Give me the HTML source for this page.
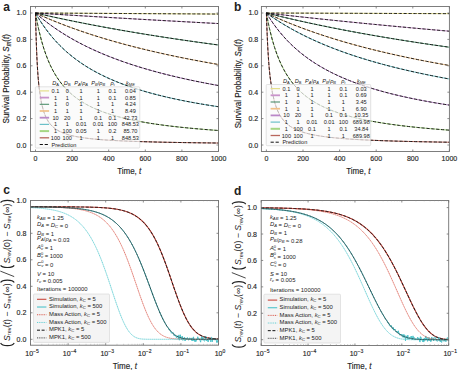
<!DOCTYPE html>
<html><head><meta charset="utf-8"><style>
html,body{margin:0;padding:0;background:#fff;width:458px;height:370px;overflow:hidden}
svg{display:block}
text.s{stroke:#2a2a2a;stroke-width:0.14px}
</style></head><body>
<svg width="458" height="370" viewBox="0 0 458 370" font-family="'Liberation Sans', sans-serif" fill="#222">
<rect width="458" height="370" fill="#fff"/>
<text x="3.2" y="10.6" font-size="12" font-weight="bold">a</text>
<path d="M35.5,13 L35.65,13 L35.8,13 L35.96,13 L36.11,13 L36.26,13 L36.41,13.01 L36.57,13.01 L36.72,13.01 L36.87,13.01 L37.02,13.01 L37.18,13.01 L37.33,13.01 L37.48,13.01 L37.63,13.01 L37.79,13.01 L37.94,13.01 L38.09,13.01 L38.24,13.02 L38.4,13.02 L38.55,13.02 L38.7,13.02 L38.86,13.02 L39.01,13.02 L39.16,13.02 L41.43,13.03 L43.7,13.05 L45.97,13.06 L48.24,13.07 L50.51,13.09 L52.78,13.1 L55.05,13.11 L57.32,13.13 L59.59,13.14 L61.86,13.15 L64.13,13.17 L66.4,13.18 L68.67,13.19 L70.94,13.2 L73.21,13.22 L75.48,13.23 L77.75,13.24 L80.02,13.26 L82.29,13.27 L84.56,13.28 L86.83,13.3 L89.1,13.31 L91.37,13.32 L93.64,13.33 L95.91,13.35 L98.18,13.36 L100.45,13.37 L102.72,13.39 L104.99,13.4 L107.26,13.41 L109.53,13.43 L111.8,13.44 L114.07,13.45 L116.34,13.46 L118.61,13.48 L120.88,13.49 L123.15,13.5 L125.42,13.52 L127.69,13.53 L129.97,13.54 L132.24,13.56 L134.51,13.57 L136.78,13.58 L139.05,13.59 L141.32,13.61 L143.59,13.62 L145.86,13.63 L148.13,13.65 L150.4,13.66 L152.67,13.67 L154.94,13.69 L157.21,13.7 L159.48,13.71 L161.75,13.72 L164.02,13.74 L166.29,13.75 L168.56,13.76 L170.83,13.78 L173.1,13.79 L175.37,13.8 L177.64,13.82 L179.91,13.83 L182.18,13.84 L184.45,13.85 L186.72,13.87 L188.99,13.88 L191.26,13.89 L193.53,13.91 L195.8,13.92 L198.07,13.93 L200.34,13.94 L202.61,13.96 L204.88,13.97 L207.15,13.98 L209.42,14 L211.69,14.01 L213.96,14.02 L216.23,14.03 L218.5,14.05" fill="none" stroke="#e4de8a" stroke-width="1.0"/>
<path d="M35.5,13 L35.65,13.01 L35.8,13.02 L35.96,13.03 L36.11,13.04 L36.26,13.05 L36.41,13.06 L36.57,13.07 L36.72,13.08 L36.87,13.09 L37.02,13.1 L37.18,13.11 L37.33,13.11 L37.48,13.12 L37.63,13.13 L37.79,13.14 L37.94,13.15 L38.09,13.16 L38.24,13.17 L38.4,13.18 L38.55,13.19 L38.7,13.2 L38.86,13.21 L39.01,13.22 L39.16,13.23 L41.43,13.37 L43.7,13.51 L45.97,13.65 L48.24,13.79 L50.51,13.94 L52.78,14.08 L55.05,14.22 L57.32,14.36 L59.59,14.49 L61.86,14.63 L64.13,14.77 L66.4,14.91 L68.67,15.05 L70.94,15.19 L73.21,15.32 L75.48,15.46 L77.75,15.6 L80.02,15.74 L82.29,15.87 L84.56,16.01 L86.83,16.14 L89.1,16.28 L91.37,16.42 L93.64,16.55 L95.91,16.69 L98.18,16.82 L100.45,16.95 L102.72,17.09 L104.99,17.22 L107.26,17.35 L109.53,17.49 L111.8,17.62 L114.07,17.75 L116.34,17.89 L118.61,18.02 L120.88,18.15 L123.15,18.28 L125.42,18.41 L127.69,18.54 L129.97,18.67 L132.24,18.8 L134.51,18.93 L136.78,19.06 L139.05,19.19 L141.32,19.32 L143.59,19.45 L145.86,19.58 L148.13,19.71 L150.4,19.84 L152.67,19.96 L154.94,20.09 L157.21,20.22 L159.48,20.35 L161.75,20.47 L164.02,20.6 L166.29,20.73 L168.56,20.85 L170.83,20.98 L173.1,21.1 L175.37,21.23 L177.64,21.36 L179.91,21.48 L182.18,21.6 L184.45,21.73 L186.72,21.85 L188.99,21.98 L191.26,22.1 L193.53,22.22 L195.8,22.35 L198.07,22.47 L200.34,22.59 L202.61,22.71 L204.88,22.84 L207.15,22.96 L209.42,23.08 L211.69,23.2 L213.96,23.32 L216.23,23.44 L218.5,23.56" fill="none" stroke="#c994cb" stroke-width="1.0"/>
<path d="M35.5,13 L35.65,13.04 L35.8,13.07 L35.96,13.11 L36.11,13.14 L36.26,13.18 L36.41,13.21 L36.57,13.25 L36.72,13.28 L36.87,13.32 L37.02,13.35 L37.18,13.39 L37.33,13.42 L37.48,13.46 L37.63,13.49 L37.79,13.53 L37.94,13.56 L38.09,13.6 L38.24,13.63 L38.4,13.67 L38.55,13.7 L38.7,13.74 L38.86,13.77 L39.01,13.8 L39.16,13.84 L41.43,14.35 L43.7,14.87 L45.97,15.37 L48.24,15.88 L50.51,16.38 L52.78,16.87 L55.05,17.36 L57.32,17.85 L59.59,18.34 L61.86,18.82 L64.13,19.29 L66.4,19.77 L68.67,20.24 L70.94,20.7 L73.21,21.17 L75.48,21.63 L77.75,22.08 L80.02,22.53 L82.29,22.98 L84.56,23.43 L86.83,23.87 L89.1,24.31 L91.37,24.75 L93.64,25.18 L95.91,25.61 L98.18,26.04 L100.45,26.46 L102.72,26.88 L104.99,27.3 L107.26,27.72 L109.53,28.13 L111.8,28.54 L114.07,28.95 L116.34,29.35 L118.61,29.75 L120.88,30.15 L123.15,30.54 L125.42,30.94 L127.69,31.33 L129.97,31.71 L132.24,32.1 L134.51,32.48 L136.78,32.86 L139.05,33.24 L141.32,33.61 L143.59,33.98 L145.86,34.35 L148.13,34.72 L150.4,35.08 L152.67,35.45 L154.94,35.81 L157.21,36.16 L159.48,36.52 L161.75,36.87 L164.02,37.22 L166.29,37.57 L168.56,37.92 L170.83,38.26 L173.1,38.6 L175.37,38.94 L177.64,39.28 L179.91,39.61 L182.18,39.95 L184.45,40.28 L186.72,40.6 L188.99,40.93 L191.26,41.26 L193.53,41.58 L195.8,41.9 L198.07,42.22 L200.34,42.53 L202.61,42.85 L204.88,43.16 L207.15,43.47 L209.42,43.78 L211.69,44.09 L213.96,44.39 L216.23,44.7 L218.5,45" fill="none" stroke="#4f8f6c" stroke-width="1.0"/>
<path d="M35.5,13 L35.65,13.07 L35.8,13.14 L35.96,13.21 L36.11,13.28 L36.26,13.35 L36.41,13.42 L36.57,13.49 L36.72,13.56 L36.87,13.63 L37.02,13.7 L37.18,13.77 L37.33,13.84 L37.48,13.91 L37.63,13.98 L37.79,14.05 L37.94,14.12 L38.09,14.19 L38.24,14.26 L38.4,14.32 L38.55,14.39 L38.7,14.46 L38.86,14.53 L39.01,14.6 L39.16,14.67 L41.43,15.68 L43.7,16.68 L45.97,17.66 L48.24,18.63 L50.51,19.58 L52.78,20.52 L55.05,21.45 L57.32,22.36 L59.59,23.26 L61.86,24.14 L64.13,25.01 L66.4,25.87 L68.67,26.72 L70.94,27.56 L73.21,28.38 L75.48,29.19 L77.75,29.99 L80.02,30.78 L82.29,31.56 L84.56,32.33 L86.83,33.09 L89.1,33.84 L91.37,34.58 L93.64,35.31 L95.91,36.02 L98.18,36.73 L100.45,37.43 L102.72,38.13 L104.99,38.81 L107.26,39.48 L109.53,40.15 L111.8,40.81 L114.07,41.45 L116.34,42.09 L118.61,42.73 L120.88,43.35 L123.15,43.97 L125.42,44.58 L127.69,45.18 L129.97,45.78 L132.24,46.37 L134.51,46.95 L136.78,47.52 L139.05,48.09 L141.32,48.65 L143.59,49.21 L145.86,49.76 L148.13,50.3 L150.4,50.84 L152.67,51.37 L154.94,51.89 L157.21,52.41 L159.48,52.92 L161.75,53.43 L164.02,53.93 L166.29,54.43 L168.56,54.92 L170.83,55.4 L173.1,55.88 L175.37,56.36 L177.64,56.83 L179.91,57.29 L182.18,57.75 L184.45,58.21 L186.72,58.66 L188.99,59.11 L191.26,59.55 L193.53,59.99 L195.8,60.42 L198.07,60.85 L200.34,61.27 L202.61,61.69 L204.88,62.1 L207.15,62.52 L209.42,62.92 L211.69,63.33 L213.96,63.73 L216.23,64.12 L218.5,64.51" fill="none" stroke="#f0c088" stroke-width="1.0"/>
<path d="M35.5,13 L35.65,13.13 L35.8,13.27 L35.96,13.4 L36.11,13.53 L36.26,13.67 L36.41,13.8 L36.57,13.93 L36.72,14.06 L36.87,14.2 L37.02,14.33 L37.18,14.46 L37.33,14.59 L37.48,14.72 L37.63,14.85 L37.79,14.98 L37.94,15.11 L38.09,15.24 L38.24,15.37 L38.4,15.5 L38.55,15.63 L38.7,15.76 L38.86,15.89 L39.01,16.02 L39.16,16.14 L41.43,18.02 L43.7,19.84 L45.97,21.61 L48.24,23.33 L50.51,25.01 L52.78,26.64 L55.05,28.22 L57.32,29.76 L59.59,31.27 L61.86,32.73 L64.13,34.16 L66.4,35.55 L68.67,36.9 L70.94,38.23 L73.21,39.52 L75.48,40.78 L77.75,42.01 L80.02,43.21 L82.29,44.39 L84.56,45.53 L86.83,46.66 L89.1,47.75 L91.37,48.82 L93.64,49.87 L95.91,50.9 L98.18,51.9 L100.45,52.89 L102.72,53.85 L104.99,54.79 L107.26,55.72 L109.53,56.62 L111.8,57.51 L114.07,58.38 L116.34,59.23 L118.61,60.06 L120.88,60.88 L123.15,61.69 L125.42,62.47 L127.69,63.25 L129.97,64.01 L132.24,64.75 L134.51,65.48 L136.78,66.2 L139.05,66.91 L141.32,67.6 L143.59,68.28 L145.86,68.95 L148.13,69.61 L150.4,70.25 L152.67,70.89 L154.94,71.51 L157.21,72.13 L159.48,72.73 L161.75,73.32 L164.02,73.91 L166.29,74.48 L168.56,75.05 L170.83,75.61 L173.1,76.15 L175.37,76.69 L177.64,77.22 L179.91,77.75 L182.18,78.26 L184.45,78.77 L186.72,79.27 L188.99,79.76 L191.26,80.24 L193.53,80.72 L195.8,81.19 L198.07,81.65 L200.34,82.11 L202.61,82.56 L204.88,83 L207.15,83.44 L209.42,83.87 L211.69,84.3 L213.96,84.72 L216.23,85.13 L218.5,85.54" fill="none" stroke="#bb88c8" stroke-width="1.0"/>
<path d="M35.5,13 L35.65,13.27 L35.8,13.54 L35.96,13.8 L36.11,14.07 L36.26,14.33 L36.41,14.6 L36.57,14.86 L36.72,15.12 L36.87,15.38 L37.02,15.64 L37.18,15.9 L37.33,16.16 L37.48,16.41 L37.63,16.67 L37.79,16.92 L37.94,17.18 L38.09,17.43 L38.24,17.68 L38.4,17.93 L38.55,18.18 L38.7,18.43 L38.86,18.67 L39.01,18.92 L39.16,19.17 L41.43,22.71 L43.7,26.06 L45.97,29.23 L48.24,32.23 L50.51,35.09 L52.78,37.8 L55.05,40.38 L57.32,42.84 L59.59,45.19 L61.86,47.43 L64.13,49.58 L66.4,51.63 L68.67,53.59 L70.94,55.48 L73.21,57.29 L75.48,59.02 L77.75,60.69 L80.02,62.3 L82.29,63.84 L84.56,65.33 L86.83,66.77 L89.1,68.15 L91.37,69.49 L93.64,70.78 L95.91,72.02 L98.18,73.23 L100.45,74.4 L102.72,75.53 L104.99,76.62 L107.26,77.68 L109.53,78.71 L111.8,79.7 L114.07,80.67 L116.34,81.61 L118.61,82.52 L120.88,83.41 L123.15,84.27 L125.42,85.11 L127.69,85.92 L129.97,86.71 L132.24,87.49 L134.51,88.24 L136.78,88.97 L139.05,89.68 L141.32,90.38 L143.59,91.06 L145.86,91.72 L148.13,92.36 L150.4,93 L152.67,93.61 L154.94,94.21 L157.21,94.8 L159.48,95.37 L161.75,95.93 L164.02,96.48 L166.29,97.02 L168.56,97.54 L170.83,98.05 L173.1,98.56 L175.37,99.05 L177.64,99.53 L179.91,100 L182.18,100.46 L184.45,100.91 L186.72,101.36 L188.99,101.79 L191.26,102.22 L193.53,102.63 L195.8,103.04 L198.07,103.44 L200.34,103.84 L202.61,104.22 L204.88,104.6 L207.15,104.98 L209.42,105.34 L211.69,105.7 L213.96,106.05 L216.23,106.4 L218.5,106.74" fill="none" stroke="#6cc0c8" stroke-width="1.0"/>
<path d="M35.5,13 L35.65,13.89 L35.8,14.76 L35.96,15.62 L36.11,16.47 L36.26,17.31 L36.41,18.14 L36.57,18.96 L36.72,19.76 L36.87,20.56 L37.02,21.35 L37.18,22.12 L37.33,22.89 L37.48,23.65 L37.63,24.4 L37.79,25.14 L37.94,25.87 L38.09,26.59 L38.24,27.3 L38.4,28 L38.55,28.7 L38.7,29.39 L38.86,30.07 L39.01,30.74 L39.16,31.4 L41.43,40.44 L43.7,48.15 L45.97,54.8 L48.24,60.6 L50.51,65.69 L52.78,70.21 L55.05,74.24 L57.32,77.85 L59.59,81.12 L61.86,84.08 L64.13,86.78 L66.4,89.25 L68.67,91.52 L70.94,93.61 L73.21,95.55 L75.48,97.34 L77.75,99.01 L80.02,100.57 L82.29,102.02 L84.56,103.38 L86.83,104.66 L89.1,105.86 L91.37,106.99 L93.64,108.06 L95.91,109.07 L98.18,110.03 L100.45,110.94 L102.72,111.8 L104.99,112.61 L107.26,113.39 L109.53,114.14 L111.8,114.85 L114.07,115.52 L116.34,116.17 L118.61,116.79 L120.88,117.38 L123.15,117.95 L125.42,118.5 L127.69,119.02 L129.97,119.52 L132.24,120.01 L134.51,120.47 L136.78,120.92 L139.05,121.36 L141.32,121.78 L143.59,122.18 L145.86,122.57 L148.13,122.95 L150.4,123.31 L152.67,123.66 L154.94,124 L157.21,124.33 L159.48,124.65 L161.75,124.96 L164.02,125.26 L166.29,125.56 L168.56,125.84 L170.83,126.12 L173.1,126.38 L175.37,126.64 L177.64,126.9 L179.91,127.14 L182.18,127.38 L184.45,127.62 L186.72,127.84 L188.99,128.06 L191.26,128.28 L193.53,128.49 L195.8,128.69 L198.07,128.89 L200.34,129.09 L202.61,129.28 L204.88,129.47 L207.15,129.65 L209.42,129.82 L211.69,130 L213.96,130.17 L216.23,130.33 L218.5,130.49" fill="none" stroke="#a6d684" stroke-width="1.0"/>
<path d="M35.5,13 L35.65,19.88 L35.8,26.08 L35.96,31.7 L36.11,36.8 L36.26,41.47 L36.41,45.75 L36.57,49.69 L36.72,53.33 L36.87,56.71 L37.02,59.84 L37.18,62.76 L37.33,65.48 L37.48,68.03 L37.63,70.42 L37.79,72.67 L37.94,74.79 L38.09,76.78 L38.24,78.67 L38.4,80.45 L38.55,82.14 L38.7,83.75 L38.86,85.27 L39.01,86.72 L39.16,88.1 L41.43,102.94 L43.7,111.65 L45.97,117.36 L48.24,121.41 L50.51,124.42 L52.78,126.75 L55.05,128.6 L57.32,130.12 L59.59,131.38 L61.86,132.44 L64.13,133.35 L66.4,134.13 L68.67,134.82 L70.94,135.42 L73.21,135.96 L75.48,136.44 L77.75,136.87 L80.02,137.26 L82.29,137.62 L84.56,137.94 L86.83,138.24 L89.1,138.51 L91.37,138.76 L93.64,138.99 L95.91,139.21 L98.18,139.41 L100.45,139.6 L102.72,139.77 L104.99,139.94 L107.26,140.09 L109.53,140.23 L111.8,140.37 L114.07,140.5 L116.34,140.62 L118.61,140.74 L120.88,140.85 L123.15,140.95 L125.42,141.05 L127.69,141.15 L129.97,141.24 L132.24,141.32 L134.51,141.4 L136.78,141.48 L139.05,141.56 L141.32,141.63 L143.59,141.7 L145.86,141.76 L148.13,141.83 L150.4,141.89 L152.67,141.95 L154.94,142.01 L157.21,142.06 L159.48,142.11 L161.75,142.16 L164.02,142.21 L166.29,142.26 L168.56,142.31 L170.83,142.35 L173.1,142.39 L175.37,142.43 L177.64,142.47 L179.91,142.51 L182.18,142.55 L184.45,142.59 L186.72,142.62 L188.99,142.66 L191.26,142.69 L193.53,142.72 L195.8,142.76 L198.07,142.79 L200.34,142.82 L202.61,142.85 L204.88,142.87 L207.15,142.9 L209.42,142.93 L211.69,142.95 L213.96,142.98 L216.23,143.01 L218.5,143.03" fill="none" stroke="#b8665c" stroke-width="1.0"/>
<path d="M35.5,13 L35.65,13 L35.8,13 L35.96,13 L36.11,13 L36.26,13 L36.41,13.01 L36.57,13.01 L36.72,13.01 L36.87,13.01 L37.02,13.01 L37.18,13.01 L37.33,13.01 L37.48,13.01 L37.63,13.01 L37.79,13.01 L37.94,13.01 L38.09,13.01 L38.24,13.02 L38.4,13.02 L38.55,13.02 L38.7,13.02 L38.86,13.02 L39.01,13.02 L39.16,13.02 L41.43,13.03 L43.7,13.05 L45.97,13.06 L48.24,13.07 L50.51,13.09 L52.78,13.1 L55.05,13.11 L57.32,13.13 L59.59,13.14 L61.86,13.15 L64.13,13.17 L66.4,13.18 L68.67,13.19 L70.94,13.2 L73.21,13.22 L75.48,13.23 L77.75,13.24 L80.02,13.26 L82.29,13.27 L84.56,13.28 L86.83,13.3 L89.1,13.31 L91.37,13.32 L93.64,13.33 L95.91,13.35 L98.18,13.36 L100.45,13.37 L102.72,13.39 L104.99,13.4 L107.26,13.41 L109.53,13.43 L111.8,13.44 L114.07,13.45 L116.34,13.46 L118.61,13.48 L120.88,13.49 L123.15,13.5 L125.42,13.52 L127.69,13.53 L129.97,13.54 L132.24,13.56 L134.51,13.57 L136.78,13.58 L139.05,13.59 L141.32,13.61 L143.59,13.62 L145.86,13.63 L148.13,13.65 L150.4,13.66 L152.67,13.67 L154.94,13.69 L157.21,13.7 L159.48,13.71 L161.75,13.72 L164.02,13.74 L166.29,13.75 L168.56,13.76 L170.83,13.78 L173.1,13.79 L175.37,13.8 L177.64,13.82 L179.91,13.83 L182.18,13.84 L184.45,13.85 L186.72,13.87 L188.99,13.88 L191.26,13.89 L193.53,13.91 L195.8,13.92 L198.07,13.93 L200.34,13.94 L202.61,13.96 L204.88,13.97 L207.15,13.98 L209.42,14 L211.69,14.01 L213.96,14.02 L216.23,14.03 L218.5,14.05" fill="none" stroke="#111" stroke-width="0.9" stroke-dasharray="3.2,1.7"/>
<path d="M35.5,13 L35.65,13.01 L35.8,13.02 L35.96,13.03 L36.11,13.04 L36.26,13.05 L36.41,13.06 L36.57,13.07 L36.72,13.08 L36.87,13.09 L37.02,13.1 L37.18,13.11 L37.33,13.11 L37.48,13.12 L37.63,13.13 L37.79,13.14 L37.94,13.15 L38.09,13.16 L38.24,13.17 L38.4,13.18 L38.55,13.19 L38.7,13.2 L38.86,13.21 L39.01,13.22 L39.16,13.23 L41.43,13.37 L43.7,13.51 L45.97,13.65 L48.24,13.79 L50.51,13.94 L52.78,14.08 L55.05,14.22 L57.32,14.36 L59.59,14.49 L61.86,14.63 L64.13,14.77 L66.4,14.91 L68.67,15.05 L70.94,15.19 L73.21,15.32 L75.48,15.46 L77.75,15.6 L80.02,15.74 L82.29,15.87 L84.56,16.01 L86.83,16.14 L89.1,16.28 L91.37,16.42 L93.64,16.55 L95.91,16.69 L98.18,16.82 L100.45,16.95 L102.72,17.09 L104.99,17.22 L107.26,17.35 L109.53,17.49 L111.8,17.62 L114.07,17.75 L116.34,17.89 L118.61,18.02 L120.88,18.15 L123.15,18.28 L125.42,18.41 L127.69,18.54 L129.97,18.67 L132.24,18.8 L134.51,18.93 L136.78,19.06 L139.05,19.19 L141.32,19.32 L143.59,19.45 L145.86,19.58 L148.13,19.71 L150.4,19.84 L152.67,19.96 L154.94,20.09 L157.21,20.22 L159.48,20.35 L161.75,20.47 L164.02,20.6 L166.29,20.73 L168.56,20.85 L170.83,20.98 L173.1,21.1 L175.37,21.23 L177.64,21.36 L179.91,21.48 L182.18,21.6 L184.45,21.73 L186.72,21.85 L188.99,21.98 L191.26,22.1 L193.53,22.22 L195.8,22.35 L198.07,22.47 L200.34,22.59 L202.61,22.71 L204.88,22.84 L207.15,22.96 L209.42,23.08 L211.69,23.2 L213.96,23.32 L216.23,23.44 L218.5,23.56" fill="none" stroke="#111" stroke-width="0.9" stroke-dasharray="3.2,1.7"/>
<path d="M35.5,13 L35.65,13.04 L35.8,13.07 L35.96,13.11 L36.11,13.14 L36.26,13.18 L36.41,13.21 L36.57,13.25 L36.72,13.28 L36.87,13.32 L37.02,13.35 L37.18,13.39 L37.33,13.42 L37.48,13.46 L37.63,13.49 L37.79,13.53 L37.94,13.56 L38.09,13.6 L38.24,13.63 L38.4,13.67 L38.55,13.7 L38.7,13.74 L38.86,13.77 L39.01,13.8 L39.16,13.84 L41.43,14.35 L43.7,14.87 L45.97,15.37 L48.24,15.88 L50.51,16.38 L52.78,16.87 L55.05,17.36 L57.32,17.85 L59.59,18.34 L61.86,18.82 L64.13,19.29 L66.4,19.77 L68.67,20.24 L70.94,20.7 L73.21,21.17 L75.48,21.63 L77.75,22.08 L80.02,22.53 L82.29,22.98 L84.56,23.43 L86.83,23.87 L89.1,24.31 L91.37,24.75 L93.64,25.18 L95.91,25.61 L98.18,26.04 L100.45,26.46 L102.72,26.88 L104.99,27.3 L107.26,27.72 L109.53,28.13 L111.8,28.54 L114.07,28.95 L116.34,29.35 L118.61,29.75 L120.88,30.15 L123.15,30.54 L125.42,30.94 L127.69,31.33 L129.97,31.71 L132.24,32.1 L134.51,32.48 L136.78,32.86 L139.05,33.24 L141.32,33.61 L143.59,33.98 L145.86,34.35 L148.13,34.72 L150.4,35.08 L152.67,35.45 L154.94,35.81 L157.21,36.16 L159.48,36.52 L161.75,36.87 L164.02,37.22 L166.29,37.57 L168.56,37.92 L170.83,38.26 L173.1,38.6 L175.37,38.94 L177.64,39.28 L179.91,39.61 L182.18,39.95 L184.45,40.28 L186.72,40.6 L188.99,40.93 L191.26,41.26 L193.53,41.58 L195.8,41.9 L198.07,42.22 L200.34,42.53 L202.61,42.85 L204.88,43.16 L207.15,43.47 L209.42,43.78 L211.69,44.09 L213.96,44.39 L216.23,44.7 L218.5,45" fill="none" stroke="#111" stroke-width="0.9" stroke-dasharray="3.2,1.7"/>
<path d="M35.5,13 L35.65,13.07 L35.8,13.14 L35.96,13.21 L36.11,13.28 L36.26,13.35 L36.41,13.42 L36.57,13.49 L36.72,13.56 L36.87,13.63 L37.02,13.7 L37.18,13.77 L37.33,13.84 L37.48,13.91 L37.63,13.98 L37.79,14.05 L37.94,14.12 L38.09,14.19 L38.24,14.26 L38.4,14.32 L38.55,14.39 L38.7,14.46 L38.86,14.53 L39.01,14.6 L39.16,14.67 L41.43,15.68 L43.7,16.68 L45.97,17.66 L48.24,18.63 L50.51,19.58 L52.78,20.52 L55.05,21.45 L57.32,22.36 L59.59,23.26 L61.86,24.14 L64.13,25.01 L66.4,25.87 L68.67,26.72 L70.94,27.56 L73.21,28.38 L75.48,29.19 L77.75,29.99 L80.02,30.78 L82.29,31.56 L84.56,32.33 L86.83,33.09 L89.1,33.84 L91.37,34.58 L93.64,35.31 L95.91,36.02 L98.18,36.73 L100.45,37.43 L102.72,38.13 L104.99,38.81 L107.26,39.48 L109.53,40.15 L111.8,40.81 L114.07,41.45 L116.34,42.09 L118.61,42.73 L120.88,43.35 L123.15,43.97 L125.42,44.58 L127.69,45.18 L129.97,45.78 L132.24,46.37 L134.51,46.95 L136.78,47.52 L139.05,48.09 L141.32,48.65 L143.59,49.21 L145.86,49.76 L148.13,50.3 L150.4,50.84 L152.67,51.37 L154.94,51.89 L157.21,52.41 L159.48,52.92 L161.75,53.43 L164.02,53.93 L166.29,54.43 L168.56,54.92 L170.83,55.4 L173.1,55.88 L175.37,56.36 L177.64,56.83 L179.91,57.29 L182.18,57.75 L184.45,58.21 L186.72,58.66 L188.99,59.11 L191.26,59.55 L193.53,59.99 L195.8,60.42 L198.07,60.85 L200.34,61.27 L202.61,61.69 L204.88,62.1 L207.15,62.52 L209.42,62.92 L211.69,63.33 L213.96,63.73 L216.23,64.12 L218.5,64.51" fill="none" stroke="#111" stroke-width="0.9" stroke-dasharray="3.2,1.7"/>
<path d="M35.5,13 L35.65,13.13 L35.8,13.27 L35.96,13.4 L36.11,13.53 L36.26,13.67 L36.41,13.8 L36.57,13.93 L36.72,14.06 L36.87,14.2 L37.02,14.33 L37.18,14.46 L37.33,14.59 L37.48,14.72 L37.63,14.85 L37.79,14.98 L37.94,15.11 L38.09,15.24 L38.24,15.37 L38.4,15.5 L38.55,15.63 L38.7,15.76 L38.86,15.89 L39.01,16.02 L39.16,16.14 L41.43,18.02 L43.7,19.84 L45.97,21.61 L48.24,23.33 L50.51,25.01 L52.78,26.64 L55.05,28.22 L57.32,29.76 L59.59,31.27 L61.86,32.73 L64.13,34.16 L66.4,35.55 L68.67,36.9 L70.94,38.23 L73.21,39.52 L75.48,40.78 L77.75,42.01 L80.02,43.21 L82.29,44.39 L84.56,45.53 L86.83,46.66 L89.1,47.75 L91.37,48.82 L93.64,49.87 L95.91,50.9 L98.18,51.9 L100.45,52.89 L102.72,53.85 L104.99,54.79 L107.26,55.72 L109.53,56.62 L111.8,57.51 L114.07,58.38 L116.34,59.23 L118.61,60.06 L120.88,60.88 L123.15,61.69 L125.42,62.47 L127.69,63.25 L129.97,64.01 L132.24,64.75 L134.51,65.48 L136.78,66.2 L139.05,66.91 L141.32,67.6 L143.59,68.28 L145.86,68.95 L148.13,69.61 L150.4,70.25 L152.67,70.89 L154.94,71.51 L157.21,72.13 L159.48,72.73 L161.75,73.32 L164.02,73.91 L166.29,74.48 L168.56,75.05 L170.83,75.61 L173.1,76.15 L175.37,76.69 L177.64,77.22 L179.91,77.75 L182.18,78.26 L184.45,78.77 L186.72,79.27 L188.99,79.76 L191.26,80.24 L193.53,80.72 L195.8,81.19 L198.07,81.65 L200.34,82.11 L202.61,82.56 L204.88,83 L207.15,83.44 L209.42,83.87 L211.69,84.3 L213.96,84.72 L216.23,85.13 L218.5,85.54" fill="none" stroke="#111" stroke-width="0.9" stroke-dasharray="3.2,1.7"/>
<path d="M35.5,13 L35.65,13.27 L35.8,13.54 L35.96,13.8 L36.11,14.07 L36.26,14.33 L36.41,14.6 L36.57,14.86 L36.72,15.12 L36.87,15.38 L37.02,15.64 L37.18,15.9 L37.33,16.16 L37.48,16.41 L37.63,16.67 L37.79,16.92 L37.94,17.18 L38.09,17.43 L38.24,17.68 L38.4,17.93 L38.55,18.18 L38.7,18.43 L38.86,18.67 L39.01,18.92 L39.16,19.17 L41.43,22.71 L43.7,26.06 L45.97,29.23 L48.24,32.23 L50.51,35.09 L52.78,37.8 L55.05,40.38 L57.32,42.84 L59.59,45.19 L61.86,47.43 L64.13,49.58 L66.4,51.63 L68.67,53.59 L70.94,55.48 L73.21,57.29 L75.48,59.02 L77.75,60.69 L80.02,62.3 L82.29,63.84 L84.56,65.33 L86.83,66.77 L89.1,68.15 L91.37,69.49 L93.64,70.78 L95.91,72.02 L98.18,73.23 L100.45,74.4 L102.72,75.53 L104.99,76.62 L107.26,77.68 L109.53,78.71 L111.8,79.7 L114.07,80.67 L116.34,81.61 L118.61,82.52 L120.88,83.41 L123.15,84.27 L125.42,85.11 L127.69,85.92 L129.97,86.71 L132.24,87.49 L134.51,88.24 L136.78,88.97 L139.05,89.68 L141.32,90.38 L143.59,91.06 L145.86,91.72 L148.13,92.36 L150.4,93 L152.67,93.61 L154.94,94.21 L157.21,94.8 L159.48,95.37 L161.75,95.93 L164.02,96.48 L166.29,97.02 L168.56,97.54 L170.83,98.05 L173.1,98.56 L175.37,99.05 L177.64,99.53 L179.91,100 L182.18,100.46 L184.45,100.91 L186.72,101.36 L188.99,101.79 L191.26,102.22 L193.53,102.63 L195.8,103.04 L198.07,103.44 L200.34,103.84 L202.61,104.22 L204.88,104.6 L207.15,104.98 L209.42,105.34 L211.69,105.7 L213.96,106.05 L216.23,106.4 L218.5,106.74" fill="none" stroke="#111" stroke-width="0.9" stroke-dasharray="3.2,1.7"/>
<path d="M35.5,13 L35.65,13.89 L35.8,14.76 L35.96,15.62 L36.11,16.47 L36.26,17.31 L36.41,18.14 L36.57,18.96 L36.72,19.76 L36.87,20.56 L37.02,21.35 L37.18,22.12 L37.33,22.89 L37.48,23.65 L37.63,24.4 L37.79,25.14 L37.94,25.87 L38.09,26.59 L38.24,27.3 L38.4,28 L38.55,28.7 L38.7,29.39 L38.86,30.07 L39.01,30.74 L39.16,31.4 L41.43,40.44 L43.7,48.15 L45.97,54.8 L48.24,60.6 L50.51,65.69 L52.78,70.21 L55.05,74.24 L57.32,77.85 L59.59,81.12 L61.86,84.08 L64.13,86.78 L66.4,89.25 L68.67,91.52 L70.94,93.61 L73.21,95.55 L75.48,97.34 L77.75,99.01 L80.02,100.57 L82.29,102.02 L84.56,103.38 L86.83,104.66 L89.1,105.86 L91.37,106.99 L93.64,108.06 L95.91,109.07 L98.18,110.03 L100.45,110.94 L102.72,111.8 L104.99,112.61 L107.26,113.39 L109.53,114.14 L111.8,114.85 L114.07,115.52 L116.34,116.17 L118.61,116.79 L120.88,117.38 L123.15,117.95 L125.42,118.5 L127.69,119.02 L129.97,119.52 L132.24,120.01 L134.51,120.47 L136.78,120.92 L139.05,121.36 L141.32,121.78 L143.59,122.18 L145.86,122.57 L148.13,122.95 L150.4,123.31 L152.67,123.66 L154.94,124 L157.21,124.33 L159.48,124.65 L161.75,124.96 L164.02,125.26 L166.29,125.56 L168.56,125.84 L170.83,126.12 L173.1,126.38 L175.37,126.64 L177.64,126.9 L179.91,127.14 L182.18,127.38 L184.45,127.62 L186.72,127.84 L188.99,128.06 L191.26,128.28 L193.53,128.49 L195.8,128.69 L198.07,128.89 L200.34,129.09 L202.61,129.28 L204.88,129.47 L207.15,129.65 L209.42,129.82 L211.69,130 L213.96,130.17 L216.23,130.33 L218.5,130.49" fill="none" stroke="#111" stroke-width="0.9" stroke-dasharray="3.2,1.7"/>
<path d="M35.5,13 L35.65,19.88 L35.8,26.08 L35.96,31.7 L36.11,36.8 L36.26,41.47 L36.41,45.75 L36.57,49.69 L36.72,53.33 L36.87,56.71 L37.02,59.84 L37.18,62.76 L37.33,65.48 L37.48,68.03 L37.63,70.42 L37.79,72.67 L37.94,74.79 L38.09,76.78 L38.24,78.67 L38.4,80.45 L38.55,82.14 L38.7,83.75 L38.86,85.27 L39.01,86.72 L39.16,88.1 L41.43,102.94 L43.7,111.65 L45.97,117.36 L48.24,121.41 L50.51,124.42 L52.78,126.75 L55.05,128.6 L57.32,130.12 L59.59,131.38 L61.86,132.44 L64.13,133.35 L66.4,134.13 L68.67,134.82 L70.94,135.42 L73.21,135.96 L75.48,136.44 L77.75,136.87 L80.02,137.26 L82.29,137.62 L84.56,137.94 L86.83,138.24 L89.1,138.51 L91.37,138.76 L93.64,138.99 L95.91,139.21 L98.18,139.41 L100.45,139.6 L102.72,139.77 L104.99,139.94 L107.26,140.09 L109.53,140.23 L111.8,140.37 L114.07,140.5 L116.34,140.62 L118.61,140.74 L120.88,140.85 L123.15,140.95 L125.42,141.05 L127.69,141.15 L129.97,141.24 L132.24,141.32 L134.51,141.4 L136.78,141.48 L139.05,141.56 L141.32,141.63 L143.59,141.7 L145.86,141.76 L148.13,141.83 L150.4,141.89 L152.67,141.95 L154.94,142.01 L157.21,142.06 L159.48,142.11 L161.75,142.16 L164.02,142.21 L166.29,142.26 L168.56,142.31 L170.83,142.35 L173.1,142.39 L175.37,142.43 L177.64,142.47 L179.91,142.51 L182.18,142.55 L184.45,142.59 L186.72,142.62 L188.99,142.66 L191.26,142.69 L193.53,142.72 L195.8,142.76 L198.07,142.79 L200.34,142.82 L202.61,142.85 L204.88,142.87 L207.15,142.9 L209.42,142.93 L211.69,142.95 L213.96,142.98 L216.23,143.01 L218.5,143.03" fill="none" stroke="#111" stroke-width="0.9" stroke-dasharray="3.2,1.7"/>
<rect x="30.5" y="6.5" width="188" height="145" fill="none" stroke="#707070" stroke-width="0.9"/>
<path d="M35.5,151.5 v-2 M35.5,6.5 v2" stroke="#707070" stroke-width="0.8"/>
<text class="s" x="35.5" y="161.2" font-size="7" text-anchor="middle">0</text>
<path d="M72.1,151.5 v-2 M72.1,6.5 v2" stroke="#707070" stroke-width="0.8"/>
<text class="s" x="72.1" y="161.2" font-size="7" text-anchor="middle">200</text>
<path d="M108.7,151.5 v-2 M108.7,6.5 v2" stroke="#707070" stroke-width="0.8"/>
<text class="s" x="108.7" y="161.2" font-size="7" text-anchor="middle">400</text>
<path d="M145.3,151.5 v-2 M145.3,6.5 v2" stroke="#707070" stroke-width="0.8"/>
<text class="s" x="145.3" y="161.2" font-size="7" text-anchor="middle">600</text>
<path d="M181.9,151.5 v-2 M181.9,6.5 v2" stroke="#707070" stroke-width="0.8"/>
<text class="s" x="181.9" y="161.2" font-size="7" text-anchor="middle">800</text>
<path d="M218.5,151.5 v-2 M218.5,6.5 v2" stroke="#707070" stroke-width="0.8"/>
<text class="s" x="218.5" y="161.2" font-size="7" text-anchor="middle">1000</text>
<path d="M30.5,145 h2 M218.5,145 h-2" stroke="#707070" stroke-width="0.8"/>
<text class="s" x="26.3" y="147.5" font-size="7" text-anchor="end">0.0</text>
<path d="M30.5,118.6 h2 M218.5,118.6 h-2" stroke="#707070" stroke-width="0.8"/>
<text class="s" x="26.3" y="121.1" font-size="7" text-anchor="end">0.2</text>
<path d="M30.5,92.2 h2 M218.5,92.2 h-2" stroke="#707070" stroke-width="0.8"/>
<text class="s" x="26.3" y="94.7" font-size="7" text-anchor="end">0.4</text>
<path d="M30.5,65.8 h2 M218.5,65.8 h-2" stroke="#707070" stroke-width="0.8"/>
<text class="s" x="26.3" y="68.3" font-size="7" text-anchor="end">0.6</text>
<path d="M30.5,39.4 h2 M218.5,39.4 h-2" stroke="#707070" stroke-width="0.8"/>
<text class="s" x="26.3" y="41.9" font-size="7" text-anchor="end">0.8</text>
<path d="M30.5,13 h2 M218.5,13 h-2" stroke="#707070" stroke-width="0.8"/>
<text class="s" x="26.3" y="14.7" font-size="7" text-anchor="end">1.0</text>
<text class="s" transform="translate(129.2,173.9) scale(1,1.12)" font-size="8" text-anchor="middle">Time, <tspan font-style="italic">t</tspan></text>
<text class="s" transform="translate(9.2,78.8) rotate(-90) scale(1,1.15)" font-size="8" text-anchor="middle">Survival Probability, <tspan font-style="italic">S</tspan><tspan font-size="5.5" dy="1.5" font-style="italic">m</tspan><tspan dy="-1.5">(</tspan><tspan font-style="italic">t</tspan>)</text>
<rect x="35.3" y="86.8" width="104.5" height="61.2" fill="#fafafa" fill-opacity="0.72" stroke="#d0d0d0" stroke-width="0.6" rx="1"/>
<text x="55.5" y="84.9" font-size="5.6" text-anchor="middle"><tspan font-style="italic">D</tspan><tspan font-size="4" dy="1">A</tspan></text>
<text x="67.2" y="84.9" font-size="5.6" text-anchor="middle"><tspan font-style="italic">D</tspan><tspan font-size="4" dy="1">B</tspan></text>
<text x="81.1" y="84.9" font-size="5.6" text-anchor="middle"><tspan font-style="italic">P</tspan><tspan font-size="4" dy="1" font-style="italic">A</tspan><tspan dy="-1">/</tspan><tspan font-style="italic">ρ</tspan><tspan font-size="4" dy="1" font-style="italic">A</tspan></text>
<text x="98.2" y="84.9" font-size="5.6" text-anchor="middle"><tspan font-style="italic">P</tspan><tspan font-size="4" dy="1" font-style="italic">B</tspan><tspan dy="-1">/</tspan><tspan font-style="italic">ρ</tspan><tspan font-size="4" dy="1" font-style="italic">B</tspan></text>
<text x="112.5" y="84.9" font-size="5.6" text-anchor="middle"><tspan font-style="italic">ρ</tspan><tspan font-size="4" dy="1" font-style="italic">i</tspan></text>
<text x="130.4" y="84.9" font-size="5.6" text-anchor="middle"><tspan font-style="italic">k</tspan><tspan font-size="4" dy="1" font-style="italic">ME</tspan></text>
<path d="M39.7,90.9 h9.4" stroke="#e4de8a" stroke-width="1.2"/>
<text x="55.5" y="92.9" font-size="5.6" text-anchor="middle">0.1</text>
<text x="67.2" y="92.9" font-size="5.6" text-anchor="middle">0</text>
<text x="81.1" y="92.9" font-size="5.6" text-anchor="middle">1</text>
<text x="98.2" y="92.9" font-size="5.6" text-anchor="middle">1</text>
<text x="112.5" y="92.9" font-size="5.6" text-anchor="middle">0.1</text>
<text x="130.4" y="92.9" font-size="5.6" text-anchor="middle">0.04</text>
<path d="M39.7,97.6 h9.4" stroke="#c994cb" stroke-width="1.8"/>
<text x="55.5" y="99.6" font-size="5.6" text-anchor="middle">1</text>
<text x="67.2" y="99.6" font-size="5.6" text-anchor="middle">1</text>
<text x="81.1" y="99.6" font-size="5.6" text-anchor="middle">1</text>
<text x="98.2" y="99.6" font-size="5.6" text-anchor="middle">1</text>
<text x="112.5" y="99.6" font-size="5.6" text-anchor="middle">0.1</text>
<text x="130.4" y="99.6" font-size="5.6" text-anchor="middle">0.85</text>
<path d="M39.7,104.3 h9.4" stroke="#4f8f6c" stroke-width="1.1"/>
<text x="55.5" y="106.3" font-size="5.6" text-anchor="middle">1</text>
<text x="67.2" y="106.3" font-size="5.6" text-anchor="middle">0</text>
<text x="81.1" y="106.3" font-size="5.6" text-anchor="middle">1</text>
<text x="98.2" y="106.3" font-size="5.6" text-anchor="middle">1</text>
<text x="112.5" y="106.3" font-size="5.6" text-anchor="middle">1</text>
<text x="130.4" y="106.3" font-size="5.6" text-anchor="middle">4.24</text>
<path d="M39.7,111 h9.4" stroke="#f0c088" stroke-width="1.7"/>
<text x="55.5" y="113" font-size="5.6" text-anchor="middle">1</text>
<text x="67.2" y="113" font-size="5.6" text-anchor="middle">1</text>
<text x="81.1" y="113" font-size="5.6" text-anchor="middle">1</text>
<text x="98.2" y="113" font-size="5.6" text-anchor="middle">1</text>
<text x="112.5" y="113" font-size="5.6" text-anchor="middle">1</text>
<text x="130.4" y="113" font-size="5.6" text-anchor="middle">8.49</text>
<path d="M39.7,117.7 h9.4" stroke="#bb88c8" stroke-width="1.8"/>
<text x="55.5" y="119.7" font-size="5.6" text-anchor="middle">10</text>
<text x="67.2" y="119.7" font-size="5.6" text-anchor="middle">20</text>
<text x="81.1" y="119.7" font-size="5.6" text-anchor="middle">1</text>
<text x="98.2" y="119.7" font-size="5.6" text-anchor="middle">0.1</text>
<text x="112.5" y="119.7" font-size="5.6" text-anchor="middle">0.1</text>
<text x="130.4" y="119.7" font-size="5.6" text-anchor="middle">42.73</text>
<path d="M39.7,124.4 h9.4" stroke="#6cc0c8" stroke-width="1.2"/>
<text x="55.5" y="126.4" font-size="5.6" text-anchor="middle">1</text>
<text x="67.2" y="126.4" font-size="5.6" text-anchor="middle">1</text>
<text x="81.1" y="126.4" font-size="5.6" text-anchor="middle">0.01</text>
<text x="98.2" y="126.4" font-size="5.6" text-anchor="middle">0.01</text>
<text x="112.5" y="126.4" font-size="5.6" text-anchor="middle">100</text>
<text x="130.4" y="126.4" font-size="5.6" text-anchor="middle">848.53</text>
<path d="M39.7,131.1 h9.4" stroke="#a6d684" stroke-width="2.0"/>
<text x="55.5" y="133.1" font-size="5.6" text-anchor="middle">1</text>
<text x="67.2" y="133.1" font-size="5.6" text-anchor="middle">100</text>
<text x="81.1" y="133.1" font-size="5.6" text-anchor="middle">0.05</text>
<text x="98.2" y="133.1" font-size="5.6" text-anchor="middle">1</text>
<text x="112.5" y="133.1" font-size="5.6" text-anchor="middle">0.2</text>
<text x="130.4" y="133.1" font-size="5.6" text-anchor="middle">85.70</text>
<path d="M39.7,137.8 h9.4" stroke="#b8665c" stroke-width="1.3"/>
<text x="55.5" y="139.8" font-size="5.6" text-anchor="middle">100</text>
<text x="67.2" y="139.8" font-size="5.6" text-anchor="middle">100</text>
<text x="81.1" y="139.8" font-size="5.6" text-anchor="middle">1</text>
<text x="98.2" y="139.8" font-size="5.6" text-anchor="middle">1</text>
<text x="112.5" y="139.8" font-size="5.6" text-anchor="middle">1</text>
<text x="130.4" y="139.8" font-size="5.6" text-anchor="middle">848.53</text>
<path d="M39.7,144.5 h9.4" stroke="#111" stroke-width="1" stroke-dasharray="3.2,1.8"/>
<text x="51.5" y="146.5" font-size="5.6">Prediction</text>
<text x="234.1" y="10.6" font-size="12" font-weight="bold">b</text>
<path d="M266.4,13 L266.55,13 L266.7,13 L266.86,13 L267.01,13 L267.16,13 L267.31,13 L267.47,13 L267.62,13 L267.77,13 L267.92,13.01 L268.08,13.01 L268.23,13.01 L268.38,13.01 L268.53,13.01 L268.69,13.01 L268.84,13.01 L268.99,13.01 L269.14,13.01 L269.3,13.01 L269.45,13.01 L269.6,13.01 L269.75,13.01 L269.91,13.01 L270.06,13.01 L272.33,13.02 L274.6,13.03 L276.87,13.04 L279.14,13.05 L281.41,13.05 L283.68,13.06 L285.95,13.07 L288.22,13.08 L290.49,13.09 L292.76,13.1 L295.03,13.1 L297.3,13.11 L299.57,13.12 L301.84,13.13 L304.11,13.14 L306.38,13.14 L308.65,13.15 L310.92,13.16 L313.19,13.17 L315.46,13.18 L317.73,13.18 L320,13.19 L322.27,13.2 L324.54,13.21 L326.81,13.22 L329.08,13.23 L331.35,13.23 L333.62,13.24 L335.89,13.25 L338.16,13.26 L340.43,13.27 L342.7,13.27 L344.97,13.28 L347.24,13.29 L349.51,13.3 L351.78,13.31 L354.05,13.32 L356.32,13.32 L358.59,13.33 L360.87,13.34 L363.14,13.35 L365.41,13.36 L367.68,13.36 L369.95,13.37 L372.22,13.38 L374.49,13.39 L376.76,13.4 L379.03,13.4 L381.3,13.41 L383.57,13.42 L385.84,13.43 L388.11,13.44 L390.38,13.45 L392.65,13.45 L394.92,13.46 L397.19,13.47 L399.46,13.48 L401.73,13.49 L404,13.49 L406.27,13.5 L408.54,13.51 L410.81,13.52 L413.08,13.53 L415.35,13.54 L417.62,13.54 L419.89,13.55 L422.16,13.56 L424.43,13.57 L426.7,13.58 L428.97,13.58 L431.24,13.59 L433.51,13.6 L435.78,13.61 L438.05,13.62 L440.32,13.62 L442.59,13.63 L444.86,13.64 L447.13,13.65 L449.4,13.66" fill="none" stroke="#e4de8a" stroke-width="1.0"/>
<path d="M266.4,13 L266.55,13.02 L266.7,13.04 L266.86,13.05 L267.01,13.07 L267.16,13.09 L267.31,13.11 L267.47,13.12 L267.62,13.14 L267.77,13.16 L267.92,13.18 L268.08,13.19 L268.23,13.21 L268.38,13.23 L268.53,13.25 L268.69,13.26 L268.84,13.28 L268.99,13.3 L269.14,13.32 L269.3,13.33 L269.45,13.35 L269.6,13.37 L269.75,13.39 L269.91,13.4 L270.06,13.42 L272.33,13.68 L274.6,13.94 L276.87,14.2 L279.14,14.45 L281.41,14.71 L283.68,14.96 L285.95,15.22 L288.22,15.47 L290.49,15.72 L292.76,15.97 L295.03,16.22 L297.3,16.47 L299.57,16.72 L301.84,16.97 L304.11,17.21 L306.38,17.46 L308.65,17.7 L310.92,17.95 L313.19,18.19 L315.46,18.43 L317.73,18.67 L320,18.91 L322.27,19.15 L324.54,19.39 L326.81,19.62 L329.08,19.86 L331.35,20.09 L333.62,20.33 L335.89,20.56 L338.16,20.79 L340.43,21.02 L342.7,21.26 L344.97,21.49 L347.24,21.71 L349.51,21.94 L351.78,22.17 L354.05,22.4 L356.32,22.62 L358.59,22.85 L360.87,23.07 L363.14,23.29 L365.41,23.52 L367.68,23.74 L369.95,23.96 L372.22,24.18 L374.49,24.4 L376.76,24.62 L379.03,24.83 L381.3,25.05 L383.57,25.27 L385.84,25.48 L388.11,25.7 L390.38,25.91 L392.65,26.12 L394.92,26.33 L397.19,26.55 L399.46,26.76 L401.73,26.97 L404,27.17 L406.27,27.38 L408.54,27.59 L410.81,27.8 L413.08,28 L415.35,28.21 L417.62,28.41 L419.89,28.62 L422.16,28.82 L424.43,29.02 L426.7,29.23 L428.97,29.43 L431.24,29.63 L433.51,29.83 L435.78,30.03 L438.05,30.22 L440.32,30.42 L442.59,30.62 L444.86,30.82 L447.13,31.01 L449.4,31.21" fill="none" stroke="#c994cb" stroke-width="1.0"/>
<path d="M266.4,13 L266.55,13.04 L266.7,13.08 L266.86,13.12 L267.01,13.15 L267.16,13.19 L267.31,13.23 L267.47,13.27 L267.62,13.31 L267.77,13.35 L267.92,13.38 L268.08,13.42 L268.23,13.46 L268.38,13.5 L268.53,13.54 L268.69,13.57 L268.84,13.61 L268.99,13.65 L269.14,13.69 L269.3,13.73 L269.45,13.77 L269.6,13.8 L269.75,13.84 L269.91,13.88 L270.06,13.92 L272.33,14.48 L274.6,15.04 L276.87,15.59 L279.14,16.14 L281.41,16.68 L283.68,17.22 L285.95,17.76 L288.22,18.29 L290.49,18.81 L292.76,19.34 L295.03,19.85 L297.3,20.37 L299.57,20.87 L301.84,21.38 L304.11,21.88 L306.38,22.38 L308.65,22.87 L310.92,23.36 L313.19,23.84 L315.46,24.32 L317.73,24.8 L320,25.27 L322.27,25.74 L324.54,26.21 L326.81,26.67 L329.08,27.13 L331.35,27.59 L333.62,28.04 L335.89,28.49 L338.16,28.93 L340.43,29.37 L342.7,29.81 L344.97,30.25 L347.24,30.68 L349.51,31.1 L351.78,31.53 L354.05,31.95 L356.32,32.37 L358.59,32.79 L360.87,33.2 L363.14,33.61 L365.41,34.02 L367.68,34.42 L369.95,34.82 L372.22,35.22 L374.49,35.61 L376.76,36 L379.03,36.39 L381.3,36.78 L383.57,37.16 L385.84,37.55 L388.11,37.92 L390.38,38.3 L392.65,38.67 L394.92,39.04 L397.19,39.41 L399.46,39.78 L401.73,40.14 L404,40.5 L406.27,40.86 L408.54,41.21 L410.81,41.57 L413.08,41.92 L415.35,42.27 L417.62,42.61 L419.89,42.96 L422.16,43.3 L424.43,43.64 L426.7,43.97 L428.97,44.31 L431.24,44.64 L433.51,44.97 L435.78,45.3 L438.05,45.62 L440.32,45.95 L442.59,46.27 L444.86,46.59 L447.13,46.91 L449.4,47.22" fill="none" stroke="#4f8f6c" stroke-width="1.0"/>
<path d="M266.4,13 L266.55,13.07 L266.7,13.15 L266.86,13.22 L267.01,13.29 L267.16,13.36 L267.31,13.43 L267.47,13.51 L267.62,13.58 L267.77,13.65 L267.92,13.72 L268.08,13.79 L268.23,13.87 L268.38,13.94 L268.53,14.01 L268.69,14.08 L268.84,14.15 L268.99,14.22 L269.14,14.29 L269.3,14.37 L269.45,14.44 L269.6,14.51 L269.75,14.58 L269.91,14.65 L270.06,14.72 L272.33,15.76 L274.6,16.79 L276.87,17.8 L279.14,18.8 L281.41,19.78 L283.68,20.74 L285.95,21.69 L288.22,22.63 L290.49,23.55 L292.76,24.46 L295.03,25.35 L297.3,26.24 L299.57,27.1 L301.84,27.96 L304.11,28.8 L306.38,29.64 L308.65,30.45 L310.92,31.26 L313.19,32.06 L315.46,32.85 L317.73,33.62 L320,34.38 L322.27,35.14 L324.54,35.88 L326.81,36.62 L329.08,37.34 L331.35,38.05 L333.62,38.76 L335.89,39.45 L338.16,40.14 L340.43,40.82 L342.7,41.49 L344.97,42.15 L347.24,42.8 L349.51,43.44 L351.78,44.08 L354.05,44.71 L356.32,45.33 L358.59,45.94 L360.87,46.54 L363.14,47.14 L365.41,47.73 L367.68,48.31 L369.95,48.89 L372.22,49.46 L374.49,50.02 L376.76,50.58 L379.03,51.13 L381.3,51.67 L383.57,52.21 L385.84,52.74 L388.11,53.27 L390.38,53.78 L392.65,54.3 L394.92,54.81 L397.19,55.31 L399.46,55.8 L401.73,56.29 L404,56.78 L406.27,57.26 L408.54,57.73 L410.81,58.2 L413.08,58.67 L415.35,59.13 L417.62,59.58 L419.89,60.03 L422.16,60.48 L424.43,60.92 L426.7,61.36 L428.97,61.79 L431.24,62.22 L433.51,62.64 L435.78,63.06 L438.05,63.47 L440.32,63.88 L442.59,64.29 L444.86,64.69 L447.13,65.09 L449.4,65.48" fill="none" stroke="#f0c088" stroke-width="1.0"/>
<path d="M266.4,13 L266.55,13.25 L266.7,13.51 L266.86,13.76 L267.01,14.01 L267.16,14.26 L267.31,14.51 L267.47,14.76 L267.62,15 L267.77,15.25 L267.92,15.49 L268.08,15.74 L268.23,15.98 L268.38,16.22 L268.53,16.46 L268.69,16.7 L268.84,16.94 L268.99,17.18 L269.14,17.42 L269.3,17.66 L269.45,17.89 L269.6,18.13 L269.75,18.36 L269.91,18.6 L270.06,18.83 L272.33,22.19 L274.6,25.38 L276.87,28.41 L279.14,31.29 L281.41,34.03 L283.68,36.64 L285.95,39.13 L288.22,41.51 L290.49,43.78 L292.76,45.96 L295.03,48.04 L297.3,50.04 L299.57,51.96 L301.84,53.8 L304.11,55.57 L306.38,57.27 L308.65,58.91 L310.92,60.49 L313.19,62.02 L315.46,63.48 L317.73,64.9 L320,66.27 L322.27,67.59 L324.54,68.87 L326.81,70.11 L329.08,71.31 L331.35,72.47 L333.62,73.59 L335.89,74.68 L338.16,75.74 L340.43,76.77 L342.7,77.76 L344.97,78.73 L347.24,79.67 L349.51,80.58 L351.78,81.47 L354.05,82.34 L356.32,83.18 L358.59,84 L360.87,84.79 L363.14,85.57 L365.41,86.33 L367.68,87.06 L369.95,87.78 L372.22,88.49 L374.49,89.17 L376.76,89.84 L379.03,90.49 L381.3,91.13 L383.57,91.75 L385.84,92.36 L388.11,92.96 L390.38,93.54 L392.65,94.11 L394.92,94.66 L397.19,95.21 L399.46,95.74 L401.73,96.26 L404,96.77 L406.27,97.27 L408.54,97.76 L410.81,98.24 L413.08,98.71 L415.35,99.17 L417.62,99.62 L419.89,100.06 L422.16,100.5 L424.43,100.92 L426.7,101.34 L428.97,101.75 L431.24,102.15 L433.51,102.55 L435.78,102.94 L438.05,103.32 L440.32,103.69 L442.59,104.06 L444.86,104.42 L447.13,104.77 L449.4,105.12" fill="none" stroke="#bb88c8" stroke-width="1.0"/>
<path d="M266.4,13 L266.55,13.11 L266.7,13.22 L266.86,13.33 L267.01,13.44 L267.16,13.55 L267.31,13.66 L267.47,13.77 L267.62,13.87 L267.77,13.98 L267.92,14.09 L268.08,14.2 L268.23,14.31 L268.38,14.41 L268.53,14.52 L268.69,14.63 L268.84,14.74 L268.99,14.84 L269.14,14.95 L269.3,15.06 L269.45,15.16 L269.6,15.27 L269.75,15.38 L269.91,15.48 L270.06,15.59 L272.33,17.14 L274.6,18.66 L276.87,20.14 L279.14,21.59 L281.41,23.01 L283.68,24.39 L285.95,25.74 L288.22,27.06 L290.49,28.36 L292.76,29.62 L295.03,30.86 L297.3,32.07 L299.57,33.26 L301.84,34.42 L304.11,35.55 L306.38,36.67 L308.65,37.76 L310.92,38.83 L313.19,39.88 L315.46,40.91 L317.73,41.92 L320,42.9 L322.27,43.88 L324.54,44.83 L326.81,45.76 L329.08,46.68 L331.35,47.58 L333.62,48.46 L335.89,49.33 L338.16,50.18 L340.43,51.02 L342.7,51.84 L344.97,52.65 L347.24,53.45 L349.51,54.23 L351.78,54.99 L354.05,55.75 L356.32,56.49 L358.59,57.22 L360.87,57.94 L363.14,58.65 L365.41,59.34 L367.68,60.03 L369.95,60.7 L372.22,61.36 L374.49,62.01 L376.76,62.66 L379.03,63.29 L381.3,63.91 L383.57,64.52 L385.84,65.13 L388.11,65.72 L390.38,66.31 L392.65,66.89 L394.92,67.46 L397.19,68.02 L399.46,68.57 L401.73,69.12 L404,69.65 L406.27,70.18 L408.54,70.71 L410.81,71.22 L413.08,71.73 L415.35,72.23 L417.62,72.72 L419.89,73.21 L422.16,73.69 L424.43,74.17 L426.7,74.64 L428.97,75.1 L431.24,75.55 L433.51,76 L435.78,76.45 L438.05,76.89 L440.32,77.32 L442.59,77.75 L444.86,78.17 L447.13,78.59 L449.4,79" fill="none" stroke="#6cc0c8" stroke-width="1.0"/>
<path d="M266.4,13 L266.55,13.86 L266.7,14.72 L266.86,15.56 L267.01,16.39 L267.16,17.21 L267.31,18.02 L267.47,18.82 L267.62,19.6 L267.77,20.38 L267.92,21.15 L268.08,21.91 L268.23,22.66 L268.38,23.41 L268.53,24.14 L268.69,24.86 L268.84,25.58 L268.99,26.29 L269.14,26.98 L269.3,27.68 L269.45,28.36 L269.6,29.03 L269.75,29.7 L269.91,30.36 L270.06,31.01 L272.33,39.9 L274.6,47.51 L276.87,54.09 L279.14,59.84 L281.41,64.9 L283.68,69.4 L285.95,73.42 L288.22,77.03 L290.49,80.29 L292.76,83.26 L295.03,85.97 L297.3,88.44 L299.57,90.72 L301.84,92.83 L304.11,94.77 L306.38,96.58 L308.65,98.26 L310.92,99.83 L313.19,101.29 L315.46,102.67 L317.73,103.96 L320,105.17 L322.27,106.31 L324.54,107.39 L326.81,108.41 L329.08,109.38 L331.35,110.3 L333.62,111.17 L335.89,112 L338.16,112.79 L340.43,113.54 L342.7,114.26 L344.97,114.95 L347.24,115.6 L349.51,116.23 L351.78,116.83 L354.05,117.41 L356.32,117.96 L358.59,118.49 L360.87,119.01 L363.14,119.5 L365.41,119.97 L367.68,120.43 L369.95,120.87 L372.22,121.29 L374.49,121.7 L376.76,122.1 L379.03,122.48 L381.3,122.85 L383.57,123.21 L385.84,123.56 L388.11,123.89 L390.38,124.22 L392.65,124.53 L394.92,124.84 L397.19,125.14 L399.46,125.43 L401.73,125.71 L404,125.98 L406.27,126.24 L408.54,126.5 L410.81,126.75 L413.08,127 L415.35,127.23 L417.62,127.47 L419.89,127.69 L422.16,127.91 L424.43,128.12 L426.7,128.33 L428.97,128.54 L431.24,128.74 L433.51,128.93 L435.78,129.12 L438.05,129.3 L440.32,129.49 L442.59,129.66 L444.86,129.83 L447.13,130 L449.4,130.17" fill="none" stroke="#a6d684" stroke-width="1.0"/>
<path d="M266.4,13 L266.55,17.93 L266.7,22.51 L266.86,26.77 L267.01,30.75 L267.16,34.46 L267.31,37.94 L267.47,41.21 L267.62,44.29 L267.77,47.19 L267.92,49.92 L268.08,52.51 L268.23,54.96 L268.38,57.28 L268.53,59.49 L268.69,61.59 L268.84,63.59 L268.99,65.49 L269.14,67.31 L269.3,69.04 L269.45,70.7 L269.6,72.29 L269.75,73.82 L269.91,75.28 L270.06,76.68 L272.33,92.41 L274.6,102.26 L276.87,109 L279.14,113.9 L281.41,117.63 L283.68,120.56 L285.95,122.92 L288.22,124.87 L290.49,126.5 L292.76,127.89 L295.03,129.08 L297.3,130.12 L299.57,131.03 L301.84,131.83 L304.11,132.55 L306.38,133.19 L308.65,133.77 L310.92,134.3 L313.19,134.78 L315.46,135.22 L317.73,135.62 L320,135.99 L322.27,136.33 L324.54,136.65 L326.81,136.94 L329.08,137.22 L331.35,137.47 L333.62,137.71 L335.89,137.94 L338.16,138.15 L340.43,138.35 L342.7,138.54 L344.97,138.72 L347.24,138.89 L349.51,139.04 L351.78,139.2 L354.05,139.34 L356.32,139.48 L358.59,139.61 L360.87,139.73 L363.14,139.85 L365.41,139.96 L367.68,140.07 L369.95,140.18 L372.22,140.28 L374.49,140.37 L376.76,140.46 L379.03,140.55 L381.3,140.64 L383.57,140.72 L385.84,140.8 L388.11,140.87 L390.38,140.95 L392.65,141.02 L394.92,141.09 L397.19,141.15 L399.46,141.22 L401.73,141.28 L404,141.34 L406.27,141.4 L408.54,141.45 L410.81,141.51 L413.08,141.56 L415.35,141.61 L417.62,141.66 L419.89,141.71 L422.16,141.75 L424.43,141.8 L426.7,141.84 L428.97,141.89 L431.24,141.93 L433.51,141.97 L435.78,142.01 L438.05,142.05 L440.32,142.09 L442.59,142.12 L444.86,142.16 L447.13,142.19 L449.4,142.23" fill="none" stroke="#b8665c" stroke-width="1.0"/>
<path d="M266.4,13 L266.55,13 L266.7,13 L266.86,13 L267.01,13 L267.16,13 L267.31,13 L267.47,13 L267.62,13 L267.77,13 L267.92,13.01 L268.08,13.01 L268.23,13.01 L268.38,13.01 L268.53,13.01 L268.69,13.01 L268.84,13.01 L268.99,13.01 L269.14,13.01 L269.3,13.01 L269.45,13.01 L269.6,13.01 L269.75,13.01 L269.91,13.01 L270.06,13.01 L272.33,13.02 L274.6,13.03 L276.87,13.04 L279.14,13.05 L281.41,13.05 L283.68,13.06 L285.95,13.07 L288.22,13.08 L290.49,13.09 L292.76,13.1 L295.03,13.1 L297.3,13.11 L299.57,13.12 L301.84,13.13 L304.11,13.14 L306.38,13.14 L308.65,13.15 L310.92,13.16 L313.19,13.17 L315.46,13.18 L317.73,13.18 L320,13.19 L322.27,13.2 L324.54,13.21 L326.81,13.22 L329.08,13.23 L331.35,13.23 L333.62,13.24 L335.89,13.25 L338.16,13.26 L340.43,13.27 L342.7,13.27 L344.97,13.28 L347.24,13.29 L349.51,13.3 L351.78,13.31 L354.05,13.32 L356.32,13.32 L358.59,13.33 L360.87,13.34 L363.14,13.35 L365.41,13.36 L367.68,13.36 L369.95,13.37 L372.22,13.38 L374.49,13.39 L376.76,13.4 L379.03,13.4 L381.3,13.41 L383.57,13.42 L385.84,13.43 L388.11,13.44 L390.38,13.45 L392.65,13.45 L394.92,13.46 L397.19,13.47 L399.46,13.48 L401.73,13.49 L404,13.49 L406.27,13.5 L408.54,13.51 L410.81,13.52 L413.08,13.53 L415.35,13.54 L417.62,13.54 L419.89,13.55 L422.16,13.56 L424.43,13.57 L426.7,13.58 L428.97,13.58 L431.24,13.59 L433.51,13.6 L435.78,13.61 L438.05,13.62 L440.32,13.62 L442.59,13.63 L444.86,13.64 L447.13,13.65 L449.4,13.66" fill="none" stroke="#111" stroke-width="0.9" stroke-dasharray="3.2,1.7"/>
<path d="M266.4,13 L266.55,13.02 L266.7,13.04 L266.86,13.05 L267.01,13.07 L267.16,13.09 L267.31,13.11 L267.47,13.12 L267.62,13.14 L267.77,13.16 L267.92,13.18 L268.08,13.19 L268.23,13.21 L268.38,13.23 L268.53,13.25 L268.69,13.26 L268.84,13.28 L268.99,13.3 L269.14,13.32 L269.3,13.33 L269.45,13.35 L269.6,13.37 L269.75,13.39 L269.91,13.4 L270.06,13.42 L272.33,13.68 L274.6,13.94 L276.87,14.2 L279.14,14.45 L281.41,14.71 L283.68,14.96 L285.95,15.22 L288.22,15.47 L290.49,15.72 L292.76,15.97 L295.03,16.22 L297.3,16.47 L299.57,16.72 L301.84,16.97 L304.11,17.21 L306.38,17.46 L308.65,17.7 L310.92,17.95 L313.19,18.19 L315.46,18.43 L317.73,18.67 L320,18.91 L322.27,19.15 L324.54,19.39 L326.81,19.62 L329.08,19.86 L331.35,20.09 L333.62,20.33 L335.89,20.56 L338.16,20.79 L340.43,21.02 L342.7,21.26 L344.97,21.49 L347.24,21.71 L349.51,21.94 L351.78,22.17 L354.05,22.4 L356.32,22.62 L358.59,22.85 L360.87,23.07 L363.14,23.29 L365.41,23.52 L367.68,23.74 L369.95,23.96 L372.22,24.18 L374.49,24.4 L376.76,24.62 L379.03,24.83 L381.3,25.05 L383.57,25.27 L385.84,25.48 L388.11,25.7 L390.38,25.91 L392.65,26.12 L394.92,26.33 L397.19,26.55 L399.46,26.76 L401.73,26.97 L404,27.17 L406.27,27.38 L408.54,27.59 L410.81,27.8 L413.08,28 L415.35,28.21 L417.62,28.41 L419.89,28.62 L422.16,28.82 L424.43,29.02 L426.7,29.23 L428.97,29.43 L431.24,29.63 L433.51,29.83 L435.78,30.03 L438.05,30.22 L440.32,30.42 L442.59,30.62 L444.86,30.82 L447.13,31.01 L449.4,31.21" fill="none" stroke="#111" stroke-width="0.9" stroke-dasharray="3.2,1.7"/>
<path d="M266.4,13 L266.55,13.04 L266.7,13.08 L266.86,13.12 L267.01,13.15 L267.16,13.19 L267.31,13.23 L267.47,13.27 L267.62,13.31 L267.77,13.35 L267.92,13.38 L268.08,13.42 L268.23,13.46 L268.38,13.5 L268.53,13.54 L268.69,13.57 L268.84,13.61 L268.99,13.65 L269.14,13.69 L269.3,13.73 L269.45,13.77 L269.6,13.8 L269.75,13.84 L269.91,13.88 L270.06,13.92 L272.33,14.48 L274.6,15.04 L276.87,15.59 L279.14,16.14 L281.41,16.68 L283.68,17.22 L285.95,17.76 L288.22,18.29 L290.49,18.81 L292.76,19.34 L295.03,19.85 L297.3,20.37 L299.57,20.87 L301.84,21.38 L304.11,21.88 L306.38,22.38 L308.65,22.87 L310.92,23.36 L313.19,23.84 L315.46,24.32 L317.73,24.8 L320,25.27 L322.27,25.74 L324.54,26.21 L326.81,26.67 L329.08,27.13 L331.35,27.59 L333.62,28.04 L335.89,28.49 L338.16,28.93 L340.43,29.37 L342.7,29.81 L344.97,30.25 L347.24,30.68 L349.51,31.1 L351.78,31.53 L354.05,31.95 L356.32,32.37 L358.59,32.79 L360.87,33.2 L363.14,33.61 L365.41,34.02 L367.68,34.42 L369.95,34.82 L372.22,35.22 L374.49,35.61 L376.76,36 L379.03,36.39 L381.3,36.78 L383.57,37.16 L385.84,37.55 L388.11,37.92 L390.38,38.3 L392.65,38.67 L394.92,39.04 L397.19,39.41 L399.46,39.78 L401.73,40.14 L404,40.5 L406.27,40.86 L408.54,41.21 L410.81,41.57 L413.08,41.92 L415.35,42.27 L417.62,42.61 L419.89,42.96 L422.16,43.3 L424.43,43.64 L426.7,43.97 L428.97,44.31 L431.24,44.64 L433.51,44.97 L435.78,45.3 L438.05,45.62 L440.32,45.95 L442.59,46.27 L444.86,46.59 L447.13,46.91 L449.4,47.22" fill="none" stroke="#111" stroke-width="0.9" stroke-dasharray="3.2,1.7"/>
<path d="M266.4,13 L266.55,13.07 L266.7,13.15 L266.86,13.22 L267.01,13.29 L267.16,13.36 L267.31,13.43 L267.47,13.51 L267.62,13.58 L267.77,13.65 L267.92,13.72 L268.08,13.79 L268.23,13.87 L268.38,13.94 L268.53,14.01 L268.69,14.08 L268.84,14.15 L268.99,14.22 L269.14,14.29 L269.3,14.37 L269.45,14.44 L269.6,14.51 L269.75,14.58 L269.91,14.65 L270.06,14.72 L272.33,15.76 L274.6,16.79 L276.87,17.8 L279.14,18.8 L281.41,19.78 L283.68,20.74 L285.95,21.69 L288.22,22.63 L290.49,23.55 L292.76,24.46 L295.03,25.35 L297.3,26.24 L299.57,27.1 L301.84,27.96 L304.11,28.8 L306.38,29.64 L308.65,30.45 L310.92,31.26 L313.19,32.06 L315.46,32.85 L317.73,33.62 L320,34.38 L322.27,35.14 L324.54,35.88 L326.81,36.62 L329.08,37.34 L331.35,38.05 L333.62,38.76 L335.89,39.45 L338.16,40.14 L340.43,40.82 L342.7,41.49 L344.97,42.15 L347.24,42.8 L349.51,43.44 L351.78,44.08 L354.05,44.71 L356.32,45.33 L358.59,45.94 L360.87,46.54 L363.14,47.14 L365.41,47.73 L367.68,48.31 L369.95,48.89 L372.22,49.46 L374.49,50.02 L376.76,50.58 L379.03,51.13 L381.3,51.67 L383.57,52.21 L385.84,52.74 L388.11,53.27 L390.38,53.78 L392.65,54.3 L394.92,54.81 L397.19,55.31 L399.46,55.8 L401.73,56.29 L404,56.78 L406.27,57.26 L408.54,57.73 L410.81,58.2 L413.08,58.67 L415.35,59.13 L417.62,59.58 L419.89,60.03 L422.16,60.48 L424.43,60.92 L426.7,61.36 L428.97,61.79 L431.24,62.22 L433.51,62.64 L435.78,63.06 L438.05,63.47 L440.32,63.88 L442.59,64.29 L444.86,64.69 L447.13,65.09 L449.4,65.48" fill="none" stroke="#111" stroke-width="0.9" stroke-dasharray="3.2,1.7"/>
<path d="M266.4,13 L266.55,13.25 L266.7,13.51 L266.86,13.76 L267.01,14.01 L267.16,14.26 L267.31,14.51 L267.47,14.76 L267.62,15 L267.77,15.25 L267.92,15.49 L268.08,15.74 L268.23,15.98 L268.38,16.22 L268.53,16.46 L268.69,16.7 L268.84,16.94 L268.99,17.18 L269.14,17.42 L269.3,17.66 L269.45,17.89 L269.6,18.13 L269.75,18.36 L269.91,18.6 L270.06,18.83 L272.33,22.19 L274.6,25.38 L276.87,28.41 L279.14,31.29 L281.41,34.03 L283.68,36.64 L285.95,39.13 L288.22,41.51 L290.49,43.78 L292.76,45.96 L295.03,48.04 L297.3,50.04 L299.57,51.96 L301.84,53.8 L304.11,55.57 L306.38,57.27 L308.65,58.91 L310.92,60.49 L313.19,62.02 L315.46,63.48 L317.73,64.9 L320,66.27 L322.27,67.59 L324.54,68.87 L326.81,70.11 L329.08,71.31 L331.35,72.47 L333.62,73.59 L335.89,74.68 L338.16,75.74 L340.43,76.77 L342.7,77.76 L344.97,78.73 L347.24,79.67 L349.51,80.58 L351.78,81.47 L354.05,82.34 L356.32,83.18 L358.59,84 L360.87,84.79 L363.14,85.57 L365.41,86.33 L367.68,87.06 L369.95,87.78 L372.22,88.49 L374.49,89.17 L376.76,89.84 L379.03,90.49 L381.3,91.13 L383.57,91.75 L385.84,92.36 L388.11,92.96 L390.38,93.54 L392.65,94.11 L394.92,94.66 L397.19,95.21 L399.46,95.74 L401.73,96.26 L404,96.77 L406.27,97.27 L408.54,97.76 L410.81,98.24 L413.08,98.71 L415.35,99.17 L417.62,99.62 L419.89,100.06 L422.16,100.5 L424.43,100.92 L426.7,101.34 L428.97,101.75 L431.24,102.15 L433.51,102.55 L435.78,102.94 L438.05,103.32 L440.32,103.69 L442.59,104.06 L444.86,104.42 L447.13,104.77 L449.4,105.12" fill="none" stroke="#111" stroke-width="0.9" stroke-dasharray="3.2,1.7"/>
<path d="M266.4,13 L266.55,13.11 L266.7,13.22 L266.86,13.33 L267.01,13.44 L267.16,13.55 L267.31,13.66 L267.47,13.77 L267.62,13.87 L267.77,13.98 L267.92,14.09 L268.08,14.2 L268.23,14.31 L268.38,14.41 L268.53,14.52 L268.69,14.63 L268.84,14.74 L268.99,14.84 L269.14,14.95 L269.3,15.06 L269.45,15.16 L269.6,15.27 L269.75,15.38 L269.91,15.48 L270.06,15.59 L272.33,17.14 L274.6,18.66 L276.87,20.14 L279.14,21.59 L281.41,23.01 L283.68,24.39 L285.95,25.74 L288.22,27.06 L290.49,28.36 L292.76,29.62 L295.03,30.86 L297.3,32.07 L299.57,33.26 L301.84,34.42 L304.11,35.55 L306.38,36.67 L308.65,37.76 L310.92,38.83 L313.19,39.88 L315.46,40.91 L317.73,41.92 L320,42.9 L322.27,43.88 L324.54,44.83 L326.81,45.76 L329.08,46.68 L331.35,47.58 L333.62,48.46 L335.89,49.33 L338.16,50.18 L340.43,51.02 L342.7,51.84 L344.97,52.65 L347.24,53.45 L349.51,54.23 L351.78,54.99 L354.05,55.75 L356.32,56.49 L358.59,57.22 L360.87,57.94 L363.14,58.65 L365.41,59.34 L367.68,60.03 L369.95,60.7 L372.22,61.36 L374.49,62.01 L376.76,62.66 L379.03,63.29 L381.3,63.91 L383.57,64.52 L385.84,65.13 L388.11,65.72 L390.38,66.31 L392.65,66.89 L394.92,67.46 L397.19,68.02 L399.46,68.57 L401.73,69.12 L404,69.65 L406.27,70.18 L408.54,70.71 L410.81,71.22 L413.08,71.73 L415.35,72.23 L417.62,72.72 L419.89,73.21 L422.16,73.69 L424.43,74.17 L426.7,74.64 L428.97,75.1 L431.24,75.55 L433.51,76 L435.78,76.45 L438.05,76.89 L440.32,77.32 L442.59,77.75 L444.86,78.17 L447.13,78.59 L449.4,79" fill="none" stroke="#111" stroke-width="0.9" stroke-dasharray="3.2,1.7"/>
<path d="M266.4,13 L266.55,13.86 L266.7,14.72 L266.86,15.56 L267.01,16.39 L267.16,17.21 L267.31,18.02 L267.47,18.82 L267.62,19.6 L267.77,20.38 L267.92,21.15 L268.08,21.91 L268.23,22.66 L268.38,23.41 L268.53,24.14 L268.69,24.86 L268.84,25.58 L268.99,26.29 L269.14,26.98 L269.3,27.68 L269.45,28.36 L269.6,29.03 L269.75,29.7 L269.91,30.36 L270.06,31.01 L272.33,39.9 L274.6,47.51 L276.87,54.09 L279.14,59.84 L281.41,64.9 L283.68,69.4 L285.95,73.42 L288.22,77.03 L290.49,80.29 L292.76,83.26 L295.03,85.97 L297.3,88.44 L299.57,90.72 L301.84,92.83 L304.11,94.77 L306.38,96.58 L308.65,98.26 L310.92,99.83 L313.19,101.29 L315.46,102.67 L317.73,103.96 L320,105.17 L322.27,106.31 L324.54,107.39 L326.81,108.41 L329.08,109.38 L331.35,110.3 L333.62,111.17 L335.89,112 L338.16,112.79 L340.43,113.54 L342.7,114.26 L344.97,114.95 L347.24,115.6 L349.51,116.23 L351.78,116.83 L354.05,117.41 L356.32,117.96 L358.59,118.49 L360.87,119.01 L363.14,119.5 L365.41,119.97 L367.68,120.43 L369.95,120.87 L372.22,121.29 L374.49,121.7 L376.76,122.1 L379.03,122.48 L381.3,122.85 L383.57,123.21 L385.84,123.56 L388.11,123.89 L390.38,124.22 L392.65,124.53 L394.92,124.84 L397.19,125.14 L399.46,125.43 L401.73,125.71 L404,125.98 L406.27,126.24 L408.54,126.5 L410.81,126.75 L413.08,127 L415.35,127.23 L417.62,127.47 L419.89,127.69 L422.16,127.91 L424.43,128.12 L426.7,128.33 L428.97,128.54 L431.24,128.74 L433.51,128.93 L435.78,129.12 L438.05,129.3 L440.32,129.49 L442.59,129.66 L444.86,129.83 L447.13,130 L449.4,130.17" fill="none" stroke="#111" stroke-width="0.9" stroke-dasharray="3.2,1.7"/>
<path d="M266.4,13 L266.55,17.93 L266.7,22.51 L266.86,26.77 L267.01,30.75 L267.16,34.46 L267.31,37.94 L267.47,41.21 L267.62,44.29 L267.77,47.19 L267.92,49.92 L268.08,52.51 L268.23,54.96 L268.38,57.28 L268.53,59.49 L268.69,61.59 L268.84,63.59 L268.99,65.49 L269.14,67.31 L269.3,69.04 L269.45,70.7 L269.6,72.29 L269.75,73.82 L269.91,75.28 L270.06,76.68 L272.33,92.41 L274.6,102.26 L276.87,109 L279.14,113.9 L281.41,117.63 L283.68,120.56 L285.95,122.92 L288.22,124.87 L290.49,126.5 L292.76,127.89 L295.03,129.08 L297.3,130.12 L299.57,131.03 L301.84,131.83 L304.11,132.55 L306.38,133.19 L308.65,133.77 L310.92,134.3 L313.19,134.78 L315.46,135.22 L317.73,135.62 L320,135.99 L322.27,136.33 L324.54,136.65 L326.81,136.94 L329.08,137.22 L331.35,137.47 L333.62,137.71 L335.89,137.94 L338.16,138.15 L340.43,138.35 L342.7,138.54 L344.97,138.72 L347.24,138.89 L349.51,139.04 L351.78,139.2 L354.05,139.34 L356.32,139.48 L358.59,139.61 L360.87,139.73 L363.14,139.85 L365.41,139.96 L367.68,140.07 L369.95,140.18 L372.22,140.28 L374.49,140.37 L376.76,140.46 L379.03,140.55 L381.3,140.64 L383.57,140.72 L385.84,140.8 L388.11,140.87 L390.38,140.95 L392.65,141.02 L394.92,141.09 L397.19,141.15 L399.46,141.22 L401.73,141.28 L404,141.34 L406.27,141.4 L408.54,141.45 L410.81,141.51 L413.08,141.56 L415.35,141.61 L417.62,141.66 L419.89,141.71 L422.16,141.75 L424.43,141.8 L426.7,141.84 L428.97,141.89 L431.24,141.93 L433.51,141.97 L435.78,142.01 L438.05,142.05 L440.32,142.09 L442.59,142.12 L444.86,142.16 L447.13,142.19 L449.4,142.23" fill="none" stroke="#111" stroke-width="0.9" stroke-dasharray="3.2,1.7"/>
<rect x="261.4" y="6.5" width="188" height="145" fill="none" stroke="#707070" stroke-width="0.9"/>
<path d="M266.4,151.5 v-2 M266.4,6.5 v2" stroke="#707070" stroke-width="0.8"/>
<text class="s" x="266.4" y="161.2" font-size="7" text-anchor="middle">0</text>
<path d="M303,151.5 v-2 M303,6.5 v2" stroke="#707070" stroke-width="0.8"/>
<text class="s" x="303" y="161.2" font-size="7" text-anchor="middle">200</text>
<path d="M339.6,151.5 v-2 M339.6,6.5 v2" stroke="#707070" stroke-width="0.8"/>
<text class="s" x="339.6" y="161.2" font-size="7" text-anchor="middle">400</text>
<path d="M376.2,151.5 v-2 M376.2,6.5 v2" stroke="#707070" stroke-width="0.8"/>
<text class="s" x="376.2" y="161.2" font-size="7" text-anchor="middle">600</text>
<path d="M412.8,151.5 v-2 M412.8,6.5 v2" stroke="#707070" stroke-width="0.8"/>
<text class="s" x="412.8" y="161.2" font-size="7" text-anchor="middle">800</text>
<path d="M449.4,151.5 v-2 M449.4,6.5 v2" stroke="#707070" stroke-width="0.8"/>
<text class="s" x="449.4" y="161.2" font-size="7" text-anchor="middle">1000</text>
<path d="M261.4,145 h2 M449.4,145 h-2" stroke="#707070" stroke-width="0.8"/>
<text class="s" x="258.2" y="147.5" font-size="7" text-anchor="end">0.0</text>
<path d="M261.4,118.6 h2 M449.4,118.6 h-2" stroke="#707070" stroke-width="0.8"/>
<text class="s" x="258.2" y="121.1" font-size="7" text-anchor="end">0.2</text>
<path d="M261.4,92.2 h2 M449.4,92.2 h-2" stroke="#707070" stroke-width="0.8"/>
<text class="s" x="258.2" y="94.7" font-size="7" text-anchor="end">0.4</text>
<path d="M261.4,65.8 h2 M449.4,65.8 h-2" stroke="#707070" stroke-width="0.8"/>
<text class="s" x="258.2" y="68.3" font-size="7" text-anchor="end">0.6</text>
<path d="M261.4,39.4 h2 M449.4,39.4 h-2" stroke="#707070" stroke-width="0.8"/>
<text class="s" x="258.2" y="41.9" font-size="7" text-anchor="end">0.8</text>
<path d="M261.4,13 h2 M449.4,13 h-2" stroke="#707070" stroke-width="0.8"/>
<text class="s" x="258.2" y="14.7" font-size="7" text-anchor="end">1.0</text>
<text class="s" transform="translate(358.3,173.9) scale(1,1.12)" font-size="8" text-anchor="middle">Time, <tspan font-style="italic">t</tspan></text>
<text class="s" transform="translate(240.7,83.7) rotate(-90) scale(1,1.15)" font-size="8" text-anchor="middle">Survival Probability, <tspan font-style="italic">S</tspan><tspan font-size="5.5" dy="1.5" font-style="italic">m</tspan><tspan dy="-1.5">(</tspan><tspan font-style="italic">t</tspan>)</text>
<rect x="266.2" y="84.5" width="104.5" height="61.2" fill="#fafafa" fill-opacity="0.72" stroke="#d0d0d0" stroke-width="0.6" rx="1"/>
<text x="286.4" y="82.6" font-size="5.6" text-anchor="middle"><tspan font-style="italic">D</tspan><tspan font-size="4" dy="1">A</tspan></text>
<text x="298.1" y="82.6" font-size="5.6" text-anchor="middle"><tspan font-style="italic">D</tspan><tspan font-size="4" dy="1">B</tspan></text>
<text x="312" y="82.6" font-size="5.6" text-anchor="middle"><tspan font-style="italic">P</tspan><tspan font-size="4" dy="1" font-style="italic">A</tspan><tspan dy="-1">/</tspan><tspan font-style="italic">ρ</tspan><tspan font-size="4" dy="1" font-style="italic">A</tspan></text>
<text x="329.1" y="82.6" font-size="5.6" text-anchor="middle"><tspan font-style="italic">P</tspan><tspan font-size="4" dy="1" font-style="italic">B</tspan><tspan dy="-1">/</tspan><tspan font-style="italic">ρ</tspan><tspan font-size="4" dy="1" font-style="italic">B</tspan></text>
<text x="343.4" y="82.6" font-size="5.6" text-anchor="middle"><tspan font-style="italic">ρ</tspan><tspan font-size="4" dy="1" font-style="italic">i</tspan></text>
<text x="361.3" y="82.6" font-size="5.6" text-anchor="middle"><tspan font-style="italic">k</tspan><tspan font-size="4" dy="1" font-style="italic">ME</tspan></text>
<path d="M270.6,88.6 h9.4" stroke="#e4de8a" stroke-width="1.2"/>
<text x="286.4" y="90.6" font-size="5.6" text-anchor="middle">0.1</text>
<text x="298.1" y="90.6" font-size="5.6" text-anchor="middle">0</text>
<text x="312" y="90.6" font-size="5.6" text-anchor="middle">1</text>
<text x="329.1" y="90.6" font-size="5.6" text-anchor="middle">1</text>
<text x="343.4" y="90.6" font-size="5.6" text-anchor="middle">0.1</text>
<text x="361.3" y="90.6" font-size="5.6" text-anchor="middle">0.03</text>
<path d="M270.6,95.3 h9.4" stroke="#c994cb" stroke-width="1.8"/>
<text x="286.4" y="97.3" font-size="5.6" text-anchor="middle">1</text>
<text x="298.1" y="97.3" font-size="5.6" text-anchor="middle">1</text>
<text x="312" y="97.3" font-size="5.6" text-anchor="middle">1</text>
<text x="329.1" y="97.3" font-size="5.6" text-anchor="middle">1</text>
<text x="343.4" y="97.3" font-size="5.6" text-anchor="middle">0.1</text>
<text x="361.3" y="97.3" font-size="5.6" text-anchor="middle">0.69</text>
<path d="M270.6,102 h9.4" stroke="#4f8f6c" stroke-width="1.1"/>
<text x="286.4" y="104" font-size="5.6" text-anchor="middle">1</text>
<text x="298.1" y="104" font-size="5.6" text-anchor="middle">0</text>
<text x="312" y="104" font-size="5.6" text-anchor="middle">1</text>
<text x="329.1" y="104" font-size="5.6" text-anchor="middle">1</text>
<text x="343.4" y="104" font-size="5.6" text-anchor="middle">1</text>
<text x="361.3" y="104" font-size="5.6" text-anchor="middle">3.45</text>
<path d="M270.6,108.7 h9.4" stroke="#f0c088" stroke-width="1.7"/>
<text x="286.4" y="110.7" font-size="5.6" text-anchor="middle">1</text>
<text x="298.1" y="110.7" font-size="5.6" text-anchor="middle">1</text>
<text x="312" y="110.7" font-size="5.6" text-anchor="middle">1</text>
<text x="329.1" y="110.7" font-size="5.6" text-anchor="middle">1</text>
<text x="343.4" y="110.7" font-size="5.6" text-anchor="middle">1</text>
<text x="361.3" y="110.7" font-size="5.6" text-anchor="middle">6.90</text>
<path d="M270.6,115.4 h9.4" stroke="#bb88c8" stroke-width="1.8"/>
<text x="286.4" y="117.4" font-size="5.6" text-anchor="middle">10</text>
<text x="298.1" y="117.4" font-size="5.6" text-anchor="middle">20</text>
<text x="312" y="117.4" font-size="5.6" text-anchor="middle">1</text>
<text x="329.1" y="117.4" font-size="5.6" text-anchor="middle">0.1</text>
<text x="343.4" y="117.4" font-size="5.6" text-anchor="middle">0.1</text>
<text x="361.3" y="117.4" font-size="5.6" text-anchor="middle">10.35</text>
<path d="M270.6,122.1 h9.4" stroke="#6cc0c8" stroke-width="1.2"/>
<text x="286.4" y="124.1" font-size="5.6" text-anchor="middle">1</text>
<text x="298.1" y="124.1" font-size="5.6" text-anchor="middle">1</text>
<text x="312" y="124.1" font-size="5.6" text-anchor="middle">0.01</text>
<text x="329.1" y="124.1" font-size="5.6" text-anchor="middle">0.01</text>
<text x="343.4" y="124.1" font-size="5.6" text-anchor="middle">100</text>
<text x="361.3" y="124.1" font-size="5.6" text-anchor="middle">689.98</text>
<path d="M270.6,128.8 h9.4" stroke="#a6d684" stroke-width="2.0"/>
<text x="286.4" y="130.8" font-size="5.6" text-anchor="middle">1</text>
<text x="298.1" y="130.8" font-size="5.6" text-anchor="middle">100</text>
<text x="312" y="130.8" font-size="5.6" text-anchor="middle">0.1</text>
<text x="329.1" y="130.8" font-size="5.6" text-anchor="middle">1</text>
<text x="343.4" y="130.8" font-size="5.6" text-anchor="middle">0.1</text>
<text x="361.3" y="130.8" font-size="5.6" text-anchor="middle">34.84</text>
<path d="M270.6,135.5 h9.4" stroke="#b8665c" stroke-width="1.3"/>
<text x="286.4" y="137.5" font-size="5.6" text-anchor="middle">100</text>
<text x="298.1" y="137.5" font-size="5.6" text-anchor="middle">100</text>
<text x="312" y="137.5" font-size="5.6" text-anchor="middle">1</text>
<text x="329.1" y="137.5" font-size="5.6" text-anchor="middle">1</text>
<text x="343.4" y="137.5" font-size="5.6" text-anchor="middle">1</text>
<text x="361.3" y="137.5" font-size="5.6" text-anchor="middle">689.98</text>
<path d="M270.6,142.2 h9.4" stroke="#111" stroke-width="1" stroke-dasharray="3.2,1.8"/>
<text x="282.4" y="144.2" font-size="5.6">Prediction</text>
<text x="3.2" y="193.5" font-size="12" font-weight="bold">c</text>
<path d="M30.5,206.8 L30.97,206.8 L31.44,206.81 L31.91,206.81 L32.38,206.81 L32.86,206.81 L33.33,206.81 L33.8,206.81 L34.27,206.81 L34.74,206.81 L35.21,206.81 L35.68,206.81 L36.15,206.81 L36.63,206.81 L37.1,206.81 L37.57,206.81 L38.04,206.81 L38.51,206.81 L38.98,206.81 L39.45,206.81 L39.92,206.81 L40.39,206.81 L40.87,206.81 L41.34,206.81 L41.81,206.81 L42.28,206.81 L42.75,206.81 L43.22,206.81 L43.69,206.81 L44.16,206.81 L44.64,206.81 L45.11,206.81 L45.58,206.81 L46.05,206.81 L46.52,206.82 L46.99,206.82 L47.46,206.82 L47.93,206.82 L48.4,206.82 L48.88,206.82 L49.35,206.82 L49.82,206.82 L50.29,206.82 L50.76,206.82 L51.23,206.82 L51.7,206.82 L52.17,206.82 L52.65,206.82 L53.12,206.82 L53.59,206.83 L54.06,206.83 L54.53,206.83 L55,206.83 L55.47,206.83 L55.94,206.83 L56.41,206.83 L56.89,206.83 L57.36,206.83 L57.83,206.83 L58.3,206.84 L58.77,206.84 L59.24,206.84 L59.71,206.84 L60.18,206.84 L60.66,206.84 L61.13,206.84 L61.6,206.85 L62.07,206.85 L62.54,206.85 L63.01,206.85 L63.48,206.85 L63.95,206.85 L64.42,206.86 L64.9,206.86 L65.37,206.86 L65.84,206.86 L66.31,206.86 L66.78,206.87 L67.25,206.87 L67.72,206.87 L68.19,206.87 L68.67,206.88 L69.14,206.88 L69.61,206.88 L70.08,206.88 L70.55,206.89 L71.02,206.89 L71.49,206.89 L71.96,206.9 L72.43,206.9 L72.91,206.9 L73.38,206.91 L73.85,206.91 L74.32,206.91 L74.79,206.92 L75.26,206.92 L75.73,206.93 L76.2,206.93 L76.68,206.94 L77.15,206.94 L77.62,206.94 L78.09,206.95 L78.56,206.95 L79.03,206.96 L79.5,206.97 L79.97,206.97 L80.44,206.98 L80.92,206.98 L81.39,206.99 L81.86,207 L82.33,207 L82.8,207.01 L83.27,207.02 L83.74,207.02 L84.21,207.03 L84.69,207.04 L85.16,207.05 L85.63,207.06 L86.1,207.07 L86.57,207.08 L87.04,207.09 L87.51,207.1 L87.98,207.11 L88.45,207.12 L88.93,207.13 L89.4,207.14 L89.87,207.15 L90.34,207.16 L90.81,207.17 L91.28,207.19 L91.75,207.2 L92.22,207.21 L92.7,207.23 L93.17,207.24 L93.64,207.26 L94.11,207.28 L94.58,207.29 L95.05,207.31 L95.52,207.33 L95.99,207.34 L96.46,207.36 L96.94,207.38 L97.41,207.4 L97.88,207.42 L98.35,207.45 L98.82,207.47 L99.29,207.49 L99.76,207.51 L100.23,207.54 L100.71,207.56 L101.18,207.59 L101.65,207.62 L102.12,207.65 L102.59,207.68 L103.06,207.71 L103.53,207.74 L104,207.77 L104.47,207.8 L104.95,207.84 L105.42,207.87 L105.89,207.91 L106.36,207.95 L106.83,207.99 L107.3,208.03 L107.77,208.07 L108.24,208.11 L108.72,208.16 L109.19,208.21 L109.66,208.25 L110.13,208.3 L110.6,208.36 L111.07,208.41 L111.54,208.47 L112.01,208.52 L112.48,208.58 L112.96,208.64 L113.43,208.71 L113.9,208.77 L114.37,208.84 L114.84,208.91 L115.31,208.98 L115.78,209.06 L116.25,209.13 L116.73,209.21 L117.2,209.29 L117.67,209.38 L118.14,209.47 L118.61,209.56 L119.08,209.65 L119.55,209.75 L120.02,209.85 L120.49,209.95 L120.97,210.06 L121.44,210.17 L121.91,210.29 L122.38,210.41 L122.85,210.53 L123.32,210.66 L123.79,210.79 L124.26,210.92 L124.74,211.06 L125.21,211.2 L125.68,211.35 L126.15,211.51 L126.62,211.67 L127.09,211.83 L127.56,212 L128.03,212.17 L128.51,212.35 L128.98,212.54 L129.45,212.73 L129.92,212.93 L130.39,213.14 L130.86,213.35 L131.33,213.57 L131.8,213.79 L132.27,214.03 L132.75,214.27 L133.22,214.51 L133.69,214.77 L134.16,215.03 L134.63,215.31 L135.1,215.59 L135.57,215.88 L136.04,216.18 L136.52,216.48 L136.99,216.8 L137.46,217.13 L137.93,217.46 L138.4,217.81 L138.87,218.17 L139.34,218.54 L139.81,218.92 L140.28,219.31 L140.76,219.71 L141.23,220.13 L141.7,220.55 L142.17,220.99 L142.64,221.45 L143.11,221.91 L143.58,222.39 L144.05,222.88 L144.53,223.39 L145,223.91 L145.47,224.45 L145.94,225 L146.41,225.56 L146.88,226.14 L147.35,226.74 L147.82,227.35 L148.29,227.98 L148.77,228.63 L149.24,229.29 L149.71,229.97 L150.18,230.66 L150.65,231.38 L151.12,232.11 L151.59,232.86 L152.06,233.63 L152.54,234.42 L153.01,235.22 L153.48,236.04 L153.95,236.89 L154.42,237.75 L154.89,238.63 L155.36,239.53 L155.83,240.45 L156.3,241.39 L156.78,242.34 L157.25,243.32 L157.72,244.32 L158.19,245.33 L158.66,246.37 L159.13,247.42 L159.6,248.49 L160.07,249.59 L160.55,250.69 L161.02,251.82 L161.49,252.97 L161.96,254.13 L162.43,255.31 L162.9,256.51 L163.37,257.72 L163.84,258.95 L164.31,260.19 L164.79,261.45 L165.26,262.72 L165.73,264.01 L166.2,265.31 L166.67,266.62 L167.14,267.94 L167.61,269.27 L168.08,270.61 L168.56,271.96 L169.03,273.32 L169.5,274.68 L169.97,276.05 L170.44,277.43 L170.91,278.81 L171.38,280.19 L171.85,281.57 L172.32,282.95 L172.8,284.33 L173.27,285.71 L173.74,287.09 L174.21,288.46 L174.68,289.82 L175.15,291.18 L175.62,292.54 L176.09,293.88 L176.57,295.21 L177.04,296.53 L177.51,297.84 L177.98,299.14 L178.45,300.42 L178.92,301.68 L179.39,302.93 L179.86,304.16 L180.33,305.37 L180.81,306.57 L181.28,307.74 L181.75,308.89 L182.22,310.02 L182.69,311.13 L183.16,312.22 L183.63,313.28 L184.1,314.32 L184.58,315.33 L185.05,316.32 L185.52,317.28 L185.99,318.22 L186.46,319.13 L186.93,320.01 L187.4,320.87 L187.87,321.7 L188.34,322.51 L188.82,323.29 L189.29,324.05 L189.76,324.78 L190.23,325.48 L190.7,326.16 L191.17,326.81 L191.64,327.44 L192.11,328.04 L192.59,328.62 L193.06,329.18 L193.53,329.72 L194,330.23 L194.47,330.72 L194.94,331.18 L195.41,331.63 L195.88,332.06 L196.35,332.47 L196.83,332.85 L197.3,333.22 L197.77,333.57 L198.24,333.91 L198.71,334.23 L199.18,334.53 L199.65,334.81 L200.12,335.08 L200.6,335.34 L201.07,335.58 L201.54,335.81 L202.01,336.03 L202.48,336.24 L202.95,336.43 L203.42,336.61 L203.89,336.78 L204.36,336.95 L204.84,337.1 L205.31,337.24 L205.78,337.38 L206.25,337.5 L206.72,337.62 L207.19,337.73 L207.66,337.84 L208.13,337.91 L208.61,338.02 L209.08,338.12 L209.55,338.21 L210.02,338.28 L210.49,338.3 L210.96,338.42 L211.43,338.41 L211.9,338.49 L212.37,338.49 L212.85,338.57 L213.32,338.69 L213.79,338.9 L214.26,338.74 L214.73,338.72 L215.2,338.82 L215.67,338.81 L216.14,338.96 L216.62,338.98 L217.09,339.09 L217.56,338.78 L218.03,338.98 L218.5,339.11" fill="none" stroke="#c9473d" stroke-width="1.1"/>
<path d="M30.5,206.91 L30.97,206.91 L31.44,206.92 L31.91,206.92 L32.38,206.92 L32.86,206.93 L33.33,206.93 L33.8,206.93 L34.27,206.94 L34.74,206.94 L35.21,206.94 L35.68,206.95 L36.15,206.95 L36.63,206.96 L37.1,206.96 L37.57,206.97 L38.04,206.97 L38.51,206.98 L38.98,206.98 L39.45,206.99 L39.92,206.99 L40.39,207 L40.87,207 L41.34,207.01 L41.81,207.01 L42.28,207.02 L42.75,207.03 L43.22,207.03 L43.69,207.04 L44.16,207.04 L44.64,207.05 L45.11,207.06 L45.58,207.07 L46.05,207.07 L46.52,207.08 L46.99,207.09 L47.46,207.1 L47.93,207.11 L48.4,207.11 L48.88,207.12 L49.35,207.13 L49.82,207.14 L50.29,207.15 L50.76,207.16 L51.23,207.17 L51.7,207.18 L52.17,207.19 L52.65,207.21 L53.12,207.22 L53.59,207.23 L54.06,207.24 L54.53,207.25 L55,207.27 L55.47,207.28 L55.94,207.29 L56.41,207.31 L56.89,207.32 L57.36,207.34 L57.83,207.35 L58.3,207.37 L58.77,207.38 L59.24,207.4 L59.71,207.42 L60.18,207.43 L60.66,207.45 L61.13,207.47 L61.6,207.49 L62.07,207.51 L62.54,207.53 L63.01,207.55 L63.48,207.57 L63.95,207.59 L64.42,207.61 L64.9,207.64 L65.37,207.66 L65.84,207.69 L66.31,207.71 L66.78,207.74 L67.25,207.76 L67.72,207.79 L68.19,207.82 L68.67,207.85 L69.14,207.88 L69.61,207.91 L70.08,207.94 L70.55,207.97 L71.02,208 L71.49,208.04 L71.96,208.07 L72.43,208.11 L72.91,208.14 L73.38,208.18 L73.85,208.22 L74.32,208.26 L74.79,208.3 L75.26,208.35 L75.73,208.39 L76.2,208.43 L76.68,208.48 L77.15,208.53 L77.62,208.58 L78.09,208.63 L78.56,208.68 L79.03,208.73 L79.5,208.78 L79.97,208.84 L80.44,208.9 L80.92,208.96 L81.39,209.02 L81.86,209.08 L82.33,209.14 L82.8,209.21 L83.27,209.28 L83.74,209.35 L84.21,209.42 L84.69,209.49 L85.16,209.57 L85.63,209.65 L86.1,209.72 L86.57,209.81 L87.04,209.89 L87.51,209.98 L87.98,210.07 L88.45,210.16 L88.93,210.25 L89.4,210.35 L89.87,210.45 L90.34,210.55 L90.81,210.65 L91.28,210.76 L91.75,210.87 L92.22,210.99 L92.7,211.1 L93.17,211.22 L93.64,211.35 L94.11,211.47 L94.58,211.6 L95.05,211.73 L95.52,211.87 L95.99,212.01 L96.46,212.16 L96.94,212.31 L97.41,212.46 L97.88,212.61 L98.35,212.78 L98.82,212.94 L99.29,213.11 L99.76,213.28 L100.23,213.46 L100.71,213.65 L101.18,213.84 L101.65,214.03 L102.12,214.23 L102.59,214.43 L103.06,214.64 L103.53,214.85 L104,215.08 L104.47,215.3 L104.95,215.53 L105.42,215.77 L105.89,216.02 L106.36,216.27 L106.83,216.52 L107.3,216.79 L107.77,217.06 L108.24,217.34 L108.72,217.62 L109.19,217.91 L109.66,218.21 L110.13,218.52 L110.6,218.84 L111.07,219.16 L111.54,219.49 L112.01,219.83 L112.48,220.18 L112.96,220.54 L113.43,220.9 L113.9,221.28 L114.37,221.66 L114.84,222.05 L115.31,222.46 L115.78,222.87 L116.25,223.29 L116.73,223.72 L117.2,224.17 L117.67,224.62 L118.14,225.09 L118.61,225.56 L119.08,226.05 L119.55,226.55 L120.02,227.06 L120.49,227.58 L120.97,228.11 L121.44,228.66 L121.91,229.21 L122.38,229.78 L122.85,230.37 L123.32,230.96 L123.79,231.57 L124.26,232.19 L124.74,232.83 L125.21,233.48 L125.68,234.14 L126.15,234.82 L126.62,235.51 L127.09,236.21 L127.56,236.93 L128.03,237.66 L128.51,238.41 L128.98,239.17 L129.45,239.95 L129.92,240.74 L130.39,241.55 L130.86,242.38 L131.33,243.21 L131.8,244.07 L132.27,244.93 L132.75,245.82 L133.22,246.72 L133.69,247.63 L134.16,248.56 L134.63,249.5 L135.1,250.46 L135.57,251.44 L136.04,252.43 L136.52,253.43 L136.99,254.45 L137.46,255.49 L137.93,256.54 L138.4,257.6 L138.87,258.67 L139.34,259.76 L139.81,260.87 L140.28,261.99 L140.76,263.12 L141.23,264.26 L141.7,265.41 L142.17,266.58 L142.64,267.76 L143.11,268.94 L143.58,270.14 L144.05,271.35 L144.53,272.57 L145,273.8 L145.47,275.03 L145.94,276.27 L146.41,277.52 L146.88,278.78 L147.35,280.04 L147.82,281.3 L148.29,282.57 L148.77,283.84 L149.24,285.12 L149.71,286.4 L150.18,287.67 L150.65,288.95 L151.12,290.22 L151.59,291.5 L152.06,292.77 L152.54,294.03 L153.01,295.3 L153.48,296.55 L153.95,297.8 L154.42,299.04 L154.89,300.28 L155.36,301.5 L155.83,302.71 L156.3,303.91 L156.78,305.1 L157.25,306.28 L157.72,307.44 L158.19,308.58 L158.66,309.71 L159.13,310.83 L159.6,311.92 L160.07,313 L160.55,314.05 L161.02,315.09 L161.49,316.1 L161.96,317.1 L162.43,318.07 L162.9,319.02 L163.37,319.95 L163.84,320.85 L164.31,321.77 L164.79,322.6 L165.26,323.32 L165.73,324.23 L166.2,325.1 L166.67,326.07 L167.14,326.38 L167.61,326.94 L168.08,327.65 L168.56,328.41 L169.03,329.68 L169.5,328.92 L169.97,330.35 L170.44,330.95 L170.91,330.97 L171.38,333.26 L171.85,332.43 L172.32,332.94 L172.8,333 L173.27,332.63 L173.74,333.69 L174.21,336.03 L174.68,335.11 L175.15,334.94 L175.62,335.3 L176.09,337.05 L176.57,337.78 L177.04,335.66 L177.51,336.11 L177.98,336.76 L178.45,339.06 L178.92,334.9 L179.39,340.19 L179.86,337.98 L180.33,334.76 L180.81,338.02 L181.28,337.59 L181.75,339.83 L182.22,336.08 L182.69,340.32 L183.16,337.97 L183.63,338.25 L184.1,340.21 L184.58,337.21 L185.05,340.94 L185.52,339.84 L185.99,338.85 L186.46,339.51 L186.93,338.16 L187.4,337.48 L187.87,339.45 L188.34,339.88 L188.82,339.87 L189.29,339.66 L189.76,337.81 L190.23,339.47 L190.7,338.5 L191.17,339.31 L191.64,340.52 L192.11,337.82 L192.59,340.86 L193.06,339.21 L193.53,336.86 L194,340.97 L194.47,339.33 L194.94,341.77 L195.41,340.07 L195.88,341.64 L196.35,339.84 L196.83,340.13 L197.3,339.07 L197.77,336.76 L198.24,338.83 L198.71,338.24 L199.18,339.37 L199.65,339.68 L200.12,340.62 L200.6,342.15 L201.07,339.18 L201.54,336.7 L202.01,338.54 L202.48,340.14 L202.95,336.67 L203.42,339.98 L203.89,340.28 L204.36,341.23 L204.84,340.83 L205.31,339.69 L205.78,336.12 L206.25,339.63 L206.72,340.94 L207.19,340.26 L207.66,339.65 L208.13,342.02 L208.61,339.1 L209.08,338.19 L209.55,338.79 L210.02,338.34 L210.49,341.35 L210.96,342 L211.43,337.26 L211.9,337.56 L212.37,341.75 L212.85,338.97 L213.32,339.26 L213.79,338.43 L214.26,338.97 L214.73,340.1 L215.2,338.99 L215.67,339.05 L216.14,339.38 L216.62,342.25 L217.09,342.8 L217.56,340.56 L218.03,341.9 L218.5,338.9" fill="none" stroke="#4cc3ca" stroke-width="1.0"/>
<path d="M30.5,206.89 L30.97,206.89 L31.44,206.9 L31.91,206.9 L32.38,206.9 L32.86,206.91 L33.33,206.91 L33.8,206.91 L34.27,206.92 L34.74,206.92 L35.21,206.93 L35.68,206.93 L36.15,206.93 L36.63,206.94 L37.1,206.94 L37.57,206.95 L38.04,206.95 L38.51,206.96 L38.98,206.96 L39.45,206.97 L39.92,206.97 L40.39,206.98 L40.87,206.99 L41.34,206.99 L41.81,207 L42.28,207.01 L42.75,207.01 L43.22,207.02 L43.69,207.03 L44.16,207.03 L44.64,207.04 L45.11,207.05 L45.58,207.06 L46.05,207.07 L46.52,207.08 L46.99,207.08 L47.46,207.09 L47.93,207.1 L48.4,207.11 L48.88,207.12 L49.35,207.13 L49.82,207.15 L50.29,207.16 L50.76,207.17 L51.23,207.18 L51.7,207.19 L52.17,207.21 L52.65,207.22 L53.12,207.23 L53.59,207.25 L54.06,207.26 L54.53,207.28 L55,207.29 L55.47,207.31 L55.94,207.33 L56.41,207.34 L56.89,207.36 L57.36,207.38 L57.83,207.4 L58.3,207.42 L58.77,207.44 L59.24,207.46 L59.71,207.48 L60.18,207.5 L60.66,207.53 L61.13,207.55 L61.6,207.58 L62.07,207.6 L62.54,207.63 L63.01,207.65 L63.48,207.68 L63.95,207.71 L64.42,207.74 L64.9,207.77 L65.37,207.8 L65.84,207.84 L66.31,207.87 L66.78,207.91 L67.25,207.94 L67.72,207.98 L68.19,208.02 L68.67,208.06 L69.14,208.1 L69.61,208.14 L70.08,208.19 L70.55,208.23 L71.02,208.28 L71.49,208.33 L71.96,208.38 L72.43,208.43 L72.91,208.48 L73.38,208.54 L73.85,208.6 L74.32,208.65 L74.79,208.72 L75.26,208.78 L75.73,208.84 L76.2,208.91 L76.68,208.98 L77.15,209.05 L77.62,209.12 L78.09,209.2 L78.56,209.28 L79.03,209.36 L79.5,209.44 L79.97,209.53 L80.44,209.62 L80.92,209.71 L81.39,209.8 L81.86,209.9 L82.33,210 L82.8,210.1 L83.27,210.21 L83.74,210.32 L84.21,210.44 L84.69,210.55 L85.16,210.67 L85.63,210.8 L86.1,210.93 L86.57,211.06 L87.04,211.2 L87.51,211.34 L87.98,211.49 L88.45,211.64 L88.93,211.8 L89.4,211.96 L89.87,212.12 L90.34,212.29 L90.81,212.47 L91.28,212.65 L91.75,212.84 L92.22,213.03 L92.7,213.23 L93.17,213.44 L93.64,213.65 L94.11,213.87 L94.58,214.09 L95.05,214.32 L95.52,214.56 L95.99,214.81 L96.46,215.06 L96.94,215.32 L97.41,215.59 L97.88,215.87 L98.35,216.15 L98.82,216.45 L99.29,216.75 L99.76,217.06 L100.23,217.38 L100.71,217.71 L101.18,218.05 L101.65,218.4 L102.12,218.76 L102.59,219.13 L103.06,219.52 L103.53,219.91 L104,220.31 L104.47,220.73 L104.95,221.15 L105.42,221.59 L105.89,222.04 L106.36,222.51 L106.83,222.98 L107.3,223.47 L107.77,223.98 L108.24,224.49 L108.72,225.02 L109.19,225.57 L109.66,226.13 L110.13,226.7 L110.6,227.29 L111.07,227.89 L111.54,228.51 L112.01,229.15 L112.48,229.8 L112.96,230.47 L113.43,231.15 L113.9,231.85 L114.37,232.57 L114.84,233.3 L115.31,234.06 L115.78,234.83 L116.25,235.62 L116.73,236.42 L117.2,237.25 L117.67,238.09 L118.14,238.95 L118.61,239.83 L119.08,240.73 L119.55,241.64 L120.02,242.58 L120.49,243.53 L120.97,244.51 L121.44,245.5 L121.91,246.51 L122.38,247.54 L122.85,248.58 L123.32,249.65 L123.79,250.73 L124.26,251.84 L124.74,252.96 L125.21,254.1 L125.68,255.25 L126.15,256.42 L126.62,257.61 L127.09,258.82 L127.56,260.04 L128.03,261.27 L128.51,262.53 L128.98,263.79 L129.45,265.07 L129.92,266.36 L130.39,267.67 L130.86,268.98 L131.33,270.31 L131.8,271.65 L132.27,272.99 L132.75,274.35 L133.22,275.71 L133.69,277.08 L134.16,278.45 L134.63,279.83 L135.1,281.21 L135.57,282.59 L136.04,283.98 L136.52,285.37 L136.99,286.75 L137.46,288.13 L137.93,289.51 L138.4,290.89 L138.87,292.26 L139.34,293.62 L139.81,294.98 L140.28,296.32 L140.76,297.66 L141.23,298.98 L141.7,300.29 L142.17,301.59 L142.64,302.87 L143.11,304.13 L143.58,305.38 L144.05,306.61 L144.53,307.82 L145,309.02 L145.47,310.19 L145.94,311.33 L146.41,312.46 L146.88,313.56 L147.35,314.64 L147.82,315.69 L148.29,316.72 L148.77,317.72 L149.24,318.7 L149.71,319.64 L150.18,320.57 L150.65,321.46 L151.12,322.33 L151.59,323.17 L152.06,323.98 L152.54,324.76 L153.01,325.52 L153.48,326.25 L153.95,326.95 L154.42,327.62 L154.89,328.27 L155.36,328.89 L155.83,329.49 L156.3,330.06 L156.78,330.6 L157.25,331.12 L157.72,331.61 L158.19,332.09 L158.66,332.54 L159.13,332.96 L159.6,333.37 L160.07,333.75 L160.55,334.11 L161.02,334.46 L161.49,334.78 L161.96,335.09 L162.43,335.38 L162.9,335.65 L163.37,335.91 L163.84,336.15 L164.31,336.38 L164.79,336.59 L165.26,336.79 L165.73,336.97 L166.2,337.15 L166.67,337.31 L167.14,337.46 L167.61,337.6 L168.08,337.73 L168.56,337.86 L169.03,337.97 L169.5,338.08 L169.97,338.17 L170.44,338.26 L170.91,338.35 L171.38,338.43 L171.85,338.5 L172.32,338.57 L172.8,338.63 L173.27,338.68 L173.74,338.74 L174.21,338.78 L174.68,338.83 L175.15,338.87 L175.62,338.91 L176.09,338.94 L176.57,338.97 L177.04,339 L177.51,339.03 L177.98,339.05 L178.45,339.07 L178.92,339.09 L179.39,339.11 L179.86,339.13 L180.33,339.15 L180.81,339.16 L181.28,339.17 L181.75,339.18 L182.22,339.2 L182.69,339.21 L183.16,339.21 L183.63,339.22 L184.1,339.23 L184.58,339.24 L185.05,339.24 L185.52,339.25 L185.99,339.25 L186.46,339.26 L186.93,339.26 L187.4,339.27 L187.87,339.27 L188.34,339.27 L188.82,339.27 L189.29,339.28 L189.76,339.28 L190.23,339.28 L190.7,339.28 L191.17,339.28 L191.64,339.29 L192.11,339.29 L192.59,339.29 L193.06,339.29 L193.53,339.29 L194,339.29 L194.47,339.29 L194.94,339.29 L195.41,339.29 L195.88,339.29 L196.35,339.3 L196.83,339.3 L197.3,339.3 L197.77,339.3 L198.24,339.3 L198.71,339.3 L199.18,339.3 L199.65,339.3 L200.12,339.3 L200.6,339.3 L201.07,339.3 L201.54,339.3 L202.01,339.3 L202.48,339.3 L202.95,339.3 L203.42,339.3 L203.89,339.3 L204.36,339.3 L204.84,339.3 L205.31,339.3 L205.78,339.3 L206.25,339.3 L206.72,339.3 L207.19,339.3 L207.66,339.3 L208.13,339.3 L208.61,339.3 L209.08,339.3 L209.55,339.3 L210.02,339.3 L210.49,339.3 L210.96,339.3 L211.43,339.3 L211.9,339.3 L212.37,339.3 L212.85,339.3 L213.32,339.3 L213.79,339.3 L214.26,339.3 L214.73,339.3 L215.2,339.3 L215.67,339.3 L216.14,339.3 L216.62,339.3 L217.09,339.3 L217.56,339.3 L218.03,339.3 L218.5,339.3" fill="none" stroke="#d9584b" stroke-width="0.8" stroke-dasharray="1.6,0.4"/>
<path d="M30.5,207.58 L30.97,207.6 L31.44,207.62 L31.91,207.65 L32.38,207.67 L32.86,207.7 L33.33,207.73 L33.8,207.76 L34.27,207.78 L34.74,207.81 L35.21,207.84 L35.68,207.88 L36.15,207.91 L36.63,207.94 L37.1,207.98 L37.57,208.01 L38.04,208.05 L38.51,208.09 L38.98,208.12 L39.45,208.16 L39.92,208.2 L40.39,208.25 L40.87,208.29 L41.34,208.34 L41.81,208.38 L42.28,208.43 L42.75,208.48 L43.22,208.53 L43.69,208.58 L44.16,208.63 L44.64,208.69 L45.11,208.74 L45.58,208.8 L46.05,208.86 L46.52,208.92 L46.99,208.99 L47.46,209.05 L47.93,209.12 L48.4,209.19 L48.88,209.26 L49.35,209.34 L49.82,209.41 L50.29,209.49 L50.76,209.57 L51.23,209.65 L51.7,209.74 L52.17,209.83 L52.65,209.92 L53.12,210.01 L53.59,210.11 L54.06,210.2 L54.53,210.31 L55,210.41 L55.47,210.52 L55.94,210.63 L56.41,210.74 L56.89,210.86 L57.36,210.98 L57.83,211.1 L58.3,211.23 L58.77,211.36 L59.24,211.5 L59.71,211.64 L60.18,211.78 L60.66,211.93 L61.13,212.08 L61.6,212.24 L62.07,212.4 L62.54,212.56 L63.01,212.73 L63.48,212.91 L63.95,213.09 L64.42,213.27 L64.9,213.46 L65.37,213.66 L65.84,213.86 L66.31,214.07 L66.78,214.28 L67.25,214.5 L67.72,214.72 L68.19,214.96 L68.67,215.19 L69.14,215.44 L69.61,215.69 L70.08,215.95 L70.55,216.22 L71.02,216.49 L71.49,216.77 L71.96,217.06 L72.43,217.36 L72.91,217.66 L73.38,217.98 L73.85,218.3 L74.32,218.63 L74.79,218.97 L75.26,219.32 L75.73,219.68 L76.2,220.05 L76.68,220.42 L77.15,220.81 L77.62,221.21 L78.09,221.62 L78.56,222.04 L79.03,222.47 L79.5,222.92 L79.97,223.37 L80.44,223.84 L80.92,224.31 L81.39,224.8 L81.86,225.31 L82.33,225.82 L82.8,226.35 L83.27,226.89 L83.74,227.45 L84.21,228.02 L84.69,228.6 L85.16,229.2 L85.63,229.81 L86.1,230.44 L86.57,231.09 L87.04,231.74 L87.51,232.42 L87.98,233.11 L88.45,233.81 L88.93,234.53 L89.4,235.27 L89.87,236.03 L90.34,236.8 L90.81,237.59 L91.28,238.39 L91.75,239.22 L92.22,240.06 L92.7,240.92 L93.17,241.8 L93.64,242.69 L94.11,243.61 L94.58,244.54 L95.05,245.49 L95.52,246.46 L95.99,247.44 L96.46,248.45 L96.94,249.47 L97.41,250.52 L97.88,251.58 L98.35,252.66 L98.82,253.76 L99.29,254.87 L99.76,256.01 L100.23,257.16 L100.71,258.33 L101.18,259.52 L101.65,260.72 L102.12,261.95 L102.59,263.18 L103.06,264.44 L103.53,265.71 L104,266.99 L104.47,268.29 L104.95,269.61 L105.42,270.93 L105.89,272.28 L106.36,273.63 L106.83,274.99 L107.3,276.37 L107.77,277.75 L108.24,279.15 L108.72,280.55 L109.19,281.96 L109.66,283.38 L110.13,284.8 L110.6,286.22 L111.07,287.65 L111.54,289.08 L112.01,290.51 L112.48,291.94 L112.96,293.37 L113.43,294.8 L113.9,296.22 L114.37,297.63 L114.84,299.04 L115.31,300.44 L115.78,301.83 L116.25,303.21 L116.73,304.58 L117.2,305.93 L117.67,307.26 L118.14,308.58 L118.61,309.88 L119.08,311.16 L119.55,312.42 L120.02,313.66 L120.49,314.87 L120.97,316.06 L121.44,317.22 L121.91,318.36 L122.38,319.46 L122.85,320.54 L123.32,321.59 L123.79,322.6 L124.26,323.59 L124.74,324.54 L125.21,325.46 L125.68,326.34 L126.15,327.2 L126.62,328.01 L127.09,328.8 L127.56,329.54 L128.03,330.26 L128.51,330.94 L128.98,331.58 L129.45,332.19 L129.92,332.77 L130.39,333.32 L130.86,333.83 L131.33,334.31 L131.8,334.76 L132.27,335.18 L132.75,335.57 L133.22,335.93 L133.69,336.27 L134.16,336.58 L134.63,336.87 L135.1,337.13 L135.57,337.37 L136.04,337.59 L136.52,337.79 L136.99,337.97 L137.46,338.13 L137.93,338.28 L138.4,338.41 L138.87,338.53 L139.34,338.63 L139.81,338.72 L140.28,338.8 L140.76,338.88 L141.23,338.94 L141.7,338.99 L142.17,339.04 L142.64,339.08 L143.11,339.12 L143.58,339.15 L144.05,339.17 L144.53,339.2 L145,339.21 L145.47,339.23 L145.94,339.24 L146.41,339.25 L146.88,339.26 L147.35,339.27 L147.82,339.28 L148.29,339.28 L148.77,339.28 L149.24,339.29 L149.71,339.29 L150.18,339.29 L150.65,339.29 L151.12,339.3 L151.59,339.3 L152.06,339.3 L152.54,339.3 L153.01,339.3 L153.48,339.3 L153.95,339.3 L154.42,339.3 L154.89,339.3 L155.36,339.3 L155.83,339.3 L156.3,339.3 L156.78,339.3 L157.25,339.3 L157.72,339.3 L158.19,339.3 L158.66,339.3 L159.13,339.3 L159.6,339.3 L160.07,339.3 L160.55,339.3 L161.02,339.3 L161.49,339.3 L161.96,339.3 L162.43,339.3 L162.9,339.3 L163.37,339.3 L163.84,339.3 L164.31,339.3 L164.79,339.3 L165.26,339.3 L165.73,339.3 L166.2,339.3 L166.67,339.3 L167.14,339.3 L167.61,339.3 L168.08,339.3 L168.56,339.3 L169.03,339.3 L169.5,339.3 L169.97,339.3 L170.44,339.3 L170.91,339.3 L171.38,339.3 L171.85,339.3 L172.32,339.3 L172.8,339.3 L173.27,339.3 L173.74,339.3 L174.21,339.3 L174.68,339.3 L175.15,339.3 L175.62,339.3 L176.09,339.3 L176.57,339.3 L177.04,339.3 L177.51,339.3 L177.98,339.3 L178.45,339.3 L178.92,339.3 L179.39,339.3 L179.86,339.3 L180.33,339.3 L180.81,339.3 L181.28,339.3 L181.75,339.3 L182.22,339.3 L182.69,339.3 L183.16,339.3 L183.63,339.3 L184.1,339.3 L184.58,339.3 L185.05,339.3 L185.52,339.3 L185.99,339.3 L186.46,339.3 L186.93,339.3 L187.4,339.3 L187.87,339.3 L188.34,339.3 L188.82,339.3 L189.29,339.3 L189.76,339.3 L190.23,339.3 L190.7,339.3 L191.17,339.3 L191.64,339.3 L192.11,339.3 L192.59,339.3 L193.06,339.3 L193.53,339.3 L194,339.3 L194.47,339.3 L194.94,339.3 L195.41,339.3 L195.88,339.3 L196.35,339.3 L196.83,339.3 L197.3,339.3 L197.77,339.3 L198.24,339.3 L198.71,339.3 L199.18,339.3 L199.65,339.3 L200.12,339.3 L200.6,339.3 L201.07,339.3 L201.54,339.3 L202.01,339.3 L202.48,339.3 L202.95,339.3 L203.42,339.3 L203.89,339.3 L204.36,339.3 L204.84,339.3 L205.31,339.3 L205.78,339.3 L206.25,339.3 L206.72,339.3 L207.19,339.3 L207.66,339.3 L208.13,339.3 L208.61,339.3 L209.08,339.3 L209.55,339.3 L210.02,339.3 L210.49,339.3 L210.96,339.3 L211.43,339.3 L211.9,339.3 L212.37,339.3 L212.85,339.3 L213.32,339.3 L213.79,339.3 L214.26,339.3 L214.73,339.3 L215.2,339.3 L215.67,339.3 L216.14,339.3 L216.62,339.3 L217.09,339.3 L217.56,339.3 L218.03,339.3 L218.5,339.3" fill="none" stroke="#62cdd3" stroke-width="0.9" stroke-dasharray="1.6,0.4"/>
<path d="M30.5,206.8 L30.97,206.8 L31.44,206.81 L31.91,206.81 L32.38,206.81 L32.86,206.81 L33.33,206.81 L33.8,206.81 L34.27,206.81 L34.74,206.81 L35.21,206.81 L35.68,206.81 L36.15,206.81 L36.63,206.81 L37.1,206.81 L37.57,206.81 L38.04,206.81 L38.51,206.81 L38.98,206.81 L39.45,206.81 L39.92,206.81 L40.39,206.81 L40.87,206.81 L41.34,206.81 L41.81,206.81 L42.28,206.81 L42.75,206.81 L43.22,206.81 L43.69,206.81 L44.16,206.81 L44.64,206.81 L45.11,206.81 L45.58,206.81 L46.05,206.81 L46.52,206.82 L46.99,206.82 L47.46,206.82 L47.93,206.82 L48.4,206.82 L48.88,206.82 L49.35,206.82 L49.82,206.82 L50.29,206.82 L50.76,206.82 L51.23,206.82 L51.7,206.82 L52.17,206.82 L52.65,206.82 L53.12,206.82 L53.59,206.83 L54.06,206.83 L54.53,206.83 L55,206.83 L55.47,206.83 L55.94,206.83 L56.41,206.83 L56.89,206.83 L57.36,206.83 L57.83,206.83 L58.3,206.84 L58.77,206.84 L59.24,206.84 L59.71,206.84 L60.18,206.84 L60.66,206.84 L61.13,206.84 L61.6,206.85 L62.07,206.85 L62.54,206.85 L63.01,206.85 L63.48,206.85 L63.95,206.85 L64.42,206.86 L64.9,206.86 L65.37,206.86 L65.84,206.86 L66.31,206.86 L66.78,206.87 L67.25,206.87 L67.72,206.87 L68.19,206.87 L68.67,206.88 L69.14,206.88 L69.61,206.88 L70.08,206.88 L70.55,206.89 L71.02,206.89 L71.49,206.89 L71.96,206.9 L72.43,206.9 L72.91,206.9 L73.38,206.91 L73.85,206.91 L74.32,206.91 L74.79,206.92 L75.26,206.92 L75.73,206.93 L76.2,206.93 L76.68,206.94 L77.15,206.94 L77.62,206.94 L78.09,206.95 L78.56,206.95 L79.03,206.96 L79.5,206.97 L79.97,206.97 L80.44,206.98 L80.92,206.98 L81.39,206.99 L81.86,207 L82.33,207 L82.8,207.01 L83.27,207.02 L83.74,207.02 L84.21,207.03 L84.69,207.04 L85.16,207.05 L85.63,207.06 L86.1,207.07 L86.57,207.08 L87.04,207.09 L87.51,207.1 L87.98,207.11 L88.45,207.12 L88.93,207.13 L89.4,207.14 L89.87,207.15 L90.34,207.16 L90.81,207.17 L91.28,207.19 L91.75,207.2 L92.22,207.21 L92.7,207.23 L93.17,207.24 L93.64,207.26 L94.11,207.28 L94.58,207.29 L95.05,207.31 L95.52,207.33 L95.99,207.34 L96.46,207.36 L96.94,207.38 L97.41,207.4 L97.88,207.42 L98.35,207.45 L98.82,207.47 L99.29,207.49 L99.76,207.51 L100.23,207.54 L100.71,207.56 L101.18,207.59 L101.65,207.62 L102.12,207.65 L102.59,207.68 L103.06,207.71 L103.53,207.74 L104,207.77 L104.47,207.8 L104.95,207.84 L105.42,207.87 L105.89,207.91 L106.36,207.95 L106.83,207.99 L107.3,208.03 L107.77,208.07 L108.24,208.11 L108.72,208.16 L109.19,208.21 L109.66,208.25 L110.13,208.3 L110.6,208.36 L111.07,208.41 L111.54,208.47 L112.01,208.52 L112.48,208.58 L112.96,208.64 L113.43,208.71 L113.9,208.77 L114.37,208.84 L114.84,208.91 L115.31,208.98 L115.78,209.06 L116.25,209.13 L116.73,209.21 L117.2,209.29 L117.67,209.38 L118.14,209.47 L118.61,209.56 L119.08,209.65 L119.55,209.75 L120.02,209.85 L120.49,209.95 L120.97,210.06 L121.44,210.17 L121.91,210.29 L122.38,210.41 L122.85,210.53 L123.32,210.66 L123.79,210.79 L124.26,210.92 L124.74,211.06 L125.21,211.2 L125.68,211.35 L126.15,211.51 L126.62,211.67 L127.09,211.83 L127.56,212 L128.03,212.17 L128.51,212.35 L128.98,212.54 L129.45,212.73 L129.92,212.93 L130.39,213.14 L130.86,213.35 L131.33,213.57 L131.8,213.79 L132.27,214.03 L132.75,214.27 L133.22,214.51 L133.69,214.77 L134.16,215.03 L134.63,215.31 L135.1,215.59 L135.57,215.88 L136.04,216.18 L136.52,216.48 L136.99,216.8 L137.46,217.13 L137.93,217.46 L138.4,217.81 L138.87,218.17 L139.34,218.54 L139.81,218.92 L140.28,219.31 L140.76,219.71 L141.23,220.13 L141.7,220.55 L142.17,220.99 L142.64,221.45 L143.11,221.91 L143.58,222.39 L144.05,222.88 L144.53,223.39 L145,223.91 L145.47,224.45 L145.94,225 L146.41,225.56 L146.88,226.14 L147.35,226.74 L147.82,227.35 L148.29,227.98 L148.77,228.63 L149.24,229.29 L149.71,229.97 L150.18,230.66 L150.65,231.38 L151.12,232.11 L151.59,232.86 L152.06,233.63 L152.54,234.42 L153.01,235.22 L153.48,236.04 L153.95,236.89 L154.42,237.75 L154.89,238.63 L155.36,239.53 L155.83,240.45 L156.3,241.39 L156.78,242.34 L157.25,243.32 L157.72,244.32 L158.19,245.33 L158.66,246.37 L159.13,247.42 L159.6,248.49 L160.07,249.59 L160.55,250.69 L161.02,251.82 L161.49,252.97 L161.96,254.13 L162.43,255.31 L162.9,256.51 L163.37,257.72 L163.84,258.95 L164.31,260.19 L164.79,261.45 L165.26,262.72 L165.73,264.01 L166.2,265.31 L166.67,266.62 L167.14,267.94 L167.61,269.27 L168.08,270.61 L168.56,271.96 L169.03,273.32 L169.5,274.68 L169.97,276.05 L170.44,277.43 L170.91,278.81 L171.38,280.19 L171.85,281.57 L172.32,282.95 L172.8,284.33 L173.27,285.71 L173.74,287.09 L174.21,288.46 L174.68,289.82 L175.15,291.18 L175.62,292.54 L176.09,293.88 L176.57,295.21 L177.04,296.53 L177.51,297.84 L177.98,299.14 L178.45,300.42 L178.92,301.68 L179.39,302.93 L179.86,304.16 L180.33,305.37 L180.81,306.57 L181.28,307.74 L181.75,308.89 L182.22,310.02 L182.69,311.13 L183.16,312.22 L183.63,313.28 L184.1,314.32 L184.58,315.33 L185.05,316.32 L185.52,317.28 L185.99,318.22 L186.46,319.13 L186.93,320.01 L187.4,320.87 L187.87,321.7 L188.34,322.51 L188.82,323.29 L189.29,324.05 L189.76,324.78 L190.23,325.48 L190.7,326.16 L191.17,326.81 L191.64,327.44 L192.11,328.04 L192.59,328.62 L193.06,329.18 L193.53,329.72 L194,330.23 L194.47,330.72 L194.94,331.18 L195.41,331.63 L195.88,332.06 L196.35,332.47 L196.83,332.85 L197.3,333.22 L197.77,333.57 L198.24,333.91 L198.71,334.23 L199.18,334.53 L199.65,334.81 L200.12,335.08 L200.6,335.34 L201.07,335.58 L201.54,335.81 L202.01,336.03 L202.48,336.24 L202.95,336.43 L203.42,336.61 L203.89,336.78 L204.36,336.95 L204.84,337.1 L205.31,337.24 L205.78,337.38 L206.25,337.5 L206.72,337.62 L207.19,337.73 L207.66,337.84 L208.13,337.94 L208.61,338.03 L209.08,338.12 L209.55,338.2 L210.02,338.27 L210.49,338.34 L210.96,338.41 L211.43,338.47 L211.9,338.53 L212.37,338.58 L212.85,338.63 L213.32,338.68 L213.79,338.72 L214.26,338.77 L214.73,338.8 L215.2,338.84 L215.67,338.87 L216.14,338.9 L216.62,338.93 L217.09,338.96 L217.56,338.98 L218.03,339.01 L218.5,339.03" fill="none" stroke="#111" stroke-width="1.0" stroke-dasharray="3,1.6"/>
<path d="M30.5,206.91 L30.97,206.91 L31.44,206.92 L31.91,206.92 L32.38,206.92 L32.86,206.93 L33.33,206.93 L33.8,206.93 L34.27,206.94 L34.74,206.94 L35.21,206.94 L35.68,206.95 L36.15,206.95 L36.63,206.96 L37.1,206.96 L37.57,206.97 L38.04,206.97 L38.51,206.98 L38.98,206.98 L39.45,206.99 L39.92,206.99 L40.39,207 L40.87,207 L41.34,207.01 L41.81,207.01 L42.28,207.02 L42.75,207.03 L43.22,207.03 L43.69,207.04 L44.16,207.04 L44.64,207.05 L45.11,207.06 L45.58,207.07 L46.05,207.07 L46.52,207.08 L46.99,207.09 L47.46,207.1 L47.93,207.11 L48.4,207.11 L48.88,207.12 L49.35,207.13 L49.82,207.14 L50.29,207.15 L50.76,207.16 L51.23,207.17 L51.7,207.18 L52.17,207.19 L52.65,207.21 L53.12,207.22 L53.59,207.23 L54.06,207.24 L54.53,207.25 L55,207.27 L55.47,207.28 L55.94,207.29 L56.41,207.31 L56.89,207.32 L57.36,207.34 L57.83,207.35 L58.3,207.37 L58.77,207.38 L59.24,207.4 L59.71,207.42 L60.18,207.43 L60.66,207.45 L61.13,207.47 L61.6,207.49 L62.07,207.51 L62.54,207.53 L63.01,207.55 L63.48,207.57 L63.95,207.59 L64.42,207.61 L64.9,207.64 L65.37,207.66 L65.84,207.69 L66.31,207.71 L66.78,207.74 L67.25,207.76 L67.72,207.79 L68.19,207.82 L68.67,207.85 L69.14,207.88 L69.61,207.91 L70.08,207.94 L70.55,207.97 L71.02,208 L71.49,208.04 L71.96,208.07 L72.43,208.11 L72.91,208.14 L73.38,208.18 L73.85,208.22 L74.32,208.26 L74.79,208.3 L75.26,208.35 L75.73,208.39 L76.2,208.43 L76.68,208.48 L77.15,208.53 L77.62,208.58 L78.09,208.63 L78.56,208.68 L79.03,208.73 L79.5,208.78 L79.97,208.84 L80.44,208.9 L80.92,208.96 L81.39,209.02 L81.86,209.08 L82.33,209.14 L82.8,209.21 L83.27,209.28 L83.74,209.35 L84.21,209.42 L84.69,209.49 L85.16,209.57 L85.63,209.65 L86.1,209.72 L86.57,209.81 L87.04,209.89 L87.51,209.98 L87.98,210.07 L88.45,210.16 L88.93,210.25 L89.4,210.35 L89.87,210.45 L90.34,210.55 L90.81,210.65 L91.28,210.76 L91.75,210.87 L92.22,210.99 L92.7,211.1 L93.17,211.22 L93.64,211.35 L94.11,211.47 L94.58,211.6 L95.05,211.73 L95.52,211.87 L95.99,212.01 L96.46,212.16 L96.94,212.31 L97.41,212.46 L97.88,212.61 L98.35,212.78 L98.82,212.94 L99.29,213.11 L99.76,213.28 L100.23,213.46 L100.71,213.65 L101.18,213.84 L101.65,214.03 L102.12,214.23 L102.59,214.43 L103.06,214.64 L103.53,214.85 L104,215.08 L104.47,215.3 L104.95,215.53 L105.42,215.77 L105.89,216.02 L106.36,216.27 L106.83,216.52 L107.3,216.79 L107.77,217.06 L108.24,217.34 L108.72,217.62 L109.19,217.91 L109.66,218.21 L110.13,218.52 L110.6,218.84 L111.07,219.16 L111.54,219.49 L112.01,219.83 L112.48,220.18 L112.96,220.54 L113.43,220.9 L113.9,221.28 L114.37,221.66 L114.84,222.05 L115.31,222.46 L115.78,222.87 L116.25,223.29 L116.73,223.72 L117.2,224.17 L117.67,224.62 L118.14,225.09 L118.61,225.56 L119.08,226.05 L119.55,226.55 L120.02,227.06 L120.49,227.58 L120.97,228.11 L121.44,228.66 L121.91,229.21 L122.38,229.78 L122.85,230.37 L123.32,230.96 L123.79,231.57 L124.26,232.19 L124.74,232.83 L125.21,233.48 L125.68,234.14 L126.15,234.82 L126.62,235.51 L127.09,236.21 L127.56,236.93 L128.03,237.66 L128.51,238.41 L128.98,239.17 L129.45,239.95 L129.92,240.74 L130.39,241.55 L130.86,242.38 L131.33,243.21 L131.8,244.07 L132.27,244.93 L132.75,245.82 L133.22,246.72 L133.69,247.63 L134.16,248.56 L134.63,249.5 L135.1,250.46 L135.57,251.44 L136.04,252.43 L136.52,253.43 L136.99,254.45 L137.46,255.49 L137.93,256.54 L138.4,257.6 L138.87,258.67 L139.34,259.76 L139.81,260.87 L140.28,261.99 L140.76,263.12 L141.23,264.26 L141.7,265.41 L142.17,266.58 L142.64,267.76 L143.11,268.94 L143.58,270.14 L144.05,271.35 L144.53,272.57 L145,273.8 L145.47,275.03 L145.94,276.27 L146.41,277.52 L146.88,278.78 L147.35,280.04 L147.82,281.3 L148.29,282.57 L148.77,283.84 L149.24,285.12 L149.71,286.4 L150.18,287.67 L150.65,288.95 L151.12,290.22 L151.59,291.5 L152.06,292.77 L152.54,294.03 L153.01,295.3 L153.48,296.55 L153.95,297.8 L154.42,299.04 L154.89,300.28 L155.36,301.5 L155.83,302.71 L156.3,303.91 L156.78,305.1 L157.25,306.28 L157.72,307.44 L158.19,308.58 L158.66,309.71 L159.13,310.83 L159.6,311.92 L160.07,313 L160.55,314.05 L161.02,315.09 L161.49,316.1 L161.96,317.1 L162.43,318.07 L162.9,319.02 L163.37,319.95 L163.84,320.85 L164.31,321.73 L164.79,322.58 L165.26,323.41 L165.73,324.22 L166.2,325 L166.67,325.75 L167.14,326.48 L167.61,327.18 L168.08,327.86 L168.56,328.51 L169.03,329.14 L169.5,329.74 L169.97,330.32 L170.44,330.87 L170.91,331.4 L171.38,331.9 L171.85,332.38 L172.32,332.84 L172.8,333.27 L173.27,333.69 L173.74,334.08 L174.21,334.45 L174.68,334.8 L175.15,335.13 L175.62,335.44 L176.09,335.73 L176.57,336.01 L177.04,336.27 L177.51,336.51 L177.98,336.73 L178.45,336.94 L178.92,337.14 L179.39,337.32 L179.86,337.49 L180.33,337.65 L180.81,337.8 L181.28,337.93 L181.75,338.06 L182.22,338.17 L182.69,338.28 L183.16,338.37 L183.63,338.46 L184.1,338.54 L184.58,338.62 L185.05,338.69 L185.52,338.75 L185.99,338.81 L186.46,338.86 L186.93,338.9 L187.4,338.95 L187.87,338.98 L188.34,339.02 L188.82,339.05 L189.29,339.08 L189.76,339.1 L190.23,339.12 L190.7,339.14 L191.17,339.16 L191.64,339.18 L192.11,339.19 L192.59,339.21 L193.06,339.22 L193.53,339.23 L194,339.24 L194.47,339.24 L194.94,339.25 L195.41,339.26 L195.88,339.26 L196.35,339.27 L196.83,339.27 L197.3,339.28 L197.77,339.28 L198.24,339.28 L198.71,339.28 L199.18,339.29 L199.65,339.29 L200.12,339.29 L200.6,339.29 L201.07,339.29 L201.54,339.29 L202.01,339.29 L202.48,339.3 L202.95,339.3 L203.42,339.3 L203.89,339.3 L204.36,339.3 L204.84,339.3 L205.31,339.3 L205.78,339.3 L206.25,339.3 L206.72,339.3 L207.19,339.3 L207.66,339.3 L208.13,339.3 L208.61,339.3 L209.08,339.3 L209.55,339.3 L210.02,339.3 L210.49,339.3 L210.96,339.3 L211.43,339.3 L211.9,339.3 L212.37,339.3 L212.85,339.3 L213.32,339.3 L213.79,339.3 L214.26,339.3 L214.73,339.3 L215.2,339.3 L215.67,339.3 L216.14,339.3 L216.62,339.3 L217.09,339.3 L217.56,339.3 L218.03,339.3 L218.5,339.3" fill="none" stroke="#1a3434" stroke-width="1.0" stroke-dasharray="1.2,0.4"/>
<rect x="30.5" y="200.5" width="188" height="144.7" fill="none" stroke="#707070" stroke-width="0.9"/>
<path d="M30.5,345.2 v-2 M30.5,200.5 v2" stroke="#707070" stroke-width="0.8"/>
<text class="s" x="32" y="355.5" font-size="7" text-anchor="middle">10<tspan font-size="5" dy="-2.6">−5</tspan></text>
<path d="M41.82,344.8 v-1" stroke="#999" stroke-width="0.5"/><path d="M41.82,200.9 v0.8" stroke="#ccc" stroke-width="0.4"/>
<path d="M48.44,344.8 v-1" stroke="#999" stroke-width="0.5"/><path d="M48.44,200.9 v0.8" stroke="#ccc" stroke-width="0.4"/>
<path d="M53.14,344.8 v-1" stroke="#999" stroke-width="0.5"/><path d="M53.14,200.9 v0.8" stroke="#ccc" stroke-width="0.4"/>
<path d="M56.78,344.8 v-1" stroke="#999" stroke-width="0.5"/><path d="M56.78,200.9 v0.8" stroke="#ccc" stroke-width="0.4"/>
<path d="M59.76,344.8 v-1" stroke="#999" stroke-width="0.5"/><path d="M59.76,200.9 v0.8" stroke="#ccc" stroke-width="0.4"/>
<path d="M62.28,344.8 v-1" stroke="#999" stroke-width="0.5"/><path d="M62.28,200.9 v0.8" stroke="#ccc" stroke-width="0.4"/>
<path d="M64.46,344.8 v-1" stroke="#999" stroke-width="0.5"/><path d="M64.46,200.9 v0.8" stroke="#ccc" stroke-width="0.4"/>
<path d="M66.38,344.8 v-1" stroke="#999" stroke-width="0.5"/><path d="M66.38,200.9 v0.8" stroke="#ccc" stroke-width="0.4"/>
<path d="M68.1,345.2 v-2 M68.1,200.5 v2" stroke="#707070" stroke-width="0.8"/>
<text class="s" x="69.6" y="355.5" font-size="7" text-anchor="middle">10<tspan font-size="5" dy="-2.6">−4</tspan></text>
<path d="M79.42,344.8 v-1" stroke="#999" stroke-width="0.5"/><path d="M79.42,200.9 v0.8" stroke="#ccc" stroke-width="0.4"/>
<path d="M86.04,344.8 v-1" stroke="#999" stroke-width="0.5"/><path d="M86.04,200.9 v0.8" stroke="#ccc" stroke-width="0.4"/>
<path d="M90.74,344.8 v-1" stroke="#999" stroke-width="0.5"/><path d="M90.74,200.9 v0.8" stroke="#ccc" stroke-width="0.4"/>
<path d="M94.38,344.8 v-1" stroke="#999" stroke-width="0.5"/><path d="M94.38,200.9 v0.8" stroke="#ccc" stroke-width="0.4"/>
<path d="M97.36,344.8 v-1" stroke="#999" stroke-width="0.5"/><path d="M97.36,200.9 v0.8" stroke="#ccc" stroke-width="0.4"/>
<path d="M99.88,344.8 v-1" stroke="#999" stroke-width="0.5"/><path d="M99.88,200.9 v0.8" stroke="#ccc" stroke-width="0.4"/>
<path d="M102.06,344.8 v-1" stroke="#999" stroke-width="0.5"/><path d="M102.06,200.9 v0.8" stroke="#ccc" stroke-width="0.4"/>
<path d="M103.98,344.8 v-1" stroke="#999" stroke-width="0.5"/><path d="M103.98,200.9 v0.8" stroke="#ccc" stroke-width="0.4"/>
<path d="M105.7,345.2 v-2 M105.7,200.5 v2" stroke="#707070" stroke-width="0.8"/>
<text class="s" x="107.2" y="355.5" font-size="7" text-anchor="middle">10<tspan font-size="5" dy="-2.6">−3</tspan></text>
<path d="M117.02,344.8 v-1" stroke="#999" stroke-width="0.5"/><path d="M117.02,200.9 v0.8" stroke="#ccc" stroke-width="0.4"/>
<path d="M123.64,344.8 v-1" stroke="#999" stroke-width="0.5"/><path d="M123.64,200.9 v0.8" stroke="#ccc" stroke-width="0.4"/>
<path d="M128.34,344.8 v-1" stroke="#999" stroke-width="0.5"/><path d="M128.34,200.9 v0.8" stroke="#ccc" stroke-width="0.4"/>
<path d="M131.98,344.8 v-1" stroke="#999" stroke-width="0.5"/><path d="M131.98,200.9 v0.8" stroke="#ccc" stroke-width="0.4"/>
<path d="M134.96,344.8 v-1" stroke="#999" stroke-width="0.5"/><path d="M134.96,200.9 v0.8" stroke="#ccc" stroke-width="0.4"/>
<path d="M137.48,344.8 v-1" stroke="#999" stroke-width="0.5"/><path d="M137.48,200.9 v0.8" stroke="#ccc" stroke-width="0.4"/>
<path d="M139.66,344.8 v-1" stroke="#999" stroke-width="0.5"/><path d="M139.66,200.9 v0.8" stroke="#ccc" stroke-width="0.4"/>
<path d="M141.58,344.8 v-1" stroke="#999" stroke-width="0.5"/><path d="M141.58,200.9 v0.8" stroke="#ccc" stroke-width="0.4"/>
<path d="M143.3,345.2 v-2 M143.3,200.5 v2" stroke="#707070" stroke-width="0.8"/>
<text class="s" x="144.8" y="355.5" font-size="7" text-anchor="middle">10<tspan font-size="5" dy="-2.6">−2</tspan></text>
<path d="M154.62,344.8 v-1" stroke="#999" stroke-width="0.5"/><path d="M154.62,200.9 v0.8" stroke="#ccc" stroke-width="0.4"/>
<path d="M161.24,344.8 v-1" stroke="#999" stroke-width="0.5"/><path d="M161.24,200.9 v0.8" stroke="#ccc" stroke-width="0.4"/>
<path d="M165.94,344.8 v-1" stroke="#999" stroke-width="0.5"/><path d="M165.94,200.9 v0.8" stroke="#ccc" stroke-width="0.4"/>
<path d="M169.58,344.8 v-1" stroke="#999" stroke-width="0.5"/><path d="M169.58,200.9 v0.8" stroke="#ccc" stroke-width="0.4"/>
<path d="M172.56,344.8 v-1" stroke="#999" stroke-width="0.5"/><path d="M172.56,200.9 v0.8" stroke="#ccc" stroke-width="0.4"/>
<path d="M175.08,344.8 v-1" stroke="#999" stroke-width="0.5"/><path d="M175.08,200.9 v0.8" stroke="#ccc" stroke-width="0.4"/>
<path d="M177.26,344.8 v-1" stroke="#999" stroke-width="0.5"/><path d="M177.26,200.9 v0.8" stroke="#ccc" stroke-width="0.4"/>
<path d="M179.18,344.8 v-1" stroke="#999" stroke-width="0.5"/><path d="M179.18,200.9 v0.8" stroke="#ccc" stroke-width="0.4"/>
<path d="M180.9,345.2 v-2 M180.9,200.5 v2" stroke="#707070" stroke-width="0.8"/>
<text class="s" x="182.4" y="355.5" font-size="7" text-anchor="middle">10<tspan font-size="5" dy="-2.6">−1</tspan></text>
<path d="M192.22,344.8 v-1" stroke="#999" stroke-width="0.5"/><path d="M192.22,200.9 v0.8" stroke="#ccc" stroke-width="0.4"/>
<path d="M198.84,344.8 v-1" stroke="#999" stroke-width="0.5"/><path d="M198.84,200.9 v0.8" stroke="#ccc" stroke-width="0.4"/>
<path d="M203.54,344.8 v-1" stroke="#999" stroke-width="0.5"/><path d="M203.54,200.9 v0.8" stroke="#ccc" stroke-width="0.4"/>
<path d="M207.18,344.8 v-1" stroke="#999" stroke-width="0.5"/><path d="M207.18,200.9 v0.8" stroke="#ccc" stroke-width="0.4"/>
<path d="M210.16,344.8 v-1" stroke="#999" stroke-width="0.5"/><path d="M210.16,200.9 v0.8" stroke="#ccc" stroke-width="0.4"/>
<path d="M212.68,344.8 v-1" stroke="#999" stroke-width="0.5"/><path d="M212.68,200.9 v0.8" stroke="#ccc" stroke-width="0.4"/>
<path d="M214.86,344.8 v-1" stroke="#999" stroke-width="0.5"/><path d="M214.86,200.9 v0.8" stroke="#ccc" stroke-width="0.4"/>
<path d="M216.78,344.8 v-1" stroke="#999" stroke-width="0.5"/><path d="M216.78,200.9 v0.8" stroke="#ccc" stroke-width="0.4"/>
<path d="M218.5,345.2 v-2 M218.5,200.5 v2" stroke="#707070" stroke-width="0.8"/>
<text class="s" x="220" y="355.5" font-size="7" text-anchor="middle">10<tspan font-size="5" dy="-2.6">0</tspan></text>
<path d="M30.5,339.3 h2 M218.5,339.3 h-2" stroke="#707070" stroke-width="0.8"/>
<text class="s" x="26.3" y="341.8" font-size="7" text-anchor="end">0.0</text>
<path d="M30.5,312.8 h2 M218.5,312.8 h-2" stroke="#707070" stroke-width="0.8"/>
<text class="s" x="26.3" y="315.3" font-size="7" text-anchor="end">0.2</text>
<path d="M30.5,286.3 h2 M218.5,286.3 h-2" stroke="#707070" stroke-width="0.8"/>
<text class="s" x="26.3" y="288.8" font-size="7" text-anchor="end">0.4</text>
<path d="M30.5,259.8 h2 M218.5,259.8 h-2" stroke="#707070" stroke-width="0.8"/>
<text class="s" x="26.3" y="262.3" font-size="7" text-anchor="end">0.6</text>
<path d="M30.5,233.3 h2 M218.5,233.3 h-2" stroke="#707070" stroke-width="0.8"/>
<text class="s" x="26.3" y="235.8" font-size="7" text-anchor="end">0.8</text>
<path d="M30.5,206.8 h2 M218.5,206.8 h-2" stroke="#707070" stroke-width="0.8"/>
<text class="s" x="26.3" y="202.6" font-size="7" text-anchor="end">1.0</text>
<text class="s" transform="translate(124.8,368.8) scale(1,1.12)" font-size="8" text-anchor="middle">Time, <tspan font-style="italic">t</tspan></text>
<text x="37" y="218.6" font-size="5.9"><tspan font-style="italic">k</tspan><tspan font-size="4.2" dy="1" font-style="italic">AB</tspan><tspan dy="-1"></tspan> = 1.25</text>
<text x="37" y="225.5" font-size="5.9"><tspan font-style="italic">D</tspan><tspan font-size="4.2" dy="1" font-style="italic">A</tspan><tspan dy="-1"></tspan> = <tspan font-style="italic">D</tspan><tspan font-size="4.2" dy="1" font-style="italic">C</tspan><tspan dy="-1"></tspan> = 0</text>
<text x="37" y="234.5" font-size="5.9"><tspan font-style="italic">D</tspan><tspan font-size="4.2" dy="1" font-style="italic">B</tspan><tspan dy="-1"></tspan> = 1</text>
<text x="37" y="240.4" font-size="5.9"><tspan font-style="italic">P</tspan><tspan font-size="4.2" dy="1" font-style="italic">A</tspan><tspan dy="-1"></tspan>/<tspan font-style="italic">ρ</tspan><tspan font-size="4.2" dy="1" font-style="italic">A</tspan><tspan dy="-1"></tspan> ≈ 0.03</text>
<text x="37" y="249.2" font-size="5.9"><tspan font-style="italic">A</tspan><tspan font-size="4" dy="-2.2">0</tspan><tspan font-size="4.2" dx="-2.2" dy="3.4" font-style="italic">v</tspan><tspan dy="-1.2"></tspan> = 1</text>
<text x="37" y="256.9" font-size="5.9"><tspan font-style="italic">B</tspan><tspan font-size="4" dy="-2.2">0</tspan><tspan font-size="4.2" dx="-2.2" dy="3.4" font-style="italic">v</tspan><tspan dy="-1.2"></tspan> = 1000</text>
<text x="37" y="265.6" font-size="5.9"><tspan font-style="italic">C</tspan><tspan font-size="4" dy="-2.2">0</tspan><tspan font-size="4.2" dx="-2.2" dy="3.4" font-style="italic">v</tspan><tspan dy="-1.2"></tspan> = 0</text>
<text x="37" y="275.9" font-size="5.9"><tspan font-style="italic">V</tspan> = 10</text>
<text x="37" y="282" font-size="5.9"><tspan font-style="italic">r</tspan><tspan font-size="4.2" dy="1" font-style="italic">v</tspan><tspan dy="-1"></tspan> = 0.005</text>
<text x="37" y="290.6" font-size="5.9">Iterations = 100000</text>
<rect x="33.5" y="294" width="76" height="48.4" fill="#f2f2f2" fill-opacity="0.85" stroke="#d4d4d4" stroke-width="0.6" rx="1"/>
<path d="M37,299.3 h9.4" stroke="#c9473d" stroke-width="1.1"/>
<text x="49" y="300.6" font-size="5.9">Simulation, <tspan font-style="italic">k</tspan><tspan font-size="4.2" dy="1" font-style="italic">C</tspan><tspan dy="-1"> = 5</tspan></text>
<path d="M37,307.02 h9.4" stroke="#4cc3ca" stroke-width="1.1"/>
<text x="49" y="308.32" font-size="5.9">Simulation, <tspan font-style="italic">k</tspan><tspan font-size="4.2" dy="1" font-style="italic">C</tspan><tspan dy="-1"> = 500</tspan></text>
<path d="M37,314.74 h9.4" stroke="#d9584b" stroke-width="1.0" stroke-dasharray="1,0.8"/>
<text x="49" y="316.04" font-size="5.9">Mass Action, <tspan font-style="italic">k</tspan><tspan font-size="4.2" dy="1" font-style="italic">C</tspan><tspan dy="-1"> = 5</tspan></text>
<path d="M37,322.46 h9.4" stroke="#62cdd3" stroke-width="1.0" stroke-dasharray="1,0.8"/>
<text x="49" y="323.76" font-size="5.9">Mass Action, <tspan font-style="italic">k</tspan><tspan font-size="4.2" dy="1" font-style="italic">C</tspan><tspan dy="-1"> = 500</tspan></text>
<path d="M37,330.18 h9.4" stroke="#111" stroke-width="1.0" stroke-dasharray="3,1.6"/>
<text x="49" y="331.48" font-size="5.9">MPK1, <tspan font-style="italic">k</tspan><tspan font-size="4.2" dy="1" font-style="italic">C</tspan><tspan dy="-1"> = 5</tspan></text>
<path d="M37,337.9 h9.4" stroke="#333" stroke-width="0.9" stroke-dasharray="1,0.8"/>
<text x="49" y="339.2" font-size="5.9">MPK1, <tspan font-style="italic">k</tspan><tspan font-size="4.2" dy="1" font-style="italic">C</tspan><tspan dy="-1"> = 500</tspan></text>
<text transform="translate(9.6,312.2) rotate(-90)" font-size="8.75" text-anchor="middle"><tspan font-style="italic">S</tspan><tspan font-size="5.6" dy="1.6">rev</tspan><tspan dy="-1.6">(</tspan><tspan font-style="italic">t</tspan>) − <tspan font-style="italic">S</tspan><tspan font-size="5.6" dy="1.6">rev</tspan><tspan dy="-1.6">(∞)</tspan></text>
<text transform="translate(9.6,233.5) rotate(-90)" font-size="8.75" text-anchor="middle"><tspan font-style="italic">S</tspan><tspan font-size="5.6" dy="1.6">rev</tspan><tspan dy="-1.6">(0) − </tspan><tspan font-style="italic">S</tspan><tspan font-size="5.6" dy="1.6">rev</tspan><tspan dy="-1.6">(∞)</tspan></text>
<path d="M0.6,343 C2.2,346.47 12.6,346.47 14.2,343" fill="none" stroke="#222" stroke-width="1.15"/>
<path d="M0.6,282.5 C2.2,279.3 12.6,279.3 14.2,282.5" fill="none" stroke="#222" stroke-width="1.15"/>
<path d="M0.6,265.4 C2.2,268.2 12.6,268.2 14.2,265.4" fill="none" stroke="#222" stroke-width="1.15"/>
<path d="M0.6,202.6 C2.2,199.67 12.6,199.67 14.2,202.6" fill="none" stroke="#222" stroke-width="1.15"/>
<path d="M0.3,271.1 L14.2,276.6" stroke="#333" stroke-width="0.9"/>
<text x="234.1" y="194.7" font-size="12" font-weight="bold">d</text>
<path d="M261.2,207.81 L261.67,207.82 L262.14,207.82 L262.61,207.82 L263.08,207.83 L263.55,207.83 L264.02,207.84 L264.49,207.84 L264.96,207.85 L265.43,207.85 L265.9,207.86 L266.37,207.87 L266.84,207.87 L267.31,207.88 L267.78,207.88 L268.25,207.89 L268.72,207.89 L269.19,207.9 L269.66,207.91 L270.13,207.91 L270.6,207.92 L271.07,207.93 L271.54,207.93 L272.01,207.94 L272.48,207.95 L272.95,207.96 L273.42,207.96 L273.89,207.97 L274.36,207.98 L274.83,207.99 L275.3,208 L275.77,208 L276.24,208.01 L276.71,208.02 L277.18,208.03 L277.65,208.04 L278.12,208.05 L278.59,208.06 L279.06,208.07 L279.53,208.08 L280,208.09 L280.47,208.1 L280.94,208.11 L281.41,208.12 L281.88,208.13 L282.35,208.14 L282.82,208.15 L283.29,208.16 L283.76,208.18 L284.23,208.19 L284.7,208.2 L285.17,208.21 L285.64,208.23 L286.11,208.24 L286.58,208.25 L287.05,208.27 L287.52,208.28 L287.99,208.29 L288.46,208.31 L288.93,208.32 L289.4,208.34 L289.87,208.35 L290.34,208.37 L290.81,208.39 L291.28,208.4 L291.75,208.42 L292.22,208.44 L292.68,208.46 L293.15,208.47 L293.62,208.49 L294.09,208.51 L294.56,208.53 L295.03,208.55 L295.5,208.57 L295.97,208.59 L296.44,208.61 L296.91,208.63 L297.38,208.65 L297.85,208.68 L298.32,208.7 L298.79,208.72 L299.26,208.74 L299.73,208.77 L300.2,208.79 L300.67,208.82 L301.14,208.84 L301.61,208.87 L302.08,208.9 L302.55,208.92 L303.02,208.95 L303.49,208.98 L303.96,209.01 L304.43,209.04 L304.9,209.07 L305.37,209.1 L305.84,209.13 L306.31,209.16 L306.78,209.2 L307.25,209.23 L307.72,209.27 L308.19,209.3 L308.66,209.34 L309.13,209.37 L309.6,209.41 L310.07,209.45 L310.54,209.49 L311.01,209.53 L311.48,209.57 L311.95,209.61 L312.42,209.65 L312.89,209.69 L313.36,209.74 L313.83,209.78 L314.3,209.83 L314.77,209.87 L315.24,209.92 L315.71,209.97 L316.18,210.02 L316.65,210.07 L317.12,210.12 L317.59,210.17 L318.06,210.23 L318.53,210.28 L319,210.34 L319.47,210.4 L319.94,210.46 L320.41,210.52 L320.88,210.58 L321.35,210.64 L321.82,210.7 L322.29,210.77 L322.76,210.83 L323.23,210.9 L323.7,210.97 L324.17,211.04 L324.64,211.11 L325.11,211.18 L325.58,211.26 L326.05,211.34 L326.52,211.41 L326.99,211.49 L327.46,211.57 L327.93,211.66 L328.4,211.74 L328.87,211.83 L329.34,211.91 L329.81,212 L330.28,212.1 L330.75,212.19 L331.22,212.28 L331.69,212.38 L332.16,212.48 L332.63,212.58 L333.1,212.68 L333.57,212.79 L334.04,212.9 L334.51,213.01 L334.98,213.12 L335.45,213.23 L335.92,213.35 L336.39,213.47 L336.86,213.59 L337.33,213.71 L337.8,213.84 L338.27,213.97 L338.74,214.1 L339.21,214.23 L339.68,214.37 L340.15,214.51 L340.62,214.65 L341.09,214.8 L341.56,214.94 L342.03,215.09 L342.5,215.25 L342.97,215.41 L343.44,215.57 L343.91,215.73 L344.38,215.89 L344.85,216.06 L345.32,216.24 L345.79,216.41 L346.26,216.59 L346.73,216.78 L347.2,216.96 L347.67,217.15 L348.14,217.35 L348.61,217.55 L349.08,217.75 L349.55,217.95 L350.02,218.16 L350.49,218.38 L350.96,218.6 L351.43,218.82 L351.9,219.05 L352.37,219.28 L352.84,219.51 L353.31,219.75 L353.78,220 L354.25,220.24 L354.72,220.5 L355.18,220.76 L355.65,221.02 L356.12,221.29 L356.59,221.56 L357.06,221.84 L357.53,222.12 L358,222.41 L358.47,222.71 L358.94,223.01 L359.41,223.31 L359.88,223.63 L360.35,223.94 L360.82,224.26 L361.29,224.59 L361.76,224.93 L362.23,225.27 L362.7,225.61 L363.17,225.97 L363.64,226.33 L364.11,226.69 L364.58,227.06 L365.05,227.44 L365.52,227.83 L365.99,228.22 L366.46,228.62 L366.93,229.03 L367.4,229.44 L367.87,229.86 L368.34,230.29 L368.81,230.72 L369.28,231.16 L369.75,231.61 L370.22,232.07 L370.69,232.54 L371.16,233.01 L371.63,233.49 L372.1,233.98 L372.57,234.47 L373.04,234.98 L373.51,235.49 L373.98,236.01 L374.45,236.54 L374.92,237.08 L375.39,237.62 L375.86,238.18 L376.33,238.74 L376.8,239.31 L377.27,239.9 L377.74,240.48 L378.21,241.08 L378.68,241.69 L379.15,242.31 L379.62,242.93 L380.09,243.57 L380.56,244.21 L381.03,244.86 L381.5,245.52 L381.97,246.19 L382.44,246.87 L382.91,247.56 L383.38,248.26 L383.85,248.97 L384.32,249.69 L384.79,250.41 L385.26,251.15 L385.73,251.89 L386.2,252.65 L386.67,253.41 L387.14,254.18 L387.61,254.96 L388.08,255.75 L388.55,256.55 L389.02,257.36 L389.49,258.18 L389.96,259.01 L390.43,259.84 L390.9,260.69 L391.37,261.54 L391.84,262.4 L392.31,263.27 L392.78,264.15 L393.25,265.04 L393.72,265.93 L394.19,266.83 L394.66,267.74 L395.13,268.66 L395.6,269.58 L396.07,270.51 L396.54,271.45 L397.01,272.39 L397.48,273.35 L397.95,274.3 L398.42,275.27 L398.89,276.24 L399.36,277.21 L399.83,278.19 L400.3,279.17 L400.77,280.16 L401.24,281.15 L401.71,282.15 L402.18,283.15 L402.65,284.15 L403.12,285.16 L403.59,286.17 L404.06,287.18 L404.53,288.19 L405,289.2 L405.47,290.22 L405.94,291.23 L406.41,292.24 L406.88,293.26 L407.35,294.27 L407.82,295.28 L408.29,296.29 L408.76,297.3 L409.23,298.3 L409.7,299.3 L410.17,300.3 L410.64,301.29 L411.11,302.28 L411.58,303.26 L412.05,304.23 L412.52,305.2 L412.99,306.17 L413.46,307.12 L413.93,308.07 L414.4,309 L414.87,309.93 L415.34,310.85 L415.81,311.76 L416.28,312.66 L416.75,313.55 L417.22,314.43 L417.68,315.29 L418.15,316.14 L418.62,316.98 L419.09,317.81 L419.56,318.62 L420.03,319.42 L420.5,320.21 L420.97,320.97 L421.44,321.73 L421.91,322.47 L422.38,323.19 L422.85,323.9 L423.32,324.59 L423.79,325.26 L424.26,325.92 L424.73,326.56 L425.2,327.18 L425.67,327.78 L426.14,328.37 L426.61,328.94 L427.08,329.49 L427.55,330.03 L428.02,330.54 L428.49,331.04 L428.96,331.52 L429.43,331.99 L429.9,332.43 L430.37,332.86 L430.84,333.28 L431.31,333.67 L431.78,334.05 L432.25,334.41 L432.72,334.75 L433.19,335.08 L433.66,335.4 L434.13,335.7 L434.6,335.98 L435.07,336.25 L435.54,336.49 L436.01,336.68 L436.48,337 L436.95,337.24 L437.42,337.32 L437.89,337.53 L438.36,337.75 L438.83,337.88 L439.3,338.09 L439.77,338.14 L440.24,338.38 L440.71,338.35 L441.18,338.75 L441.65,338.81 L442.12,338.76 L442.59,338.95 L443.06,338.82 L443.53,339.03 L444,339.21 L444.47,339.11 L444.94,339.34 L445.41,339.65 L445.88,339.6 L446.35,339.57 L446.82,339.53 L447.29,339.4 L447.76,339.19 L448.23,339.32 L448.7,338.95" fill="none" stroke="#c9473d" stroke-width="1.1"/>
<path d="M261.2,208.54 L261.67,208.56 L262.14,208.58 L262.61,208.6 L263.08,208.62 L263.55,208.64 L264.02,208.67 L264.49,208.69 L264.96,208.71 L265.43,208.74 L265.9,208.76 L266.37,208.79 L266.84,208.81 L267.31,208.84 L267.78,208.86 L268.25,208.89 L268.72,208.92 L269.19,208.95 L269.66,208.98 L270.13,209.01 L270.6,209.04 L271.07,209.07 L271.54,209.1 L272.01,209.13 L272.48,209.17 L272.95,209.2 L273.42,209.23 L273.89,209.27 L274.36,209.31 L274.83,209.34 L275.3,209.38 L275.77,209.42 L276.24,209.46 L276.71,209.5 L277.18,209.54 L277.65,209.58 L278.12,209.62 L278.59,209.67 L279.06,209.71 L279.53,209.76 L280,209.8 L280.47,209.85 L280.94,209.9 L281.41,209.95 L281.88,210 L282.35,210.05 L282.82,210.1 L283.29,210.16 L283.76,210.21 L284.23,210.27 L284.7,210.33 L285.17,210.39 L285.64,210.45 L286.11,210.51 L286.58,210.57 L287.05,210.63 L287.52,210.7 L287.99,210.76 L288.46,210.83 L288.93,210.9 L289.4,210.97 L289.87,211.04 L290.34,211.12 L290.81,211.19 L291.28,211.27 L291.75,211.35 L292.22,211.43 L292.68,211.51 L293.15,211.6 L293.62,211.68 L294.09,211.77 L294.56,211.86 L295.03,211.95 L295.5,212.04 L295.97,212.14 L296.44,212.23 L296.91,212.33 L297.38,212.43 L297.85,212.53 L298.32,212.64 L298.79,212.75 L299.26,212.86 L299.73,212.97 L300.2,213.08 L300.67,213.2 L301.14,213.32 L301.61,213.44 L302.08,213.56 L302.55,213.69 L303.02,213.82 L303.49,213.95 L303.96,214.08 L304.43,214.22 L304.9,214.36 L305.37,214.5 L305.84,214.65 L306.31,214.8 L306.78,214.95 L307.25,215.1 L307.72,215.26 L308.19,215.42 L308.66,215.58 L309.13,215.75 L309.6,215.92 L310.07,216.1 L310.54,216.28 L311.01,216.46 L311.48,216.64 L311.95,216.83 L312.42,217.02 L312.89,217.22 L313.36,217.42 L313.83,217.62 L314.3,217.83 L314.77,218.04 L315.24,218.26 L315.71,218.48 L316.18,218.71 L316.65,218.94 L317.12,219.17 L317.59,219.41 L318.06,219.65 L318.53,219.9 L319,220.15 L319.47,220.41 L319.94,220.67 L320.41,220.94 L320.88,221.21 L321.35,221.49 L321.82,221.77 L322.29,222.06 L322.76,222.36 L323.23,222.65 L323.7,222.96 L324.17,223.27 L324.64,223.59 L325.11,223.91 L325.58,224.24 L326.05,224.57 L326.52,224.91 L326.99,225.26 L327.46,225.61 L327.93,225.97 L328.4,226.34 L328.87,226.71 L329.34,227.09 L329.81,227.47 L330.28,227.87 L330.75,228.27 L331.22,228.67 L331.69,229.09 L332.16,229.51 L332.63,229.94 L333.1,230.37 L333.57,230.81 L334.04,231.27 L334.51,231.72 L334.98,232.19 L335.45,232.66 L335.92,233.14 L336.39,233.63 L336.86,234.13 L337.33,234.64 L337.8,235.15 L338.27,235.67 L338.74,236.2 L339.21,236.74 L339.68,237.29 L340.15,237.84 L340.62,238.4 L341.09,238.98 L341.56,239.56 L342.03,240.15 L342.5,240.74 L342.97,241.35 L343.44,241.97 L343.91,242.59 L344.38,243.23 L344.85,243.87 L345.32,244.52 L345.79,245.18 L346.26,245.85 L346.73,246.53 L347.2,247.21 L347.67,247.91 L348.14,248.62 L348.61,249.33 L349.08,250.05 L349.55,250.78 L350.02,251.52 L350.49,252.27 L350.96,253.03 L351.43,253.8 L351.9,254.57 L352.37,255.36 L352.84,256.15 L353.31,256.95 L353.78,257.76 L354.25,258.58 L354.72,259.41 L355.18,260.24 L355.65,261.08 L356.12,261.93 L356.59,262.79 L357.06,263.65 L357.53,264.53 L358,265.41 L358.47,266.29 L358.94,267.18 L359.41,268.08 L359.88,268.99 L360.35,269.9 L360.82,270.82 L361.29,271.74 L361.76,272.67 L362.23,273.61 L362.7,274.55 L363.17,275.49 L363.64,276.44 L364.11,277.39 L364.58,278.35 L365.05,279.31 L365.52,280.27 L365.99,281.24 L366.46,282.21 L366.93,283.18 L367.4,284.15 L367.87,285.12 L368.34,286.1 L368.81,287.07 L369.28,288.05 L369.75,289.02 L370.22,290 L370.69,290.97 L371.16,291.94 L371.63,292.92 L372.1,293.88 L372.57,294.85 L373.04,295.81 L373.51,296.77 L373.98,297.73 L374.45,298.68 L374.92,299.63 L375.39,300.57 L375.86,301.5 L376.33,302.43 L376.8,303.36 L377.27,304.27 L377.74,305.18 L378.21,306.09 L378.68,306.98 L379.15,307.86 L379.62,308.74 L380.09,309.61 L380.56,310.46 L381.03,311.33 L381.5,312.13 L381.97,312.95 L382.44,313.93 L382.91,314.56 L383.38,315.16 L383.85,316.04 L384.32,316.77 L384.79,317.93 L385.26,318.64 L385.73,319.55 L386.2,319.81 L386.67,320.04 L387.14,321.04 L387.61,321.92 L388.08,323.18 L388.55,322.97 L389.02,323.99 L389.49,325.68 L389.96,326.23 L390.43,325.89 L390.9,326.88 L391.37,325.49 L391.84,327.29 L392.31,328.72 L392.78,328.78 L393.25,327.39 L393.72,330.23 L394.19,329.04 L394.66,329.8 L395.13,329.14 L395.6,330.53 L396.07,331.97 L396.54,331.3 L397.01,332.21 L397.48,331.47 L397.95,333.09 L398.42,330.8 L398.89,333.82 L399.36,333.4 L399.83,335.21 L400.3,334.41 L400.77,334.82 L401.24,334.87 L401.71,334 L402.18,336.47 L402.65,337.21 L403.12,334.27 L403.59,336.77 L404.06,337.63 L404.53,334.71 L405,335.53 L405.47,340.84 L405.94,337.85 L406.41,336.01 L406.88,336.08 L407.35,338.52 L407.82,335.1 L408.29,339.25 L408.76,338.41 L409.23,337.91 L409.7,338.24 L410.17,336.95 L410.64,336.68 L411.11,338.58 L411.58,336.2 L412.05,339.84 L412.52,339.1 L412.99,335.87 L413.46,338.7 L413.93,337.1 L414.4,339.71 L414.87,339.48 L415.34,339.26 L415.81,338.83 L416.28,339.74 L416.75,339.17 L417.22,338.09 L417.68,337.21 L418.15,339.11 L418.62,338.22 L419.09,337.79 L419.56,341.21 L420.03,342.08 L420.5,336.66 L420.97,337.18 L421.44,339.36 L421.91,338.87 L422.38,341.09 L422.85,341.86 L423.32,338.97 L423.79,342.06 L424.26,337.97 L424.73,340.71 L425.2,339.06 L425.67,336.26 L426.14,336.35 L426.61,340.04 L427.08,337.76 L427.55,341.35 L428.02,340.6 L428.49,338.97 L428.96,337.24 L429.43,340.59 L429.9,338.69 L430.37,339.45 L430.84,341.78 L431.31,339.86 L431.78,337.07 L432.25,339.79 L432.72,338.78 L433.19,338.22 L433.66,340.9 L434.13,337.54 L434.6,337.07 L435.07,336.91 L435.54,337.4 L436.01,340.44 L436.48,340.65 L436.95,340.99 L437.42,341.2 L437.89,341.01 L438.36,337.96 L438.83,337.15 L439.3,340.75 L439.77,338.27 L440.24,341.83 L440.71,340.22 L441.18,341.37 L441.65,342.45 L442.12,339.57 L442.59,339.53 L443.06,340.37 L443.53,340.57 L444,341.36 L444.47,339.9 L444.94,340.7 L445.41,339.26 L445.88,341.74 L446.35,339.29 L446.82,338.8 L447.29,337.55 L447.76,337.88 L448.23,339.35 L448.7,340.85" fill="none" stroke="#4cc3ca" stroke-width="1.0"/>
<path d="M261.2,207.83 L261.67,207.83 L262.14,207.84 L262.61,207.84 L263.08,207.85 L263.55,207.85 L264.02,207.86 L264.49,207.86 L264.96,207.87 L265.43,207.87 L265.9,207.88 L266.37,207.89 L266.84,207.89 L267.31,207.9 L267.78,207.91 L268.25,207.91 L268.72,207.92 L269.19,207.93 L269.66,207.93 L270.13,207.94 L270.6,207.95 L271.07,207.96 L271.54,207.97 L272.01,207.97 L272.48,207.98 L272.95,207.99 L273.42,208 L273.89,208.01 L274.36,208.02 L274.83,208.03 L275.3,208.04 L275.77,208.05 L276.24,208.06 L276.71,208.07 L277.18,208.08 L277.65,208.09 L278.12,208.1 L278.59,208.11 L279.06,208.12 L279.53,208.13 L280,208.14 L280.47,208.16 L280.94,208.17 L281.41,208.18 L281.88,208.19 L282.35,208.21 L282.82,208.22 L283.29,208.23 L283.76,208.25 L284.23,208.26 L284.7,208.28 L285.17,208.29 L285.64,208.31 L286.11,208.32 L286.58,208.34 L287.05,208.36 L287.52,208.37 L287.99,208.39 L288.46,208.41 L288.93,208.43 L289.4,208.44 L289.87,208.46 L290.34,208.48 L290.81,208.5 L291.28,208.52 L291.75,208.54 L292.22,208.56 L292.68,208.58 L293.15,208.61 L293.62,208.63 L294.09,208.65 L294.56,208.67 L295.03,208.7 L295.5,208.72 L295.97,208.75 L296.44,208.77 L296.91,208.8 L297.38,208.83 L297.85,208.85 L298.32,208.88 L298.79,208.91 L299.26,208.94 L299.73,208.97 L300.2,209 L300.67,209.03 L301.14,209.06 L301.61,209.09 L302.08,209.13 L302.55,209.16 L303.02,209.19 L303.49,209.23 L303.96,209.27 L304.43,209.3 L304.9,209.34 L305.37,209.38 L305.84,209.42 L306.31,209.46 L306.78,209.5 L307.25,209.54 L307.72,209.59 L308.19,209.63 L308.66,209.67 L309.13,209.72 L309.6,209.77 L310.07,209.81 L310.54,209.86 L311.01,209.91 L311.48,209.96 L311.95,210.02 L312.42,210.07 L312.89,210.12 L313.36,210.18 L313.83,210.24 L314.3,210.3 L314.77,210.35 L315.24,210.42 L315.71,210.48 L316.18,210.54 L316.65,210.61 L317.12,210.67 L317.59,210.74 L318.06,210.81 L318.53,210.88 L319,210.95 L319.47,211.03 L319.94,211.1 L320.41,211.18 L320.88,211.26 L321.35,211.34 L321.82,211.42 L322.29,211.5 L322.76,211.59 L323.23,211.68 L323.7,211.77 L324.17,211.86 L324.64,211.95 L325.11,212.05 L325.58,212.14 L326.05,212.24 L326.52,212.34 L326.99,212.45 L327.46,212.55 L327.93,212.66 L328.4,212.77 L328.87,212.89 L329.34,213 L329.81,213.12 L330.28,213.24 L330.75,213.36 L331.22,213.49 L331.69,213.62 L332.16,213.75 L332.63,213.88 L333.1,214.02 L333.57,214.16 L334.04,214.3 L334.51,214.44 L334.98,214.59 L335.45,214.74 L335.92,214.9 L336.39,215.06 L336.86,215.22 L337.33,215.38 L337.8,215.55 L338.27,215.72 L338.74,215.9 L339.21,216.08 L339.68,216.26 L340.15,216.45 L340.62,216.64 L341.09,216.83 L341.56,217.03 L342.03,217.23 L342.5,217.44 L342.97,217.65 L343.44,217.86 L343.91,218.08 L344.38,218.31 L344.85,218.53 L345.32,218.77 L345.79,219 L346.26,219.25 L346.73,219.49 L347.2,219.75 L347.67,220.01 L348.14,220.27 L348.61,220.54 L349.08,220.81 L349.55,221.09 L350.02,221.37 L350.49,221.66 L350.96,221.96 L351.43,222.26 L351.9,222.57 L352.37,222.88 L352.84,223.2 L353.31,223.53 L353.78,223.86 L354.25,224.2 L354.72,224.54 L355.18,224.89 L355.65,225.25 L356.12,225.62 L356.59,225.99 L357.06,226.37 L357.53,226.75 L358,227.15 L358.47,227.55 L358.94,227.96 L359.41,228.37 L359.88,228.8 L360.35,229.23 L360.82,229.67 L361.29,230.11 L361.76,230.57 L362.23,231.03 L362.7,231.51 L363.17,231.99 L363.64,232.47 L364.11,232.97 L364.58,233.48 L365.05,233.99 L365.52,234.52 L365.99,235.05 L366.46,235.59 L366.93,236.14 L367.4,236.7 L367.87,237.27 L368.34,237.85 L368.81,238.44 L369.28,239.03 L369.75,239.64 L370.22,240.26 L370.69,240.89 L371.16,241.52 L371.63,242.17 L372.1,242.83 L372.57,243.49 L373.04,244.17 L373.51,244.86 L373.98,245.56 L374.45,246.26 L374.92,246.98 L375.39,247.71 L375.86,248.45 L376.33,249.2 L376.8,249.96 L377.27,250.72 L377.74,251.5 L378.21,252.29 L378.68,253.09 L379.15,253.91 L379.62,254.73 L380.09,255.56 L380.56,256.4 L381.03,257.25 L381.5,258.11 L381.97,258.98 L382.44,259.86 L382.91,260.75 L383.38,261.65 L383.85,262.56 L384.32,263.48 L384.79,264.4 L385.26,265.34 L385.73,266.29 L386.2,267.24 L386.67,268.2 L387.14,269.17 L387.61,270.15 L388.08,271.14 L388.55,272.13 L389.02,273.13 L389.49,274.14 L389.96,275.15 L390.43,276.17 L390.9,277.2 L391.37,278.23 L391.84,279.27 L392.31,280.31 L392.78,281.36 L393.25,282.41 L393.72,283.46 L394.19,284.52 L394.66,285.58 L395.13,286.64 L395.6,287.71 L396.07,288.78 L396.54,289.85 L397.01,290.91 L397.48,291.98 L397.95,293.05 L398.42,294.12 L398.89,295.18 L399.36,296.25 L399.83,297.31 L400.3,298.37 L400.77,299.42 L401.24,300.47 L401.71,301.51 L402.18,302.55 L402.65,303.58 L403.12,304.61 L403.59,305.63 L404.06,306.64 L404.53,307.64 L405,308.63 L405.47,309.62 L405.94,310.59 L406.41,311.55 L406.88,312.5 L407.35,313.44 L407.82,314.36 L408.29,315.27 L408.76,316.17 L409.23,317.06 L409.7,317.93 L410.17,318.78 L410.64,319.62 L411.11,320.44 L411.58,321.24 L412.05,322.03 L412.52,322.8 L412.99,323.56 L413.46,324.29 L413.93,325.01 L414.4,325.71 L414.87,326.39 L415.34,327.05 L415.81,327.69 L416.28,328.31 L416.75,328.91 L417.22,329.49 L417.68,330.06 L418.15,330.6 L418.62,331.12 L419.09,331.63 L419.56,332.11 L420.03,332.58 L420.5,333.02 L420.97,333.45 L421.44,333.86 L421.91,334.25 L422.38,334.62 L422.85,334.97 L423.32,335.31 L423.79,335.62 L424.26,335.93 L424.73,336.21 L425.2,336.48 L425.67,336.73 L426.14,336.97 L426.61,337.2 L427.08,337.41 L427.55,337.6 L428.02,337.78 L428.49,337.96 L428.96,338.11 L429.43,338.26 L429.9,338.4 L430.37,338.52 L430.84,338.64 L431.31,338.75 L431.78,338.84 L432.25,338.93 L432.72,339.02 L433.19,339.09 L433.66,339.16 L434.13,339.22 L434.6,339.28 L435.07,339.33 L435.54,339.37 L436.01,339.41 L436.48,339.45 L436.95,339.48 L437.42,339.51 L437.89,339.53 L438.36,339.56 L438.83,339.58 L439.3,339.59 L439.77,339.61 L440.24,339.62 L440.71,339.63 L441.18,339.64 L441.65,339.65 L442.12,339.66 L442.59,339.67 L443.06,339.67 L443.53,339.68 L444,339.68 L444.47,339.68 L444.94,339.69 L445.41,339.69 L445.88,339.69 L446.35,339.69 L446.82,339.69 L447.29,339.7 L447.76,339.7 L448.23,339.7 L448.7,339.7" fill="none" stroke="#d9584b" stroke-width="0.8" stroke-dasharray="1.6,0.4"/>
<path d="M261.2,208.57 L261.67,208.59 L262.14,208.61 L262.61,208.64 L263.08,208.66 L263.55,208.68 L264.02,208.71 L264.49,208.73 L264.96,208.76 L265.43,208.78 L265.9,208.81 L266.37,208.84 L266.84,208.87 L267.31,208.89 L267.78,208.92 L268.25,208.95 L268.72,208.98 L269.19,209.01 L269.66,209.05 L270.13,209.08 L270.6,209.11 L271.07,209.14 L271.54,209.18 L272.01,209.21 L272.48,209.25 L272.95,209.29 L273.42,209.33 L273.89,209.36 L274.36,209.4 L274.83,209.44 L275.3,209.49 L275.77,209.53 L276.24,209.57 L276.71,209.61 L277.18,209.66 L277.65,209.71 L278.12,209.75 L278.59,209.8 L279.06,209.85 L279.53,209.9 L280,209.95 L280.47,210 L280.94,210.06 L281.41,210.11 L281.88,210.17 L282.35,210.23 L282.82,210.28 L283.29,210.34 L283.76,210.4 L284.23,210.47 L284.7,210.53 L285.17,210.6 L285.64,210.66 L286.11,210.73 L286.58,210.8 L287.05,210.87 L287.52,210.94 L287.99,211.02 L288.46,211.09 L288.93,211.17 L289.4,211.25 L289.87,211.33 L290.34,211.42 L290.81,211.5 L291.28,211.59 L291.75,211.67 L292.22,211.76 L292.68,211.86 L293.15,211.95 L293.62,212.05 L294.09,212.15 L294.56,212.25 L295.03,212.35 L295.5,212.45 L295.97,212.56 L296.44,212.67 L296.91,212.78 L297.38,212.9 L297.85,213.01 L298.32,213.13 L298.79,213.25 L299.26,213.38 L299.73,213.51 L300.2,213.64 L300.67,213.77 L301.14,213.9 L301.61,214.04 L302.08,214.18 L302.55,214.33 L303.02,214.48 L303.49,214.63 L303.96,214.78 L304.43,214.94 L304.9,215.1 L305.37,215.26 L305.84,215.43 L306.31,215.6 L306.78,215.77 L307.25,215.95 L307.72,216.13 L308.19,216.32 L308.66,216.51 L309.13,216.7 L309.6,216.9 L310.07,217.1 L310.54,217.3 L311.01,217.51 L311.48,217.73 L311.95,217.95 L312.42,218.17 L312.89,218.4 L313.36,218.63 L313.83,218.87 L314.3,219.11 L314.77,219.36 L315.24,219.61 L315.71,219.86 L316.18,220.13 L316.65,220.39 L317.12,220.67 L317.59,220.95 L318.06,221.23 L318.53,221.52 L319,221.81 L319.47,222.12 L319.94,222.42 L320.41,222.74 L320.88,223.06 L321.35,223.38 L321.82,223.71 L322.29,224.05 L322.76,224.4 L323.23,224.75 L323.7,225.11 L324.17,225.47 L324.64,225.85 L325.11,226.23 L325.58,226.61 L326.05,227.01 L326.52,227.41 L326.99,227.82 L327.46,228.23 L327.93,228.66 L328.4,229.09 L328.87,229.53 L329.34,229.98 L329.81,230.43 L330.28,230.9 L330.75,231.37 L331.22,231.85 L331.69,232.34 L332.16,232.84 L332.63,233.35 L333.1,233.86 L333.57,234.39 L334.04,234.92 L334.51,235.47 L334.98,236.02 L335.45,236.58 L335.92,237.15 L336.39,237.73 L336.86,238.32 L337.33,238.92 L337.8,239.53 L338.27,240.15 L338.74,240.78 L339.21,241.42 L339.68,242.07 L340.15,242.73 L340.62,243.4 L341.09,244.08 L341.56,244.77 L342.03,245.46 L342.5,246.17 L342.97,246.89 L343.44,247.63 L343.91,248.37 L344.38,249.12 L344.85,249.88 L345.32,250.65 L345.79,251.43 L346.26,252.23 L346.73,253.03 L347.2,253.84 L347.67,254.66 L348.14,255.5 L348.61,256.34 L349.08,257.19 L349.55,258.06 L350.02,258.93 L350.49,259.81 L350.96,260.7 L351.43,261.6 L351.9,262.51 L352.37,263.43 L352.84,264.36 L353.31,265.3 L353.78,266.25 L354.25,267.2 L354.72,268.17 L355.18,269.14 L355.65,270.12 L356.12,271.1 L356.59,272.1 L357.06,273.1 L357.53,274.1 L358,275.12 L358.47,276.14 L358.94,277.16 L359.41,278.19 L359.88,279.23 L360.35,280.27 L360.82,281.32 L361.29,282.37 L361.76,283.42 L362.23,284.47 L362.7,285.53 L363.17,286.59 L363.64,287.65 L364.11,288.72 L364.58,289.78 L365.05,290.85 L365.52,291.91 L365.99,292.97 L366.46,294.03 L366.93,295.09 L367.4,296.15 L367.87,297.21 L368.34,298.26 L368.81,299.31 L369.28,300.35 L369.75,301.38 L370.22,302.42 L370.69,303.44 L371.16,304.46 L371.63,305.47 L372.1,306.47 L372.57,307.46 L373.04,308.45 L373.51,309.42 L373.98,310.39 L374.45,311.34 L374.92,312.28 L375.39,313.21 L375.86,314.13 L376.33,315.03 L376.8,315.92 L377.27,316.79 L377.74,317.65 L378.21,318.5 L378.68,319.33 L379.15,320.14 L379.62,320.94 L380.09,321.72 L380.56,322.48 L381.03,323.23 L381.5,323.96 L381.97,324.67 L382.44,325.36 L382.91,326.04 L383.38,326.69 L383.85,327.33 L384.32,327.94 L384.79,328.54 L385.26,329.12 L385.73,329.68 L386.2,330.22 L386.67,330.75 L387.14,331.25 L387.61,331.74 L388.08,332.2 L388.55,332.65 L389.02,333.08 L389.49,333.49 L389.96,333.88 L390.43,334.26 L390.9,334.61 L391.37,334.95 L391.84,335.28 L392.31,335.59 L392.78,335.88 L393.25,336.16 L393.72,336.42 L394.19,336.66 L394.66,336.9 L395.13,337.11 L395.6,337.32 L396.07,337.51 L396.54,337.69 L397.01,337.86 L397.48,338.02 L397.95,338.17 L398.42,338.3 L398.89,338.43 L399.36,338.55 L399.83,338.65 L400.3,338.75 L400.77,338.85 L401.24,338.93 L401.71,339.01 L402.18,339.08 L402.65,339.14 L403.12,339.2 L403.59,339.26 L404.06,339.31 L404.53,339.35 L405,339.39 L405.47,339.43 L405.94,339.46 L406.41,339.49 L406.88,339.51 L407.35,339.54 L407.82,339.56 L408.29,339.57 L408.76,339.59 L409.23,339.61 L409.7,339.62 L410.17,339.63 L410.64,339.64 L411.11,339.65 L411.58,339.66 L412.05,339.66 L412.52,339.67 L412.99,339.67 L413.46,339.68 L413.93,339.68 L414.4,339.68 L414.87,339.69 L415.34,339.69 L415.81,339.69 L416.28,339.69 L416.75,339.69 L417.22,339.69 L417.68,339.7 L418.15,339.7 L418.62,339.7 L419.09,339.7 L419.56,339.7 L420.03,339.7 L420.5,339.7 L420.97,339.7 L421.44,339.7 L421.91,339.7 L422.38,339.7 L422.85,339.7 L423.32,339.7 L423.79,339.7 L424.26,339.7 L424.73,339.7 L425.2,339.7 L425.67,339.7 L426.14,339.7 L426.61,339.7 L427.08,339.7 L427.55,339.7 L428.02,339.7 L428.49,339.7 L428.96,339.7 L429.43,339.7 L429.9,339.7 L430.37,339.7 L430.84,339.7 L431.31,339.7 L431.78,339.7 L432.25,339.7 L432.72,339.7 L433.19,339.7 L433.66,339.7 L434.13,339.7 L434.6,339.7 L435.07,339.7 L435.54,339.7 L436.01,339.7 L436.48,339.7 L436.95,339.7 L437.42,339.7 L437.89,339.7 L438.36,339.7 L438.83,339.7 L439.3,339.7 L439.77,339.7 L440.24,339.7 L440.71,339.7 L441.18,339.7 L441.65,339.7 L442.12,339.7 L442.59,339.7 L443.06,339.7 L443.53,339.7 L444,339.7 L444.47,339.7 L444.94,339.7 L445.41,339.7 L445.88,339.7 L446.35,339.7 L446.82,339.7 L447.29,339.7 L447.76,339.7 L448.23,339.7 L448.7,339.7" fill="none" stroke="#62cdd3" stroke-width="0.9" stroke-dasharray="1.6,0.4"/>
<path d="M261.2,207.81 L261.67,207.82 L262.14,207.82 L262.61,207.82 L263.08,207.83 L263.55,207.83 L264.02,207.84 L264.49,207.84 L264.96,207.85 L265.43,207.85 L265.9,207.86 L266.37,207.87 L266.84,207.87 L267.31,207.88 L267.78,207.88 L268.25,207.89 L268.72,207.89 L269.19,207.9 L269.66,207.91 L270.13,207.91 L270.6,207.92 L271.07,207.93 L271.54,207.93 L272.01,207.94 L272.48,207.95 L272.95,207.96 L273.42,207.96 L273.89,207.97 L274.36,207.98 L274.83,207.99 L275.3,208 L275.77,208 L276.24,208.01 L276.71,208.02 L277.18,208.03 L277.65,208.04 L278.12,208.05 L278.59,208.06 L279.06,208.07 L279.53,208.08 L280,208.09 L280.47,208.1 L280.94,208.11 L281.41,208.12 L281.88,208.13 L282.35,208.14 L282.82,208.15 L283.29,208.16 L283.76,208.18 L284.23,208.19 L284.7,208.2 L285.17,208.21 L285.64,208.23 L286.11,208.24 L286.58,208.25 L287.05,208.27 L287.52,208.28 L287.99,208.29 L288.46,208.31 L288.93,208.32 L289.4,208.34 L289.87,208.35 L290.34,208.37 L290.81,208.39 L291.28,208.4 L291.75,208.42 L292.22,208.44 L292.68,208.46 L293.15,208.47 L293.62,208.49 L294.09,208.51 L294.56,208.53 L295.03,208.55 L295.5,208.57 L295.97,208.59 L296.44,208.61 L296.91,208.63 L297.38,208.65 L297.85,208.68 L298.32,208.7 L298.79,208.72 L299.26,208.74 L299.73,208.77 L300.2,208.79 L300.67,208.82 L301.14,208.84 L301.61,208.87 L302.08,208.9 L302.55,208.92 L303.02,208.95 L303.49,208.98 L303.96,209.01 L304.43,209.04 L304.9,209.07 L305.37,209.1 L305.84,209.13 L306.31,209.16 L306.78,209.2 L307.25,209.23 L307.72,209.27 L308.19,209.3 L308.66,209.34 L309.13,209.37 L309.6,209.41 L310.07,209.45 L310.54,209.49 L311.01,209.53 L311.48,209.57 L311.95,209.61 L312.42,209.65 L312.89,209.69 L313.36,209.74 L313.83,209.78 L314.3,209.83 L314.77,209.87 L315.24,209.92 L315.71,209.97 L316.18,210.02 L316.65,210.07 L317.12,210.12 L317.59,210.17 L318.06,210.23 L318.53,210.28 L319,210.34 L319.47,210.4 L319.94,210.46 L320.41,210.52 L320.88,210.58 L321.35,210.64 L321.82,210.7 L322.29,210.77 L322.76,210.83 L323.23,210.9 L323.7,210.97 L324.17,211.04 L324.64,211.11 L325.11,211.18 L325.58,211.26 L326.05,211.34 L326.52,211.41 L326.99,211.49 L327.46,211.57 L327.93,211.66 L328.4,211.74 L328.87,211.83 L329.34,211.91 L329.81,212 L330.28,212.1 L330.75,212.19 L331.22,212.28 L331.69,212.38 L332.16,212.48 L332.63,212.58 L333.1,212.68 L333.57,212.79 L334.04,212.9 L334.51,213.01 L334.98,213.12 L335.45,213.23 L335.92,213.35 L336.39,213.47 L336.86,213.59 L337.33,213.71 L337.8,213.84 L338.27,213.97 L338.74,214.1 L339.21,214.23 L339.68,214.37 L340.15,214.51 L340.62,214.65 L341.09,214.8 L341.56,214.94 L342.03,215.09 L342.5,215.25 L342.97,215.41 L343.44,215.57 L343.91,215.73 L344.38,215.89 L344.85,216.06 L345.32,216.24 L345.79,216.41 L346.26,216.59 L346.73,216.78 L347.2,216.96 L347.67,217.15 L348.14,217.35 L348.61,217.55 L349.08,217.75 L349.55,217.95 L350.02,218.16 L350.49,218.38 L350.96,218.6 L351.43,218.82 L351.9,219.05 L352.37,219.28 L352.84,219.51 L353.31,219.75 L353.78,220 L354.25,220.24 L354.72,220.5 L355.18,220.76 L355.65,221.02 L356.12,221.29 L356.59,221.56 L357.06,221.84 L357.53,222.12 L358,222.41 L358.47,222.71 L358.94,223.01 L359.41,223.31 L359.88,223.63 L360.35,223.94 L360.82,224.26 L361.29,224.59 L361.76,224.93 L362.23,225.27 L362.7,225.61 L363.17,225.97 L363.64,226.33 L364.11,226.69 L364.58,227.06 L365.05,227.44 L365.52,227.83 L365.99,228.22 L366.46,228.62 L366.93,229.03 L367.4,229.44 L367.87,229.86 L368.34,230.29 L368.81,230.72 L369.28,231.16 L369.75,231.61 L370.22,232.07 L370.69,232.54 L371.16,233.01 L371.63,233.49 L372.1,233.98 L372.57,234.47 L373.04,234.98 L373.51,235.49 L373.98,236.01 L374.45,236.54 L374.92,237.08 L375.39,237.62 L375.86,238.18 L376.33,238.74 L376.8,239.31 L377.27,239.9 L377.74,240.48 L378.21,241.08 L378.68,241.69 L379.15,242.31 L379.62,242.93 L380.09,243.57 L380.56,244.21 L381.03,244.86 L381.5,245.52 L381.97,246.19 L382.44,246.87 L382.91,247.56 L383.38,248.26 L383.85,248.97 L384.32,249.69 L384.79,250.41 L385.26,251.15 L385.73,251.89 L386.2,252.65 L386.67,253.41 L387.14,254.18 L387.61,254.96 L388.08,255.75 L388.55,256.55 L389.02,257.36 L389.49,258.18 L389.96,259.01 L390.43,259.84 L390.9,260.69 L391.37,261.54 L391.84,262.4 L392.31,263.27 L392.78,264.15 L393.25,265.04 L393.72,265.93 L394.19,266.83 L394.66,267.74 L395.13,268.66 L395.6,269.58 L396.07,270.51 L396.54,271.45 L397.01,272.39 L397.48,273.35 L397.95,274.3 L398.42,275.27 L398.89,276.24 L399.36,277.21 L399.83,278.19 L400.3,279.17 L400.77,280.16 L401.24,281.15 L401.71,282.15 L402.18,283.15 L402.65,284.15 L403.12,285.16 L403.59,286.17 L404.06,287.18 L404.53,288.19 L405,289.2 L405.47,290.22 L405.94,291.23 L406.41,292.24 L406.88,293.26 L407.35,294.27 L407.82,295.28 L408.29,296.29 L408.76,297.3 L409.23,298.3 L409.7,299.3 L410.17,300.3 L410.64,301.29 L411.11,302.28 L411.58,303.26 L412.05,304.23 L412.52,305.2 L412.99,306.17 L413.46,307.12 L413.93,308.07 L414.4,309 L414.87,309.93 L415.34,310.85 L415.81,311.76 L416.28,312.66 L416.75,313.55 L417.22,314.43 L417.68,315.29 L418.15,316.14 L418.62,316.98 L419.09,317.81 L419.56,318.62 L420.03,319.42 L420.5,320.21 L420.97,320.97 L421.44,321.73 L421.91,322.47 L422.38,323.19 L422.85,323.9 L423.32,324.59 L423.79,325.26 L424.26,325.92 L424.73,326.56 L425.2,327.18 L425.67,327.78 L426.14,328.37 L426.61,328.94 L427.08,329.49 L427.55,330.03 L428.02,330.54 L428.49,331.04 L428.96,331.52 L429.43,331.99 L429.9,332.43 L430.37,332.86 L430.84,333.28 L431.31,333.67 L431.78,334.05 L432.25,334.41 L432.72,334.75 L433.19,335.08 L433.66,335.4 L434.13,335.7 L434.6,335.98 L435.07,336.25 L435.54,336.5 L436.01,336.74 L436.48,336.97 L436.95,337.18 L437.42,337.38 L437.89,337.57 L438.36,337.74 L438.83,337.91 L439.3,338.06 L439.77,338.21 L440.24,338.34 L440.71,338.46 L441.18,338.58 L441.65,338.69 L442.12,338.78 L442.59,338.87 L443.06,338.96 L443.53,339.03 L444,339.1 L444.47,339.17 L444.94,339.22 L445.41,339.28 L445.88,339.32 L446.35,339.37 L446.82,339.41 L447.29,339.44 L447.76,339.47 L448.23,339.5 L448.7,339.53" fill="none" stroke="#111" stroke-width="1.0" stroke-dasharray="3,1.6"/>
<path d="M261.2,208.54 L261.67,208.56 L262.14,208.58 L262.61,208.6 L263.08,208.62 L263.55,208.64 L264.02,208.67 L264.49,208.69 L264.96,208.71 L265.43,208.74 L265.9,208.76 L266.37,208.79 L266.84,208.81 L267.31,208.84 L267.78,208.86 L268.25,208.89 L268.72,208.92 L269.19,208.95 L269.66,208.98 L270.13,209.01 L270.6,209.04 L271.07,209.07 L271.54,209.1 L272.01,209.13 L272.48,209.17 L272.95,209.2 L273.42,209.23 L273.89,209.27 L274.36,209.31 L274.83,209.34 L275.3,209.38 L275.77,209.42 L276.24,209.46 L276.71,209.5 L277.18,209.54 L277.65,209.58 L278.12,209.62 L278.59,209.67 L279.06,209.71 L279.53,209.76 L280,209.8 L280.47,209.85 L280.94,209.9 L281.41,209.95 L281.88,210 L282.35,210.05 L282.82,210.1 L283.29,210.16 L283.76,210.21 L284.23,210.27 L284.7,210.33 L285.17,210.39 L285.64,210.45 L286.11,210.51 L286.58,210.57 L287.05,210.63 L287.52,210.7 L287.99,210.76 L288.46,210.83 L288.93,210.9 L289.4,210.97 L289.87,211.04 L290.34,211.12 L290.81,211.19 L291.28,211.27 L291.75,211.35 L292.22,211.43 L292.68,211.51 L293.15,211.6 L293.62,211.68 L294.09,211.77 L294.56,211.86 L295.03,211.95 L295.5,212.04 L295.97,212.14 L296.44,212.23 L296.91,212.33 L297.38,212.43 L297.85,212.53 L298.32,212.64 L298.79,212.75 L299.26,212.86 L299.73,212.97 L300.2,213.08 L300.67,213.2 L301.14,213.32 L301.61,213.44 L302.08,213.56 L302.55,213.69 L303.02,213.82 L303.49,213.95 L303.96,214.08 L304.43,214.22 L304.9,214.36 L305.37,214.5 L305.84,214.65 L306.31,214.8 L306.78,214.95 L307.25,215.1 L307.72,215.26 L308.19,215.42 L308.66,215.58 L309.13,215.75 L309.6,215.92 L310.07,216.1 L310.54,216.28 L311.01,216.46 L311.48,216.64 L311.95,216.83 L312.42,217.02 L312.89,217.22 L313.36,217.42 L313.83,217.62 L314.3,217.83 L314.77,218.04 L315.24,218.26 L315.71,218.48 L316.18,218.71 L316.65,218.94 L317.12,219.17 L317.59,219.41 L318.06,219.65 L318.53,219.9 L319,220.15 L319.47,220.41 L319.94,220.67 L320.41,220.94 L320.88,221.21 L321.35,221.49 L321.82,221.77 L322.29,222.06 L322.76,222.36 L323.23,222.65 L323.7,222.96 L324.17,223.27 L324.64,223.59 L325.11,223.91 L325.58,224.24 L326.05,224.57 L326.52,224.91 L326.99,225.26 L327.46,225.61 L327.93,225.97 L328.4,226.34 L328.87,226.71 L329.34,227.09 L329.81,227.47 L330.28,227.87 L330.75,228.27 L331.22,228.67 L331.69,229.09 L332.16,229.51 L332.63,229.94 L333.1,230.37 L333.57,230.81 L334.04,231.27 L334.51,231.72 L334.98,232.19 L335.45,232.66 L335.92,233.14 L336.39,233.63 L336.86,234.13 L337.33,234.64 L337.8,235.15 L338.27,235.67 L338.74,236.2 L339.21,236.74 L339.68,237.29 L340.15,237.84 L340.62,238.4 L341.09,238.98 L341.56,239.56 L342.03,240.15 L342.5,240.74 L342.97,241.35 L343.44,241.97 L343.91,242.59 L344.38,243.23 L344.85,243.87 L345.32,244.52 L345.79,245.18 L346.26,245.85 L346.73,246.53 L347.2,247.21 L347.67,247.91 L348.14,248.62 L348.61,249.33 L349.08,250.05 L349.55,250.78 L350.02,251.52 L350.49,252.27 L350.96,253.03 L351.43,253.8 L351.9,254.57 L352.37,255.36 L352.84,256.15 L353.31,256.95 L353.78,257.76 L354.25,258.58 L354.72,259.41 L355.18,260.24 L355.65,261.08 L356.12,261.93 L356.59,262.79 L357.06,263.65 L357.53,264.53 L358,265.41 L358.47,266.29 L358.94,267.18 L359.41,268.08 L359.88,268.99 L360.35,269.9 L360.82,270.82 L361.29,271.74 L361.76,272.67 L362.23,273.61 L362.7,274.55 L363.17,275.49 L363.64,276.44 L364.11,277.39 L364.58,278.35 L365.05,279.31 L365.52,280.27 L365.99,281.24 L366.46,282.21 L366.93,283.18 L367.4,284.15 L367.87,285.12 L368.34,286.1 L368.81,287.07 L369.28,288.05 L369.75,289.02 L370.22,290 L370.69,290.97 L371.16,291.94 L371.63,292.92 L372.1,293.88 L372.57,294.85 L373.04,295.81 L373.51,296.77 L373.98,297.73 L374.45,298.68 L374.92,299.63 L375.39,300.57 L375.86,301.5 L376.33,302.43 L376.8,303.36 L377.27,304.27 L377.74,305.18 L378.21,306.09 L378.68,306.98 L379.15,307.86 L379.62,308.74 L380.09,309.61 L380.56,310.46 L381.03,311.31 L381.5,312.15 L381.97,312.97 L382.44,313.79 L382.91,314.59 L383.38,315.38 L383.85,316.16 L384.32,316.92 L384.79,317.68 L385.26,318.42 L385.73,319.15 L386.2,319.86 L386.67,320.56 L387.14,321.25 L387.61,321.92 L388.08,322.58 L388.55,323.22 L389.02,323.85 L389.49,324.46 L389.96,325.06 L390.43,325.65 L390.9,326.22 L391.37,326.78 L391.84,327.32 L392.31,327.84 L392.78,328.35 L393.25,328.85 L393.72,329.33 L394.19,329.8 L394.66,330.25 L395.13,330.69 L395.6,331.11 L396.07,331.52 L396.54,331.92 L397.01,332.3 L397.48,332.67 L397.95,333.02 L398.42,333.36 L398.89,333.69 L399.36,334.01 L399.83,334.31 L400.3,334.6 L400.77,334.88 L401.24,335.14 L401.71,335.4 L402.18,335.64 L402.65,335.88 L403.12,336.1 L403.59,336.31 L404.06,336.51 L404.53,336.7 L405,336.89 L405.47,337.06 L405.94,337.23 L406.41,337.38 L406.88,337.53 L407.35,337.67 L407.82,337.8 L408.29,337.93 L408.76,338.05 L409.23,338.16 L409.7,338.26 L410.17,338.36 L410.64,338.46 L411.11,338.54 L411.58,338.63 L412.05,338.7 L412.52,338.78 L412.99,338.84 L413.46,338.91 L413.93,338.97 L414.4,339.02 L414.87,339.07 L415.34,339.12 L415.81,339.17 L416.28,339.21 L416.75,339.25 L417.22,339.28 L417.68,339.32 L418.15,339.35 L418.62,339.38 L419.09,339.4 L419.56,339.43 L420.03,339.45 L420.5,339.47 L420.97,339.49 L421.44,339.51 L421.91,339.53 L422.38,339.54 L422.85,339.56 L423.32,339.57 L423.79,339.58 L424.26,339.59 L424.73,339.6 L425.2,339.61 L425.67,339.62 L426.14,339.63 L426.61,339.63 L427.08,339.64 L427.55,339.65 L428.02,339.65 L428.49,339.66 L428.96,339.66 L429.43,339.66 L429.9,339.67 L430.37,339.67 L430.84,339.67 L431.31,339.68 L431.78,339.68 L432.25,339.68 L432.72,339.68 L433.19,339.68 L433.66,339.69 L434.13,339.69 L434.6,339.69 L435.07,339.69 L435.54,339.69 L436.01,339.69 L436.48,339.69 L436.95,339.69 L437.42,339.69 L437.89,339.69 L438.36,339.7 L438.83,339.7 L439.3,339.7 L439.77,339.7 L440.24,339.7 L440.71,339.7 L441.18,339.7 L441.65,339.7 L442.12,339.7 L442.59,339.7 L443.06,339.7 L443.53,339.7 L444,339.7 L444.47,339.7 L444.94,339.7 L445.41,339.7 L445.88,339.7 L446.35,339.7 L446.82,339.7 L447.29,339.7 L447.76,339.7 L448.23,339.7 L448.7,339.7" fill="none" stroke="#1a3434" stroke-width="1.0" stroke-dasharray="1.2,0.4"/>
<rect x="261.2" y="200.5" width="187.5" height="145" fill="none" stroke="#707070" stroke-width="0.9"/>
<path d="M261.2,345.5 v-2 M261.2,200.5 v2" stroke="#707070" stroke-width="0.8"/>
<text class="s" x="262.7" y="355.5" font-size="7" text-anchor="middle">10<tspan font-size="5" dy="-2.6">−5</tspan></text>
<path d="M275.31,345.1 v-1" stroke="#999" stroke-width="0.5"/><path d="M275.31,200.9 v0.8" stroke="#ccc" stroke-width="0.4"/>
<path d="M283.57,345.1 v-1" stroke="#999" stroke-width="0.5"/><path d="M283.57,200.9 v0.8" stroke="#ccc" stroke-width="0.4"/>
<path d="M289.42,345.1 v-1" stroke="#999" stroke-width="0.5"/><path d="M289.42,200.9 v0.8" stroke="#ccc" stroke-width="0.4"/>
<path d="M293.96,345.1 v-1" stroke="#999" stroke-width="0.5"/><path d="M293.96,200.9 v0.8" stroke="#ccc" stroke-width="0.4"/>
<path d="M297.68,345.1 v-1" stroke="#999" stroke-width="0.5"/><path d="M297.68,200.9 v0.8" stroke="#ccc" stroke-width="0.4"/>
<path d="M300.81,345.1 v-1" stroke="#999" stroke-width="0.5"/><path d="M300.81,200.9 v0.8" stroke="#ccc" stroke-width="0.4"/>
<path d="M303.53,345.1 v-1" stroke="#999" stroke-width="0.5"/><path d="M303.53,200.9 v0.8" stroke="#ccc" stroke-width="0.4"/>
<path d="M305.93,345.1 v-1" stroke="#999" stroke-width="0.5"/><path d="M305.93,200.9 v0.8" stroke="#ccc" stroke-width="0.4"/>
<path d="M308.07,345.5 v-2 M308.07,200.5 v2" stroke="#707070" stroke-width="0.8"/>
<text class="s" x="309.57" y="355.5" font-size="7" text-anchor="middle">10<tspan font-size="5" dy="-2.6">−4</tspan></text>
<path d="M322.19,345.1 v-1" stroke="#999" stroke-width="0.5"/><path d="M322.19,200.9 v0.8" stroke="#ccc" stroke-width="0.4"/>
<path d="M330.44,345.1 v-1" stroke="#999" stroke-width="0.5"/><path d="M330.44,200.9 v0.8" stroke="#ccc" stroke-width="0.4"/>
<path d="M336.3,345.1 v-1" stroke="#999" stroke-width="0.5"/><path d="M336.3,200.9 v0.8" stroke="#ccc" stroke-width="0.4"/>
<path d="M340.84,345.1 v-1" stroke="#999" stroke-width="0.5"/><path d="M340.84,200.9 v0.8" stroke="#ccc" stroke-width="0.4"/>
<path d="M344.55,345.1 v-1" stroke="#999" stroke-width="0.5"/><path d="M344.55,200.9 v0.8" stroke="#ccc" stroke-width="0.4"/>
<path d="M347.69,345.1 v-1" stroke="#999" stroke-width="0.5"/><path d="M347.69,200.9 v0.8" stroke="#ccc" stroke-width="0.4"/>
<path d="M350.41,345.1 v-1" stroke="#999" stroke-width="0.5"/><path d="M350.41,200.9 v0.8" stroke="#ccc" stroke-width="0.4"/>
<path d="M352.81,345.1 v-1" stroke="#999" stroke-width="0.5"/><path d="M352.81,200.9 v0.8" stroke="#ccc" stroke-width="0.4"/>
<path d="M354.95,345.5 v-2 M354.95,200.5 v2" stroke="#707070" stroke-width="0.8"/>
<text class="s" x="356.45" y="355.5" font-size="7" text-anchor="middle">10<tspan font-size="5" dy="-2.6">−3</tspan></text>
<path d="M369.06,345.1 v-1" stroke="#999" stroke-width="0.5"/><path d="M369.06,200.9 v0.8" stroke="#ccc" stroke-width="0.4"/>
<path d="M377.32,345.1 v-1" stroke="#999" stroke-width="0.5"/><path d="M377.32,200.9 v0.8" stroke="#ccc" stroke-width="0.4"/>
<path d="M383.17,345.1 v-1" stroke="#999" stroke-width="0.5"/><path d="M383.17,200.9 v0.8" stroke="#ccc" stroke-width="0.4"/>
<path d="M387.71,345.1 v-1" stroke="#999" stroke-width="0.5"/><path d="M387.71,200.9 v0.8" stroke="#ccc" stroke-width="0.4"/>
<path d="M391.43,345.1 v-1" stroke="#999" stroke-width="0.5"/><path d="M391.43,200.9 v0.8" stroke="#ccc" stroke-width="0.4"/>
<path d="M394.56,345.1 v-1" stroke="#999" stroke-width="0.5"/><path d="M394.56,200.9 v0.8" stroke="#ccc" stroke-width="0.4"/>
<path d="M397.28,345.1 v-1" stroke="#999" stroke-width="0.5"/><path d="M397.28,200.9 v0.8" stroke="#ccc" stroke-width="0.4"/>
<path d="M399.68,345.1 v-1" stroke="#999" stroke-width="0.5"/><path d="M399.68,200.9 v0.8" stroke="#ccc" stroke-width="0.4"/>
<path d="M401.82,345.5 v-2 M401.82,200.5 v2" stroke="#707070" stroke-width="0.8"/>
<text class="s" x="403.32" y="355.5" font-size="7" text-anchor="middle">10<tspan font-size="5" dy="-2.6">−2</tspan></text>
<path d="M415.94,345.1 v-1" stroke="#999" stroke-width="0.5"/><path d="M415.94,200.9 v0.8" stroke="#ccc" stroke-width="0.4"/>
<path d="M424.19,345.1 v-1" stroke="#999" stroke-width="0.5"/><path d="M424.19,200.9 v0.8" stroke="#ccc" stroke-width="0.4"/>
<path d="M430.05,345.1 v-1" stroke="#999" stroke-width="0.5"/><path d="M430.05,200.9 v0.8" stroke="#ccc" stroke-width="0.4"/>
<path d="M434.59,345.1 v-1" stroke="#999" stroke-width="0.5"/><path d="M434.59,200.9 v0.8" stroke="#ccc" stroke-width="0.4"/>
<path d="M438.3,345.1 v-1" stroke="#999" stroke-width="0.5"/><path d="M438.3,200.9 v0.8" stroke="#ccc" stroke-width="0.4"/>
<path d="M441.44,345.1 v-1" stroke="#999" stroke-width="0.5"/><path d="M441.44,200.9 v0.8" stroke="#ccc" stroke-width="0.4"/>
<path d="M444.16,345.1 v-1" stroke="#999" stroke-width="0.5"/><path d="M444.16,200.9 v0.8" stroke="#ccc" stroke-width="0.4"/>
<path d="M446.56,345.1 v-1" stroke="#999" stroke-width="0.5"/><path d="M446.56,200.9 v0.8" stroke="#ccc" stroke-width="0.4"/>
<path d="M448.7,345.5 v-2 M448.7,200.5 v2" stroke="#707070" stroke-width="0.8"/>
<text class="s" x="450.2" y="355.5" font-size="7" text-anchor="middle">10<tspan font-size="5" dy="-2.6">−1</tspan></text>
<path d="M261.2,339.7 h2 M448.7,339.7 h-2" stroke="#707070" stroke-width="0.8"/>
<text class="s" x="257" y="342.2" font-size="7" text-anchor="end">0.0</text>
<path d="M261.2,313.28 h2 M448.7,313.28 h-2" stroke="#707070" stroke-width="0.8"/>
<text class="s" x="257" y="315.78" font-size="7" text-anchor="end">0.2</text>
<path d="M261.2,286.86 h2 M448.7,286.86 h-2" stroke="#707070" stroke-width="0.8"/>
<text class="s" x="257" y="289.36" font-size="7" text-anchor="end">0.4</text>
<path d="M261.2,260.44 h2 M448.7,260.44 h-2" stroke="#707070" stroke-width="0.8"/>
<text class="s" x="257" y="262.94" font-size="7" text-anchor="end">0.6</text>
<path d="M261.2,234.02 h2 M448.7,234.02 h-2" stroke="#707070" stroke-width="0.8"/>
<text class="s" x="257" y="236.52" font-size="7" text-anchor="end">0.8</text>
<path d="M261.2,207.6 h2 M448.7,207.6 h-2" stroke="#707070" stroke-width="0.8"/>
<text class="s" x="257" y="210.1" font-size="7" text-anchor="end">1.0</text>
<text class="s" transform="translate(359.3,368.8) scale(1,1.12)" font-size="8" text-anchor="middle">Time, <tspan font-style="italic">t</tspan></text>
<text x="269.9" y="219.2" font-size="5.9"><tspan font-style="italic">k</tspan><tspan font-size="4.2" dy="1" font-style="italic">AB</tspan><tspan dy="-1"></tspan> = 1.25</text>
<text x="269.9" y="226" font-size="5.9"><tspan font-style="italic">D</tspan><tspan font-size="4.2" dy="1" font-style="italic">A</tspan><tspan dy="-1"></tspan> = <tspan font-style="italic">D</tspan><tspan font-size="4.2" dy="1" font-style="italic">C</tspan><tspan dy="-1"></tspan> = 0</text>
<text x="269.9" y="234.4" font-size="5.9"><tspan font-style="italic">D</tspan><tspan font-size="4.2" dy="1" font-style="italic">B</tspan><tspan dy="-1"></tspan> = 1</text>
<text x="269.9" y="241.2" font-size="5.9"><tspan font-style="italic">P</tspan><tspan font-size="4.2" dy="1" font-style="italic">B</tspan><tspan dy="-1"></tspan>/<tspan font-style="italic">ρ</tspan><tspan font-size="4.2" dy="1" font-style="italic">B</tspan><tspan dy="-1"></tspan> ≈ 0.28</text>
<text x="269.9" y="249.7" font-size="5.9"><tspan font-style="italic">A</tspan><tspan font-size="4" dy="-2.2">0</tspan><tspan font-size="4.2" dx="-2.2" dy="3.4" font-style="italic">s</tspan><tspan dy="-1.2"></tspan> = 1</text>
<text x="269.9" y="257.3" font-size="5.9"><tspan font-style="italic">B</tspan><tspan font-size="4" dy="-2.2">0</tspan><tspan font-size="4.2" dx="-2.2" dy="3.4" font-style="italic">s</tspan><tspan dy="-1.2"></tspan> = 1000</text>
<text x="269.9" y="265.7" font-size="5.9"><tspan font-style="italic">C</tspan><tspan font-size="4" dy="-2.2">0</tspan><tspan font-size="4.2" dx="-2.2" dy="3.4" font-style="italic">s</tspan><tspan dy="-1.2"></tspan> = 0</text>
<text x="269.9" y="275.6" font-size="5.9"><tspan font-style="italic">S</tspan> = 10</text>
<text x="269.9" y="281.4" font-size="5.9"><tspan font-style="italic">r</tspan><tspan font-size="4.2" dy="1" font-style="italic">v</tspan><tspan dy="-1"></tspan> = 0.005</text>
<text x="269.9" y="292.1" font-size="5.9">Iterations = 100000</text>
<rect x="263.9" y="294.2" width="76.6" height="48.8" fill="#f2f2f2" fill-opacity="0.85" stroke="#d4d4d4" stroke-width="0.6" rx="1"/>
<path d="M267.8,300.1 h9.4" stroke="#c9473d" stroke-width="1.1"/>
<text x="279.6" y="301.4" font-size="5.9">Simulation, <tspan font-style="italic">k</tspan><tspan font-size="4.2" dy="1" font-style="italic">C</tspan><tspan dy="-1"> = 5</tspan></text>
<path d="M267.8,307.74 h9.4" stroke="#4cc3ca" stroke-width="1.1"/>
<text x="279.6" y="309.04" font-size="5.9">Simulation, <tspan font-style="italic">k</tspan><tspan font-size="4.2" dy="1" font-style="italic">C</tspan><tspan dy="-1"> = 500</tspan></text>
<path d="M267.8,315.38 h9.4" stroke="#d9584b" stroke-width="1.0" stroke-dasharray="1,0.8"/>
<text x="279.6" y="316.68" font-size="5.9">Mass Action, <tspan font-style="italic">k</tspan><tspan font-size="4.2" dy="1" font-style="italic">C</tspan><tspan dy="-1"> = 5</tspan></text>
<path d="M267.8,323.02 h9.4" stroke="#62cdd3" stroke-width="1.0" stroke-dasharray="1,0.8"/>
<text x="279.6" y="324.32" font-size="5.9">Mass Action, <tspan font-style="italic">k</tspan><tspan font-size="4.2" dy="1" font-style="italic">C</tspan><tspan dy="-1"> = 500</tspan></text>
<path d="M267.8,330.66 h9.4" stroke="#111" stroke-width="1.0" stroke-dasharray="3,1.6"/>
<text x="279.6" y="331.96" font-size="5.9">MPK1, <tspan font-style="italic">k</tspan><tspan font-size="4.2" dy="1" font-style="italic">C</tspan><tspan dy="-1"> = 5</tspan></text>
<path d="M267.8,338.3 h9.4" stroke="#333" stroke-width="0.9" stroke-dasharray="1,0.8"/>
<text x="279.6" y="339.6" font-size="5.9">MPK1, <tspan font-style="italic">k</tspan><tspan font-size="4.2" dy="1" font-style="italic">C</tspan><tspan dy="-1"> = 500</tspan></text>
<text transform="translate(241.1,313.7) rotate(-90)" font-size="8.75" text-anchor="middle"><tspan font-style="italic">S</tspan><tspan font-size="5.6" dy="1.6">rev</tspan><tspan dy="-1.6">(</tspan><tspan font-style="italic">t</tspan>) − <tspan font-style="italic">S</tspan><tspan font-size="5.6" dy="1.6">rev</tspan><tspan dy="-1.6">(∞)</tspan></text>
<text transform="translate(241.1,235) rotate(-90)" font-size="8.75" text-anchor="middle"><tspan font-style="italic">S</tspan><tspan font-size="5.6" dy="1.6">rev</tspan><tspan dy="-1.6">(0) − </tspan><tspan font-style="italic">S</tspan><tspan font-size="5.6" dy="1.6">rev</tspan><tspan dy="-1.6">(∞)</tspan></text>
<path d="M232.1,344.5 C233.7,347.97 244.1,347.97 245.7,344.5" fill="none" stroke="#222" stroke-width="1.15"/>
<path d="M232.1,284 C233.7,280.8 244.1,280.8 245.7,284" fill="none" stroke="#222" stroke-width="1.15"/>
<path d="M232.1,266.9 C233.7,269.7 244.1,269.7 245.7,266.9" fill="none" stroke="#222" stroke-width="1.15"/>
<path d="M232.1,204.1 C233.7,201.17 244.1,201.17 245.7,204.1" fill="none" stroke="#222" stroke-width="1.15"/>
<path d="M231.8,272.6 L245.7,278.1" stroke="#333" stroke-width="0.9"/>
</svg>
</body></html>
